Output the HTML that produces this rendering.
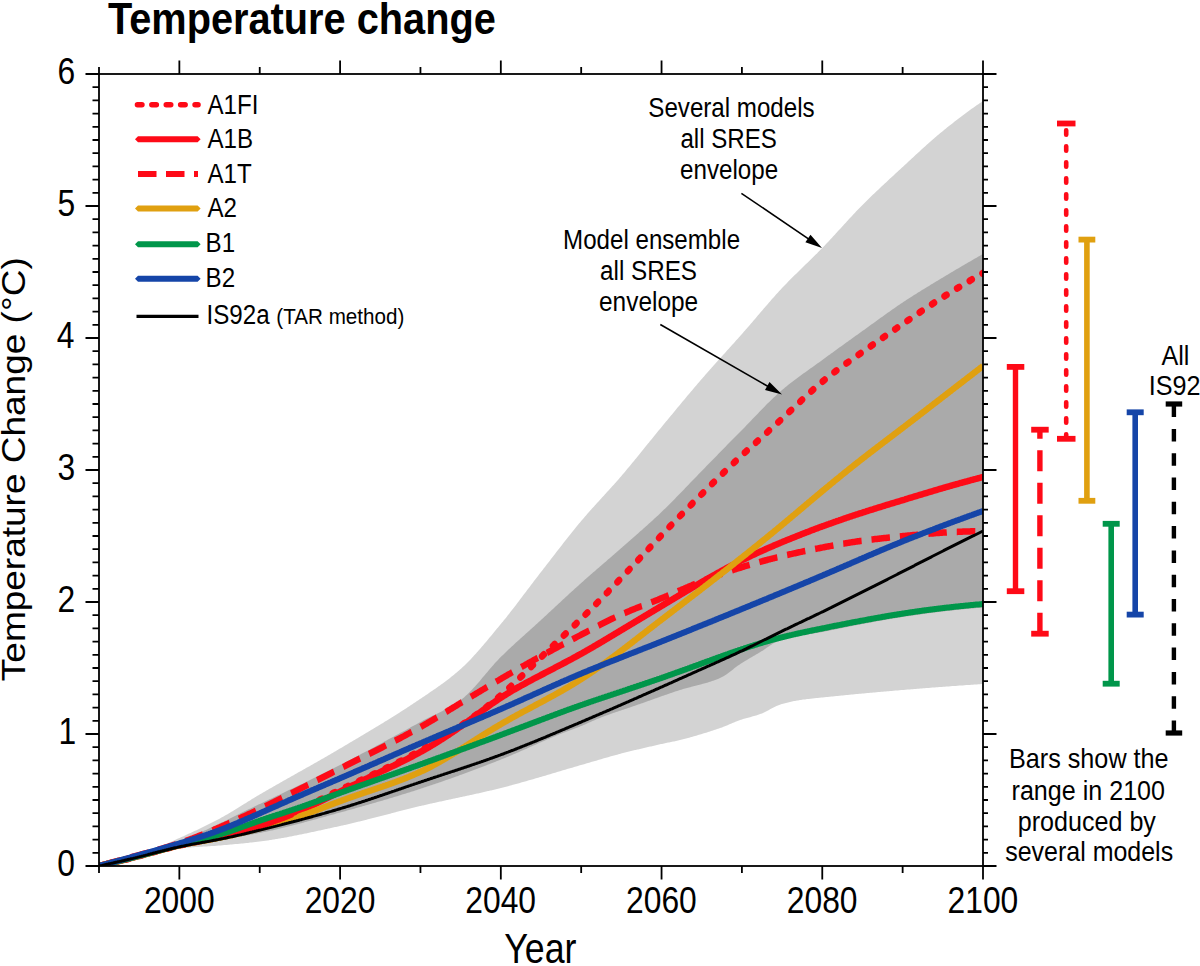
<!DOCTYPE html>
<html><head><meta charset="utf-8"><title>Temperature change</title>
<style>html,body{margin:0;padding:0;background:#fff;}svg{display:block;}text{font-family:"Liberation Sans",sans-serif;}</style>
</head><body>
<svg width="1200" height="966" viewBox="0 0 1200 966" font-family="Liberation Sans, sans-serif">
<rect width="1200" height="966" fill="#fff"/>
<defs><clipPath id="pc"><rect x="99.0" y="74" width="884.0" height="792.0"/></clipPath></defs>
<g clip-path="url(#pc)">
<path d="M99.0 866.0 L100.0 865.8 L101.0 865.6 L102.0 865.4 L103.0 865.2 L104.0 864.9 L105.0 864.7 L106.0 864.5 L107.0 864.3 L108.0 864.0 L109.0 863.8 L110.0 863.6 L111.0 863.3 L112.0 863.1 L113.0 862.8 L114.0 862.5 L115.0 862.3 L116.0 862.0 L117.0 861.7 L118.0 861.5 L119.0 861.2 L120.0 860.9 L121.0 860.6 L122.0 860.3 L123.0 860.1 L124.0 859.8 L125.0 859.5 L126.0 859.2 L127.0 858.9 L128.0 858.6 L129.0 858.3 L130.0 858.0 L131.0 857.6 L132.0 857.3 L133.0 857.0 L134.0 856.7 L135.0 856.4 L136.0 856.0 L137.0 855.7 L138.0 855.4 L139.0 855.1 L140.0 854.7 L141.0 854.4 L142.0 854.0 L143.0 853.7 L144.0 853.3 L145.0 852.9 L146.0 852.6 L147.0 852.2 L148.0 851.8 L149.0 851.4 L150.0 851.0 L151.0 850.6 L152.0 850.2 L153.0 849.8 L154.0 849.4 L155.0 848.9 L156.0 848.5 L157.0 848.1 L158.0 847.7 L159.0 847.2 L160.0 846.8 L161.0 846.3 L162.0 845.9 L163.0 845.4 L164.0 845.0 L165.0 844.5 L166.0 844.1 L167.0 843.6 L168.0 843.2 L169.0 842.7 L170.0 842.3 L171.0 841.8 L172.0 841.4 L173.0 840.9 L174.0 840.4 L175.0 840.0 L176.0 839.5 L177.0 839.1 L178.0 838.6 L179.0 838.2 L180.0 837.7 L181.0 837.3 L182.0 836.8 L183.0 836.4 L184.0 835.9 L185.0 835.4 L186.0 835.0 L187.0 834.5 L188.0 834.1 L189.0 833.6 L190.0 833.2 L191.0 832.7 L192.0 832.2 L193.0 831.8 L194.0 831.3 L195.0 830.8 L196.0 830.4 L197.0 829.9 L198.0 829.4 L199.0 828.9 L200.0 828.5 L201.0 828.0 L202.0 827.5 L203.0 827.0 L204.0 826.5 L205.0 826.0 L206.0 825.5 L207.0 825.1 L208.0 824.6 L209.0 824.1 L210.0 823.6 L211.0 823.0 L212.0 822.5 L213.0 822.0 L214.0 821.5 L215.0 821.0 L216.0 820.5 L217.0 820.0 L218.0 819.4 L219.0 818.9 L220.0 818.4 L221.0 817.8 L222.0 817.3 L223.0 816.7 L224.0 816.2 L225.0 815.6 L226.0 815.0 L227.0 814.4 L228.0 813.9 L229.0 813.3 L230.0 812.7 L231.0 812.1 L232.0 811.5 L233.0 810.9 L234.0 810.3 L235.0 809.7 L236.0 809.1 L237.0 808.4 L238.0 807.8 L239.0 807.2 L240.0 806.6 L241.0 806.0 L242.0 805.3 L243.0 804.7 L244.0 804.1 L245.0 803.5 L246.0 802.9 L247.0 802.2 L248.0 801.6 L249.0 801.0 L250.0 800.4 L251.0 799.8 L252.0 799.1 L253.0 798.5 L254.0 797.9 L255.0 797.3 L256.0 796.7 L257.0 796.1 L258.0 795.5 L259.0 794.9 L260.0 794.3 L261.0 793.8 L262.0 793.2 L263.0 792.6 L264.0 792.0 L265.0 791.4 L266.0 790.8 L267.0 790.3 L268.0 789.7 L269.0 789.1 L270.0 788.5 L271.0 788.0 L272.0 787.4 L273.0 786.8 L274.0 786.2 L275.0 785.7 L276.0 785.1 L277.0 784.5 L278.0 783.9 L279.0 783.4 L280.0 782.8 L281.0 782.2 L282.0 781.7 L283.0 781.1 L284.0 780.5 L285.0 780.0 L286.0 779.4 L287.0 778.8 L288.0 778.3 L289.0 777.7 L290.0 777.2 L291.0 776.6 L292.0 776.0 L293.0 775.5 L294.0 774.9 L295.0 774.3 L296.0 773.8 L297.0 773.2 L298.0 772.6 L299.0 772.1 L300.0 771.5 L301.0 771.0 L302.0 770.4 L303.0 769.8 L304.0 769.3 L305.0 768.7 L306.0 768.1 L307.0 767.6 L308.0 767.0 L309.0 766.4 L310.0 765.9 L311.0 765.3 L312.0 764.7 L313.0 764.2 L314.0 763.6 L315.0 763.0 L316.0 762.5 L317.0 761.9 L318.0 761.3 L319.0 760.8 L320.0 760.2 L321.0 759.6 L322.0 759.0 L323.0 758.5 L324.0 757.9 L325.0 757.3 L326.0 756.7 L327.0 756.2 L328.0 755.6 L329.0 755.0 L330.0 754.4 L331.0 753.8 L332.0 753.3 L333.0 752.7 L334.0 752.1 L335.0 751.5 L336.0 750.9 L337.0 750.3 L338.0 749.7 L339.0 749.1 L340.0 748.6 L341.0 748.0 L342.0 747.4 L343.0 746.8 L344.0 746.2 L345.0 745.6 L346.0 745.0 L347.0 744.4 L348.0 743.8 L349.0 743.2 L350.0 742.6 L351.0 742.0 L352.0 741.4 L353.0 740.8 L354.0 740.3 L355.0 739.7 L356.0 739.1 L357.0 738.5 L358.0 737.9 L359.0 737.3 L360.0 736.7 L361.0 736.1 L362.0 735.5 L363.0 734.9 L364.0 734.3 L365.0 733.7 L366.0 733.1 L367.0 732.5 L368.0 731.9 L369.0 731.3 L370.0 730.7 L371.0 730.1 L372.0 729.5 L373.0 728.9 L374.0 728.3 L375.0 727.7 L376.0 727.1 L377.0 726.5 L378.0 725.9 L379.0 725.3 L380.0 724.7 L381.0 724.1 L382.0 723.5 L383.0 722.9 L384.0 722.2 L385.0 721.6 L386.0 721.0 L387.0 720.4 L388.0 719.8 L389.0 719.2 L390.0 718.5 L391.0 717.9 L392.0 717.3 L393.0 716.7 L394.0 716.0 L395.0 715.4 L396.0 714.8 L397.0 714.2 L398.0 713.5 L399.0 712.9 L400.0 712.3 L401.0 711.6 L402.0 711.0 L403.0 710.3 L404.0 709.7 L405.0 709.0 L406.0 708.4 L407.0 707.8 L408.0 707.1 L409.0 706.4 L410.0 705.8 L411.0 705.1 L412.0 704.5 L413.0 703.8 L414.0 703.1 L415.0 702.5 L416.0 701.8 L417.0 701.1 L418.0 700.5 L419.0 699.8 L420.0 699.1 L421.0 698.4 L422.0 697.7 L423.0 697.1 L424.0 696.4 L425.0 695.7 L426.0 695.0 L427.0 694.4 L428.0 693.7 L429.0 693.0 L430.0 692.3 L431.0 691.6 L432.0 690.9 L433.0 690.3 L434.0 689.6 L435.0 688.9 L436.0 688.2 L437.0 687.5 L438.0 686.8 L439.0 686.1 L440.0 685.4 L441.0 684.6 L442.0 683.9 L443.0 683.2 L444.0 682.4 L445.0 681.7 L446.0 681.0 L447.0 680.2 L448.0 679.4 L449.0 678.7 L450.0 677.9 L451.0 677.1 L452.0 676.3 L453.0 675.5 L454.0 674.7 L455.0 673.8 L456.0 673.0 L457.0 672.2 L458.0 671.3 L459.0 670.4 L460.0 669.6 L461.0 668.7 L462.0 667.8 L463.0 666.8 L464.0 665.9 L465.0 664.9 L466.0 664.0 L467.0 663.0 L468.0 662.0 L469.0 660.9 L470.0 659.9 L471.0 658.9 L472.0 657.8 L473.0 656.7 L474.0 655.6 L475.0 654.5 L476.0 653.4 L477.0 652.3 L478.0 651.2 L479.0 650.0 L480.0 648.9 L481.0 647.7 L482.0 646.6 L483.0 645.4 L484.0 644.2 L485.0 643.0 L486.0 641.9 L487.0 640.7 L488.0 639.5 L489.0 638.3 L490.0 637.1 L491.0 635.9 L492.0 634.7 L493.0 633.4 L494.0 632.2 L495.0 631.0 L496.0 629.8 L497.0 628.6 L498.0 627.4 L499.0 626.2 L500.0 625.0 L501.0 623.8 L502.0 622.6 L503.0 621.4 L504.0 620.1 L505.0 618.9 L506.0 617.7 L507.0 616.4 L508.0 615.1 L509.0 613.9 L510.0 612.6 L511.0 611.3 L512.0 610.0 L513.0 608.8 L514.0 607.5 L515.0 606.2 L516.0 604.9 L517.0 603.5 L518.0 602.2 L519.0 600.9 L520.0 599.6 L521.0 598.3 L522.0 597.0 L523.0 595.6 L524.0 594.3 L525.0 593.0 L526.0 591.7 L527.0 590.3 L528.0 589.0 L529.0 587.7 L530.0 586.4 L531.0 585.0 L532.0 583.7 L533.0 582.4 L534.0 581.1 L535.0 579.8 L536.0 578.5 L537.0 577.2 L538.0 575.9 L539.0 574.6 L540.0 573.3 L541.0 572.0 L542.0 570.7 L543.0 569.4 L544.0 568.1 L545.0 566.9 L546.0 565.6 L547.0 564.3 L548.0 563.0 L549.0 561.7 L550.0 560.4 L551.0 559.1 L552.0 557.8 L553.0 556.5 L554.0 555.2 L555.0 553.9 L556.0 552.6 L557.0 551.3 L558.0 550.0 L559.0 548.7 L560.0 547.4 L561.0 546.2 L562.0 544.9 L563.0 543.6 L564.0 542.3 L565.0 541.0 L566.0 539.8 L567.0 538.5 L568.0 537.2 L569.0 536.0 L570.0 534.7 L571.0 533.4 L572.0 532.2 L573.0 531.0 L574.0 529.7 L575.0 528.5 L576.0 527.3 L577.0 526.0 L578.0 524.8 L579.0 523.6 L580.0 522.4 L581.0 521.2 L582.0 520.0 L583.0 518.9 L584.0 517.7 L585.0 516.5 L586.0 515.4 L587.0 514.2 L588.0 513.1 L589.0 511.9 L590.0 510.8 L591.0 509.7 L592.0 508.6 L593.0 507.5 L594.0 506.4 L595.0 505.3 L596.0 504.2 L597.0 503.1 L598.0 502.0 L599.0 500.9 L600.0 499.8 L601.0 498.7 L602.0 497.6 L603.0 496.5 L604.0 495.4 L605.0 494.3 L606.0 493.2 L607.0 492.1 L608.0 491.0 L609.0 489.9 L610.0 488.8 L611.0 487.7 L612.0 486.6 L613.0 485.5 L614.0 484.4 L615.0 483.3 L616.0 482.2 L617.0 481.0 L618.0 479.9 L619.0 478.7 L620.0 477.6 L621.0 476.4 L622.0 475.3 L623.0 474.1 L624.0 472.9 L625.0 471.7 L626.0 470.5 L627.0 469.3 L628.0 468.1 L629.0 466.9 L630.0 465.7 L631.0 464.5 L632.0 463.3 L633.0 462.1 L634.0 460.9 L635.0 459.6 L636.0 458.4 L637.0 457.2 L638.0 456.0 L639.0 454.7 L640.0 453.5 L641.0 452.3 L642.0 451.0 L643.0 449.8 L644.0 448.5 L645.0 447.3 L646.0 446.1 L647.0 444.8 L648.0 443.6 L649.0 442.4 L650.0 441.1 L651.0 439.9 L652.0 438.7 L653.0 437.4 L654.0 436.2 L655.0 435.0 L656.0 433.7 L657.0 432.5 L658.0 431.3 L659.0 430.1 L660.0 428.9 L661.0 427.7 L662.0 426.5 L663.0 425.2 L664.0 424.0 L665.0 422.8 L666.0 421.6 L667.0 420.4 L668.0 419.2 L669.0 418.0 L670.0 416.8 L671.0 415.6 L672.0 414.4 L673.0 413.2 L674.0 411.9 L675.0 410.7 L676.0 409.5 L677.0 408.3 L678.0 407.1 L679.0 405.9 L680.0 404.7 L681.0 403.5 L682.0 402.3 L683.0 401.1 L684.0 399.9 L685.0 398.7 L686.0 397.5 L687.0 396.3 L688.0 395.1 L689.0 393.9 L690.0 392.8 L691.0 391.6 L692.0 390.4 L693.0 389.2 L694.0 388.0 L695.0 386.8 L696.0 385.7 L697.0 384.5 L698.0 383.3 L699.0 382.2 L700.0 381.0 L701.0 379.8 L702.0 378.7 L703.0 377.5 L704.0 376.4 L705.0 375.2 L706.0 374.1 L707.0 373.0 L708.0 371.8 L709.0 370.7 L710.0 369.6 L711.0 368.4 L712.0 367.3 L713.0 366.2 L714.0 365.1 L715.0 364.0 L716.0 362.8 L717.0 361.7 L718.0 360.6 L719.0 359.5 L720.0 358.4 L721.0 357.3 L722.0 356.2 L723.0 355.1 L724.0 354.0 L725.0 352.9 L726.0 351.8 L727.0 350.6 L728.0 349.5 L729.0 348.4 L730.0 347.3 L731.0 346.2 L732.0 345.1 L733.0 344.0 L734.0 342.9 L735.0 341.8 L736.0 340.6 L737.0 339.5 L738.0 338.4 L739.0 337.3 L740.0 336.2 L741.0 335.0 L742.0 333.9 L743.0 332.8 L744.0 331.6 L745.0 330.5 L746.0 329.3 L747.0 328.2 L748.0 327.0 L749.0 325.9 L750.0 324.7 L751.0 323.5 L752.0 322.4 L753.0 321.2 L754.0 320.0 L755.0 318.9 L756.0 317.7 L757.0 316.5 L758.0 315.3 L759.0 314.2 L760.0 313.0 L761.0 311.8 L762.0 310.7 L763.0 309.5 L764.0 308.3 L765.0 307.2 L766.0 306.0 L767.0 304.9 L768.0 303.7 L769.0 302.5 L770.0 301.4 L771.0 300.3 L772.0 299.1 L773.0 298.0 L774.0 296.9 L775.0 295.7 L776.0 294.6 L777.0 293.5 L778.0 292.4 L779.0 291.3 L780.0 290.2 L781.0 289.2 L782.0 288.1 L783.0 287.0 L784.0 286.0 L785.0 284.9 L786.0 283.9 L787.0 282.9 L788.0 281.8 L789.0 280.8 L790.0 279.8 L791.0 278.8 L792.0 277.8 L793.0 276.8 L794.0 275.8 L795.0 274.8 L796.0 273.9 L797.0 272.9 L798.0 271.9 L799.0 270.9 L800.0 269.9 L801.0 269.0 L802.0 268.0 L803.0 267.0 L804.0 266.1 L805.0 265.1 L806.0 264.1 L807.0 263.2 L808.0 262.2 L809.0 261.2 L810.0 260.2 L811.0 259.3 L812.0 258.3 L813.0 257.3 L814.0 256.3 L815.0 255.3 L816.0 254.3 L817.0 253.4 L818.0 252.3 L819.0 251.3 L820.0 250.3 L821.0 249.3 L822.0 248.3 L823.0 247.2 L824.0 246.2 L825.0 245.2 L826.0 244.1 L827.0 243.1 L828.0 242.0 L829.0 240.9 L830.0 239.8 L831.0 238.8 L832.0 237.7 L833.0 236.6 L834.0 235.5 L835.0 234.4 L836.0 233.3 L837.0 232.2 L838.0 231.1 L839.0 230.1 L840.0 229.0 L841.0 227.9 L842.0 226.8 L843.0 225.7 L844.0 224.6 L845.0 223.5 L846.0 222.4 L847.0 221.3 L848.0 220.2 L849.0 219.1 L850.0 218.0 L851.0 217.0 L852.0 215.9 L853.0 214.8 L854.0 213.8 L855.0 212.7 L856.0 211.6 L857.0 210.6 L858.0 209.6 L859.0 208.5 L860.0 207.5 L861.0 206.5 L862.0 205.5 L863.0 204.5 L864.0 203.5 L865.0 202.5 L866.0 201.5 L867.0 200.5 L868.0 199.5 L869.0 198.5 L870.0 197.5 L871.0 196.6 L872.0 195.6 L873.0 194.6 L874.0 193.7 L875.0 192.7 L876.0 191.8 L877.0 190.8 L878.0 189.9 L879.0 188.9 L880.0 188.0 L881.0 187.0 L882.0 186.1 L883.0 185.2 L884.0 184.2 L885.0 183.3 L886.0 182.4 L887.0 181.4 L888.0 180.5 L889.0 179.6 L890.0 178.6 L891.0 177.7 L892.0 176.8 L893.0 175.9 L894.0 174.9 L895.0 174.0 L896.0 173.1 L897.0 172.2 L898.0 171.3 L899.0 170.3 L900.0 169.4 L901.0 168.5 L902.0 167.6 L903.0 166.7 L904.0 165.7 L905.0 164.8 L906.0 163.9 L907.0 163.0 L908.0 162.0 L909.0 161.1 L910.0 160.2 L911.0 159.3 L912.0 158.3 L913.0 157.4 L914.0 156.5 L915.0 155.6 L916.0 154.6 L917.0 153.7 L918.0 152.8 L919.0 151.9 L920.0 151.0 L921.0 150.0 L922.0 149.1 L923.0 148.2 L924.0 147.3 L925.0 146.4 L926.0 145.5 L927.0 144.6 L928.0 143.7 L929.0 142.8 L930.0 141.9 L931.0 141.0 L932.0 140.2 L933.0 139.3 L934.0 138.4 L935.0 137.6 L936.0 136.7 L937.0 135.8 L938.0 135.0 L939.0 134.2 L940.0 133.3 L941.0 132.5 L942.0 131.7 L943.0 130.9 L944.0 130.0 L945.0 129.2 L946.0 128.4 L947.0 127.6 L948.0 126.8 L949.0 126.0 L950.0 125.2 L951.0 124.4 L952.0 123.7 L953.0 122.9 L954.0 122.1 L955.0 121.3 L956.0 120.5 L957.0 119.8 L958.0 119.0 L959.0 118.2 L960.0 117.5 L961.0 116.7 L962.0 116.0 L963.0 115.2 L964.0 114.5 L965.0 113.7 L966.0 113.0 L967.0 112.3 L968.0 111.5 L969.0 110.8 L970.0 110.1 L971.0 109.3 L972.0 108.6 L973.0 107.9 L974.0 107.2 L975.0 106.5 L976.0 105.8 L977.0 105.1 L978.0 104.4 L979.0 103.7 L980.0 103.0 L981.0 102.4 L982.0 101.7 L983.0 101.0 L983.0 684.0 L982.0 684.1 L981.0 684.1 L980.0 684.2 L979.0 684.3 L978.0 684.3 L977.0 684.4 L976.0 684.5 L975.0 684.5 L974.0 684.6 L973.0 684.7 L972.0 684.7 L971.0 684.8 L970.0 684.9 L969.0 684.9 L968.0 685.0 L967.0 685.1 L966.0 685.1 L965.0 685.2 L964.0 685.3 L963.0 685.4 L962.0 685.4 L961.0 685.5 L960.0 685.6 L959.0 685.6 L958.0 685.7 L957.0 685.8 L956.0 685.9 L955.0 685.9 L954.0 686.0 L953.0 686.1 L952.0 686.1 L951.0 686.2 L950.0 686.3 L949.0 686.4 L948.0 686.4 L947.0 686.5 L946.0 686.6 L945.0 686.7 L944.0 686.7 L943.0 686.8 L942.0 686.9 L941.0 687.0 L940.0 687.0 L939.0 687.1 L938.0 687.2 L937.0 687.3 L936.0 687.3 L935.0 687.4 L934.0 687.5 L933.0 687.6 L932.0 687.6 L931.0 687.7 L930.0 687.8 L929.0 687.9 L928.0 688.0 L927.0 688.0 L926.0 688.1 L925.0 688.2 L924.0 688.3 L923.0 688.3 L922.0 688.4 L921.0 688.5 L920.0 688.6 L919.0 688.7 L918.0 688.7 L917.0 688.8 L916.0 688.9 L915.0 689.0 L914.0 689.1 L913.0 689.2 L912.0 689.2 L911.0 689.3 L910.0 689.4 L909.0 689.5 L908.0 689.6 L907.0 689.6 L906.0 689.7 L905.0 689.8 L904.0 689.9 L903.0 690.0 L902.0 690.1 L901.0 690.1 L900.0 690.2 L899.0 690.3 L898.0 690.4 L897.0 690.5 L896.0 690.6 L895.0 690.6 L894.0 690.7 L893.0 690.8 L892.0 690.9 L891.0 691.0 L890.0 691.1 L889.0 691.2 L888.0 691.2 L887.0 691.3 L886.0 691.4 L885.0 691.5 L884.0 691.6 L883.0 691.7 L882.0 691.8 L881.0 691.8 L880.0 691.9 L879.0 692.0 L878.0 692.1 L877.0 692.2 L876.0 692.3 L875.0 692.4 L874.0 692.5 L873.0 692.6 L872.0 692.7 L871.0 692.7 L870.0 692.8 L869.0 692.9 L868.0 693.0 L867.0 693.1 L866.0 693.2 L865.0 693.3 L864.0 693.4 L863.0 693.5 L862.0 693.6 L861.0 693.7 L860.0 693.8 L859.0 693.8 L858.0 693.9 L857.0 694.0 L856.0 694.1 L855.0 694.2 L854.0 694.3 L853.0 694.4 L852.0 694.5 L851.0 694.6 L850.0 694.7 L849.0 694.8 L848.0 694.9 L847.0 695.0 L846.0 695.1 L845.0 695.2 L844.0 695.3 L843.0 695.4 L842.0 695.5 L841.0 695.6 L840.0 695.7 L839.0 695.8 L838.0 695.9 L837.0 696.0 L836.0 696.1 L835.0 696.2 L834.0 696.3 L833.0 696.4 L832.0 696.5 L831.0 696.6 L830.0 696.7 L829.0 696.8 L828.0 696.9 L827.0 697.0 L826.0 697.1 L825.0 697.2 L824.0 697.3 L823.0 697.4 L822.0 697.5 L821.0 697.6 L820.0 697.7 L819.0 697.8 L818.0 697.9 L817.0 698.0 L816.0 698.1 L815.0 698.2 L814.0 698.3 L813.0 698.5 L812.0 698.6 L811.0 698.7 L810.0 698.8 L809.0 698.9 L808.0 699.0 L807.0 699.1 L806.0 699.3 L805.0 699.4 L804.0 699.5 L803.0 699.6 L802.0 699.8 L801.0 699.9 L800.0 700.1 L799.0 700.2 L798.0 700.4 L797.0 700.6 L796.0 700.8 L795.0 701.0 L794.0 701.1 L793.0 701.3 L792.0 701.6 L791.0 701.8 L790.0 702.0 L789.0 702.2 L788.0 702.5 L787.0 702.7 L786.0 703.0 L785.0 703.2 L784.0 703.5 L783.0 703.8 L782.0 704.0 L781.0 704.3 L780.0 704.7 L779.0 705.0 L778.0 705.4 L777.0 705.8 L776.0 706.2 L775.0 706.7 L774.0 707.2 L773.0 707.7 L772.0 708.3 L771.0 708.8 L770.0 709.3 L769.0 709.9 L768.0 710.4 L767.0 710.9 L766.0 711.5 L765.0 712.0 L764.0 712.5 L763.0 712.9 L762.0 713.4 L761.0 713.8 L760.0 714.1 L759.0 714.5 L758.0 714.8 L757.0 715.2 L756.0 715.5 L755.0 715.8 L754.0 716.1 L753.0 716.3 L752.0 716.6 L751.0 716.9 L750.0 717.2 L749.0 717.4 L748.0 717.7 L747.0 718.0 L746.0 718.3 L745.0 718.5 L744.0 718.8 L743.0 719.1 L742.0 719.4 L741.0 719.8 L740.0 720.1 L739.0 720.5 L738.0 720.8 L737.0 721.2 L736.0 721.6 L735.0 722.0 L734.0 722.4 L733.0 722.8 L732.0 723.2 L731.0 723.7 L730.0 724.1 L729.0 724.5 L728.0 724.9 L727.0 725.4 L726.0 725.8 L725.0 726.2 L724.0 726.6 L723.0 727.0 L722.0 727.4 L721.0 727.7 L720.0 728.1 L719.0 728.4 L718.0 728.8 L717.0 729.1 L716.0 729.4 L715.0 729.8 L714.0 730.1 L713.0 730.4 L712.0 730.8 L711.0 731.1 L710.0 731.4 L709.0 731.7 L708.0 732.1 L707.0 732.4 L706.0 732.7 L705.0 733.0 L704.0 733.3 L703.0 733.6 L702.0 733.9 L701.0 734.2 L700.0 734.5 L699.0 734.8 L698.0 735.1 L697.0 735.4 L696.0 735.7 L695.0 736.0 L694.0 736.3 L693.0 736.6 L692.0 736.9 L691.0 737.1 L690.0 737.4 L689.0 737.7 L688.0 737.9 L687.0 738.2 L686.0 738.5 L685.0 738.7 L684.0 739.0 L683.0 739.3 L682.0 739.5 L681.0 739.8 L680.0 740.0 L679.0 740.2 L678.0 740.5 L677.0 740.7 L676.0 740.9 L675.0 741.2 L674.0 741.4 L673.0 741.6 L672.0 741.8 L671.0 742.0 L670.0 742.2 L669.0 742.4 L668.0 742.6 L667.0 742.8 L666.0 743.0 L665.0 743.2 L664.0 743.5 L663.0 743.7 L662.0 743.9 L661.0 744.1 L660.0 744.3 L659.0 744.6 L658.0 744.8 L657.0 745.0 L656.0 745.2 L655.0 745.5 L654.0 745.7 L653.0 745.9 L652.0 746.2 L651.0 746.4 L650.0 746.6 L649.0 746.8 L648.0 747.1 L647.0 747.3 L646.0 747.5 L645.0 747.8 L644.0 748.0 L643.0 748.2 L642.0 748.5 L641.0 748.7 L640.0 748.9 L639.0 749.2 L638.0 749.4 L637.0 749.6 L636.0 749.9 L635.0 750.1 L634.0 750.3 L633.0 750.6 L632.0 750.8 L631.0 751.1 L630.0 751.3 L629.0 751.6 L628.0 751.8 L627.0 752.1 L626.0 752.3 L625.0 752.6 L624.0 752.8 L623.0 753.1 L622.0 753.3 L621.0 753.6 L620.0 753.9 L619.0 754.1 L618.0 754.4 L617.0 754.7 L616.0 754.9 L615.0 755.2 L614.0 755.5 L613.0 755.8 L612.0 756.0 L611.0 756.3 L610.0 756.6 L609.0 756.9 L608.0 757.2 L607.0 757.4 L606.0 757.7 L605.0 758.0 L604.0 758.3 L603.0 758.6 L602.0 758.9 L601.0 759.2 L600.0 759.5 L599.0 759.8 L598.0 760.1 L597.0 760.4 L596.0 760.7 L595.0 761.0 L594.0 761.3 L593.0 761.6 L592.0 761.8 L591.0 762.1 L590.0 762.4 L589.0 762.7 L588.0 763.0 L587.0 763.3 L586.0 763.6 L585.0 763.9 L584.0 764.2 L583.0 764.5 L582.0 764.8 L581.0 765.1 L580.0 765.3 L579.0 765.6 L578.0 765.9 L577.0 766.2 L576.0 766.5 L575.0 766.8 L574.0 767.1 L573.0 767.4 L572.0 767.7 L571.0 768.0 L570.0 768.2 L569.0 768.5 L568.0 768.8 L567.0 769.1 L566.0 769.4 L565.0 769.7 L564.0 770.0 L563.0 770.3 L562.0 770.6 L561.0 770.9 L560.0 771.2 L559.0 771.5 L558.0 771.8 L557.0 772.1 L556.0 772.4 L555.0 772.7 L554.0 773.0 L553.0 773.3 L552.0 773.6 L551.0 773.9 L550.0 774.2 L549.0 774.5 L548.0 774.8 L547.0 775.1 L546.0 775.4 L545.0 775.7 L544.0 776.0 L543.0 776.3 L542.0 776.6 L541.0 776.9 L540.0 777.1 L539.0 777.4 L538.0 777.7 L537.0 778.0 L536.0 778.3 L535.0 778.6 L534.0 778.9 L533.0 779.2 L532.0 779.5 L531.0 779.8 L530.0 780.1 L529.0 780.3 L528.0 780.6 L527.0 780.9 L526.0 781.2 L525.0 781.5 L524.0 781.8 L523.0 782.1 L522.0 782.3 L521.0 782.6 L520.0 782.9 L519.0 783.2 L518.0 783.5 L517.0 783.7 L516.0 784.0 L515.0 784.3 L514.0 784.5 L513.0 784.8 L512.0 785.1 L511.0 785.4 L510.0 785.6 L509.0 785.9 L508.0 786.2 L507.0 786.4 L506.0 786.7 L505.0 786.9 L504.0 787.2 L503.0 787.4 L502.0 787.7 L501.0 788.0 L500.0 788.2 L499.0 788.5 L498.0 788.7 L497.0 788.9 L496.0 789.2 L495.0 789.4 L494.0 789.7 L493.0 789.9 L492.0 790.2 L491.0 790.4 L490.0 790.6 L489.0 790.9 L488.0 791.1 L487.0 791.3 L486.0 791.6 L485.0 791.8 L484.0 792.0 L483.0 792.2 L482.0 792.5 L481.0 792.7 L480.0 792.9 L479.0 793.2 L478.0 793.4 L477.0 793.6 L476.0 793.8 L475.0 794.0 L474.0 794.3 L473.0 794.5 L472.0 794.7 L471.0 794.9 L470.0 795.1 L469.0 795.4 L468.0 795.6 L467.0 795.8 L466.0 796.0 L465.0 796.2 L464.0 796.4 L463.0 796.6 L462.0 796.9 L461.0 797.1 L460.0 797.3 L459.0 797.5 L458.0 797.7 L457.0 797.9 L456.0 798.1 L455.0 798.4 L454.0 798.6 L453.0 798.8 L452.0 799.0 L451.0 799.2 L450.0 799.4 L449.0 799.6 L448.0 799.9 L447.0 800.1 L446.0 800.3 L445.0 800.5 L444.0 800.7 L443.0 800.9 L442.0 801.2 L441.0 801.4 L440.0 801.6 L439.0 801.8 L438.0 802.0 L437.0 802.2 L436.0 802.5 L435.0 802.7 L434.0 802.9 L433.0 803.1 L432.0 803.4 L431.0 803.6 L430.0 803.8 L429.0 804.0 L428.0 804.3 L427.0 804.5 L426.0 804.7 L425.0 804.9 L424.0 805.2 L423.0 805.4 L422.0 805.6 L421.0 805.9 L420.0 806.1 L419.0 806.3 L418.0 806.6 L417.0 806.8 L416.0 807.1 L415.0 807.3 L414.0 807.5 L413.0 807.8 L412.0 808.0 L411.0 808.3 L410.0 808.5 L409.0 808.8 L408.0 809.0 L407.0 809.3 L406.0 809.5 L405.0 809.8 L404.0 810.0 L403.0 810.3 L402.0 810.6 L401.0 810.8 L400.0 811.1 L399.0 811.3 L398.0 811.6 L397.0 811.8 L396.0 812.1 L395.0 812.4 L394.0 812.6 L393.0 812.9 L392.0 813.1 L391.0 813.4 L390.0 813.7 L389.0 813.9 L388.0 814.2 L387.0 814.4 L386.0 814.7 L385.0 815.0 L384.0 815.2 L383.0 815.5 L382.0 815.7 L381.0 816.0 L380.0 816.3 L379.0 816.5 L378.0 816.8 L377.0 817.0 L376.0 817.3 L375.0 817.6 L374.0 817.8 L373.0 818.1 L372.0 818.3 L371.0 818.6 L370.0 818.8 L369.0 819.1 L368.0 819.3 L367.0 819.6 L366.0 819.9 L365.0 820.1 L364.0 820.4 L363.0 820.6 L362.0 820.9 L361.0 821.1 L360.0 821.4 L359.0 821.6 L358.0 821.8 L357.0 822.1 L356.0 822.3 L355.0 822.6 L354.0 822.8 L353.0 823.1 L352.0 823.3 L351.0 823.5 L350.0 823.8 L349.0 824.0 L348.0 824.2 L347.0 824.5 L346.0 824.7 L345.0 824.9 L344.0 825.1 L343.0 825.4 L342.0 825.6 L341.0 825.8 L340.0 826.0 L339.0 826.2 L338.0 826.5 L337.0 826.7 L336.0 826.9 L335.0 827.1 L334.0 827.3 L333.0 827.5 L332.0 827.8 L331.0 828.0 L330.0 828.2 L329.0 828.4 L328.0 828.6 L327.0 828.9 L326.0 829.1 L325.0 829.3 L324.0 829.5 L323.0 829.7 L322.0 830.0 L321.0 830.2 L320.0 830.4 L319.0 830.6 L318.0 830.8 L317.0 831.1 L316.0 831.3 L315.0 831.5 L314.0 831.7 L313.0 831.9 L312.0 832.1 L311.0 832.3 L310.0 832.6 L309.0 832.8 L308.0 833.0 L307.0 833.2 L306.0 833.4 L305.0 833.6 L304.0 833.8 L303.0 834.0 L302.0 834.2 L301.0 834.4 L300.0 834.6 L299.0 834.8 L298.0 835.0 L297.0 835.2 L296.0 835.4 L295.0 835.6 L294.0 835.8 L293.0 836.0 L292.0 836.2 L291.0 836.4 L290.0 836.6 L289.0 836.8 L288.0 837.0 L287.0 837.2 L286.0 837.4 L285.0 837.5 L284.0 837.7 L283.0 837.9 L282.0 838.1 L281.0 838.3 L280.0 838.4 L279.0 838.6 L278.0 838.8 L277.0 838.9 L276.0 839.1 L275.0 839.3 L274.0 839.4 L273.0 839.6 L272.0 839.8 L271.0 839.9 L270.0 840.1 L269.0 840.2 L268.0 840.4 L267.0 840.5 L266.0 840.7 L265.0 840.8 L264.0 840.9 L263.0 841.1 L262.0 841.2 L261.0 841.3 L260.0 841.5 L259.0 841.6 L258.0 841.7 L257.0 841.8 L256.0 842.0 L255.0 842.1 L254.0 842.2 L253.0 842.3 L252.0 842.4 L251.0 842.5 L250.0 842.6 L249.0 842.8 L248.0 842.9 L247.0 843.0 L246.0 843.1 L245.0 843.2 L244.0 843.3 L243.0 843.4 L242.0 843.5 L241.0 843.6 L240.0 843.7 L239.0 843.8 L238.0 843.9 L237.0 844.0 L236.0 844.1 L235.0 844.1 L234.0 844.2 L233.0 844.3 L232.0 844.4 L231.0 844.5 L230.0 844.6 L229.0 844.7 L228.0 844.8 L227.0 844.9 L226.0 844.9 L225.0 845.0 L224.0 845.1 L223.0 845.2 L222.0 845.3 L221.0 845.4 L220.0 845.5 L219.0 845.5 L218.0 845.6 L217.0 845.7 L216.0 845.8 L215.0 845.9 L214.0 845.9 L213.0 846.0 L212.0 846.1 L211.0 846.1 L210.0 846.2 L209.0 846.3 L208.0 846.3 L207.0 846.4 L206.0 846.5 L205.0 846.5 L204.0 846.6 L203.0 846.6 L202.0 846.7 L201.0 846.8 L200.0 846.8 L199.0 846.9 L198.0 846.9 L197.0 847.0 L196.0 847.1 L195.0 847.1 L194.0 847.2 L193.0 847.3 L192.0 847.3 L191.0 847.4 L190.0 847.5 L189.0 847.6 L188.0 847.7 L187.0 847.7 L186.0 847.8 L185.0 847.9 L184.0 848.0 L183.0 848.1 L182.0 848.2 L181.0 848.3 L180.0 848.4 L179.0 848.5 L178.0 848.7 L177.0 848.8 L176.0 849.0 L175.0 849.1 L174.0 849.3 L173.0 849.5 L172.0 849.7 L171.0 849.9 L170.0 850.2 L169.0 850.4 L168.0 850.6 L167.0 850.9 L166.0 851.1 L165.0 851.4 L164.0 851.7 L163.0 851.9 L162.0 852.2 L161.0 852.5 L160.0 852.8 L159.0 853.1 L158.0 853.4 L157.0 853.7 L156.0 854.0 L155.0 854.3 L154.0 854.6 L153.0 854.9 L152.0 855.1 L151.0 855.4 L150.0 855.7 L149.0 856.0 L148.0 856.3 L147.0 856.6 L146.0 856.8 L145.0 857.1 L144.0 857.4 L143.0 857.6 L142.0 857.9 L141.0 858.1 L140.0 858.3 L139.0 858.5 L138.0 858.8 L137.0 859.0 L136.0 859.2 L135.0 859.4 L134.0 859.6 L133.0 859.8 L132.0 860.0 L131.0 860.2 L130.0 860.4 L129.0 860.6 L128.0 860.8 L127.0 861.0 L126.0 861.2 L125.0 861.4 L124.0 861.6 L123.0 861.8 L122.0 862.0 L121.0 862.2 L120.0 862.4 L119.0 862.6 L118.0 862.7 L117.0 862.9 L116.0 863.1 L115.0 863.3 L114.0 863.5 L113.0 863.7 L112.0 863.8 L111.0 864.0 L110.0 864.2 L109.0 864.4 L108.0 864.5 L107.0 864.7 L106.0 864.9 L105.0 865.0 L104.0 865.2 L103.0 865.4 L102.0 865.5 L101.0 865.7 L100.0 865.8 L99.0 866.0 Z" fill="#d3d3d3"/>
<path d="M99.0 866.0 L100.0 865.8 L101.0 865.5 L102.0 865.3 L103.0 865.0 L104.0 864.8 L105.0 864.5 L106.0 864.3 L107.0 864.0 L108.0 863.8 L109.0 863.5 L110.0 863.3 L111.0 863.0 L112.0 862.7 L113.0 862.5 L114.0 862.2 L115.0 861.9 L116.0 861.7 L117.0 861.4 L118.0 861.1 L119.0 860.8 L120.0 860.6 L121.0 860.3 L122.0 860.0 L123.0 859.7 L124.0 859.4 L125.0 859.1 L126.0 858.9 L127.0 858.6 L128.0 858.3 L129.0 858.0 L130.0 857.7 L131.0 857.4 L132.0 857.1 L133.0 856.8 L134.0 856.5 L135.0 856.2 L136.0 855.8 L137.0 855.5 L138.0 855.2 L139.0 854.9 L140.0 854.6 L141.0 854.3 L142.0 854.0 L143.0 853.6 L144.0 853.3 L145.0 853.0 L146.0 852.7 L147.0 852.3 L148.0 852.0 L149.0 851.7 L150.0 851.4 L151.0 851.0 L152.0 850.7 L153.0 850.4 L154.0 850.0 L155.0 849.7 L156.0 849.3 L157.0 849.0 L158.0 848.7 L159.0 848.3 L160.0 848.0 L161.0 847.6 L162.0 847.3 L163.0 846.9 L164.0 846.6 L165.0 846.2 L166.0 845.9 L167.0 845.5 L168.0 845.1 L169.0 844.8 L170.0 844.4 L171.0 844.1 L172.0 843.7 L173.0 843.3 L174.0 843.0 L175.0 842.6 L176.0 842.2 L177.0 841.9 L178.0 841.5 L179.0 841.1 L180.0 840.8 L181.0 840.4 L182.0 840.0 L183.0 839.6 L184.0 839.2 L185.0 838.8 L186.0 838.4 L187.0 838.0 L188.0 837.6 L189.0 837.2 L190.0 836.8 L191.0 836.4 L192.0 836.0 L193.0 835.6 L194.0 835.2 L195.0 834.7 L196.0 834.3 L197.0 833.9 L198.0 833.4 L199.0 833.0 L200.0 832.6 L201.0 832.1 L202.0 831.7 L203.0 831.2 L204.0 830.8 L205.0 830.3 L206.0 829.9 L207.0 829.4 L208.0 829.0 L209.0 828.5 L210.0 828.0 L211.0 827.6 L212.0 827.1 L213.0 826.6 L214.0 826.2 L215.0 825.7 L216.0 825.2 L217.0 824.7 L218.0 824.3 L219.0 823.8 L220.0 823.3 L221.0 822.8 L222.0 822.3 L223.0 821.9 L224.0 821.4 L225.0 820.9 L226.0 820.4 L227.0 819.9 L228.0 819.4 L229.0 818.9 L230.0 818.4 L231.0 818.0 L232.0 817.5 L233.0 817.0 L234.0 816.5 L235.0 816.0 L236.0 815.5 L237.0 815.0 L238.0 814.5 L239.0 814.0 L240.0 813.5 L241.0 813.1 L242.0 812.6 L243.0 812.1 L244.0 811.6 L245.0 811.1 L246.0 810.6 L247.0 810.1 L248.0 809.6 L249.0 809.1 L250.0 808.7 L251.0 808.2 L252.0 807.7 L253.0 807.2 L254.0 806.7 L255.0 806.3 L256.0 805.8 L257.0 805.3 L258.0 804.8 L259.0 804.3 L260.0 803.9 L261.0 803.4 L262.0 802.9 L263.0 802.5 L264.0 802.0 L265.0 801.5 L266.0 801.0 L267.0 800.6 L268.0 800.1 L269.0 799.6 L270.0 799.1 L271.0 798.7 L272.0 798.2 L273.0 797.7 L274.0 797.2 L275.0 796.8 L276.0 796.3 L277.0 795.8 L278.0 795.3 L279.0 794.9 L280.0 794.4 L281.0 793.9 L282.0 793.4 L283.0 793.0 L284.0 792.5 L285.0 792.0 L286.0 791.5 L287.0 791.1 L288.0 790.6 L289.0 790.1 L290.0 789.6 L291.0 789.1 L292.0 788.7 L293.0 788.2 L294.0 787.7 L295.0 787.2 L296.0 786.7 L297.0 786.3 L298.0 785.8 L299.0 785.3 L300.0 784.8 L301.0 784.3 L302.0 783.9 L303.0 783.4 L304.0 782.9 L305.0 782.4 L306.0 781.9 L307.0 781.4 L308.0 780.9 L309.0 780.5 L310.0 780.0 L311.0 779.5 L312.0 779.0 L313.0 778.5 L314.0 778.0 L315.0 777.5 L316.0 777.0 L317.0 776.5 L318.0 776.1 L319.0 775.6 L320.0 775.1 L321.0 774.6 L322.0 774.1 L323.0 773.6 L324.0 773.1 L325.0 772.6 L326.0 772.1 L327.0 771.6 L328.0 771.1 L329.0 770.6 L330.0 770.1 L331.0 769.6 L332.0 769.1 L333.0 768.6 L334.0 768.1 L335.0 767.6 L336.0 767.1 L337.0 766.6 L338.0 766.1 L339.0 765.6 L340.0 765.0 L341.0 764.5 L342.0 764.0 L343.0 763.5 L344.0 763.0 L345.0 762.5 L346.0 762.0 L347.0 761.5 L348.0 760.9 L349.0 760.4 L350.0 759.9 L351.0 759.4 L352.0 758.9 L353.0 758.3 L354.0 757.8 L355.0 757.3 L356.0 756.8 L357.0 756.2 L358.0 755.7 L359.0 755.2 L360.0 754.7 L361.0 754.1 L362.0 753.6 L363.0 753.1 L364.0 752.5 L365.0 752.0 L366.0 751.5 L367.0 751.0 L368.0 750.4 L369.0 749.9 L370.0 749.4 L371.0 748.8 L372.0 748.3 L373.0 747.7 L374.0 747.2 L375.0 746.7 L376.0 746.1 L377.0 745.6 L378.0 745.1 L379.0 744.5 L380.0 744.0 L381.0 743.4 L382.0 742.9 L383.0 742.4 L384.0 741.8 L385.0 741.3 L386.0 740.7 L387.0 740.2 L388.0 739.6 L389.0 739.1 L390.0 738.6 L391.0 738.0 L392.0 737.5 L393.0 736.9 L394.0 736.4 L395.0 735.8 L396.0 735.3 L397.0 734.8 L398.0 734.2 L399.0 733.7 L400.0 733.1 L401.0 732.6 L402.0 732.0 L403.0 731.5 L404.0 730.9 L405.0 730.4 L406.0 729.9 L407.0 729.3 L408.0 728.8 L409.0 728.2 L410.0 727.7 L411.0 727.1 L412.0 726.6 L413.0 726.0 L414.0 725.5 L415.0 725.0 L416.0 724.4 L417.0 723.9 L418.0 723.3 L419.0 722.8 L420.0 722.2 L421.0 721.7 L422.0 721.2 L423.0 720.6 L424.0 720.1 L425.0 719.6 L426.0 719.1 L427.0 718.6 L428.0 718.1 L429.0 717.6 L430.0 717.1 L431.0 716.6 L432.0 716.1 L433.0 715.6 L434.0 715.2 L435.0 714.7 L436.0 714.2 L437.0 713.7 L438.0 713.2 L439.0 712.7 L440.0 712.2 L441.0 711.7 L442.0 711.2 L443.0 710.7 L444.0 710.1 L445.0 709.6 L446.0 709.1 L447.0 708.5 L448.0 708.0 L449.0 707.4 L450.0 706.9 L451.0 706.3 L452.0 705.7 L453.0 705.1 L454.0 704.5 L455.0 703.8 L456.0 703.2 L457.0 702.5 L458.0 701.9 L459.0 701.2 L460.0 700.5 L461.0 699.7 L462.0 699.0 L463.0 698.2 L464.0 697.4 L465.0 696.5 L466.0 695.6 L467.0 694.7 L468.0 693.7 L469.0 692.8 L470.0 691.7 L471.0 690.7 L472.0 689.7 L473.0 688.6 L474.0 687.5 L475.0 686.4 L476.0 685.3 L477.0 684.2 L478.0 683.0 L479.0 681.9 L480.0 680.7 L481.0 679.5 L482.0 678.3 L483.0 677.1 L484.0 676.0 L485.0 674.8 L486.0 673.6 L487.0 672.4 L488.0 671.2 L489.0 670.0 L490.0 668.8 L491.0 667.7 L492.0 666.5 L493.0 665.4 L494.0 664.3 L495.0 663.1 L496.0 662.0 L497.0 660.9 L498.0 659.9 L499.0 658.8 L500.0 657.8 L501.0 656.8 L502.0 655.8 L503.0 654.9 L504.0 653.9 L505.0 652.9 L506.0 652.0 L507.0 651.0 L508.0 650.1 L509.0 649.1 L510.0 648.2 L511.0 647.2 L512.0 646.3 L513.0 645.4 L514.0 644.5 L515.0 643.5 L516.0 642.6 L517.0 641.7 L518.0 640.8 L519.0 639.9 L520.0 639.0 L521.0 638.1 L522.0 637.2 L523.0 636.3 L524.0 635.4 L525.0 634.5 L526.0 633.6 L527.0 632.7 L528.0 631.8 L529.0 630.9 L530.0 630.0 L531.0 629.1 L532.0 628.2 L533.0 627.3 L534.0 626.4 L535.0 625.5 L536.0 624.6 L537.0 623.7 L538.0 622.7 L539.0 621.8 L540.0 620.9 L541.0 620.0 L542.0 619.1 L543.0 618.2 L544.0 617.2 L545.0 616.3 L546.0 615.4 L547.0 614.5 L548.0 613.5 L549.0 612.6 L550.0 611.7 L551.0 610.7 L552.0 609.8 L553.0 608.9 L554.0 608.0 L555.0 607.0 L556.0 606.1 L557.0 605.2 L558.0 604.2 L559.0 603.3 L560.0 602.4 L561.0 601.5 L562.0 600.5 L563.0 599.6 L564.0 598.7 L565.0 597.8 L566.0 596.8 L567.0 595.9 L568.0 595.0 L569.0 594.1 L570.0 593.1 L571.0 592.2 L572.0 591.3 L573.0 590.4 L574.0 589.5 L575.0 588.6 L576.0 587.7 L577.0 586.8 L578.0 585.9 L579.0 585.0 L580.0 584.1 L581.0 583.2 L582.0 582.3 L583.0 581.4 L584.0 580.5 L585.0 579.6 L586.0 578.7 L587.0 577.8 L588.0 577.0 L589.0 576.1 L590.0 575.2 L591.0 574.3 L592.0 573.5 L593.0 572.6 L594.0 571.7 L595.0 570.9 L596.0 570.0 L597.0 569.1 L598.0 568.3 L599.0 567.4 L600.0 566.5 L601.0 565.7 L602.0 564.8 L603.0 564.0 L604.0 563.1 L605.0 562.2 L606.0 561.4 L607.0 560.5 L608.0 559.6 L609.0 558.8 L610.0 557.9 L611.0 557.0 L612.0 556.2 L613.0 555.3 L614.0 554.4 L615.0 553.6 L616.0 552.7 L617.0 551.8 L618.0 551.0 L619.0 550.1 L620.0 549.2 L621.0 548.3 L622.0 547.4 L623.0 546.6 L624.0 545.7 L625.0 544.8 L626.0 543.9 L627.0 543.0 L628.0 542.2 L629.0 541.3 L630.0 540.4 L631.0 539.5 L632.0 538.7 L633.0 537.8 L634.0 536.9 L635.0 536.0 L636.0 535.2 L637.0 534.3 L638.0 533.4 L639.0 532.5 L640.0 531.6 L641.0 530.8 L642.0 529.9 L643.0 529.0 L644.0 528.1 L645.0 527.2 L646.0 526.3 L647.0 525.4 L648.0 524.5 L649.0 523.6 L650.0 522.7 L651.0 521.8 L652.0 520.9 L653.0 520.0 L654.0 519.1 L655.0 518.1 L656.0 517.2 L657.0 516.3 L658.0 515.4 L659.0 514.4 L660.0 513.5 L661.0 512.5 L662.0 511.6 L663.0 510.6 L664.0 509.6 L665.0 508.7 L666.0 507.7 L667.0 506.7 L668.0 505.7 L669.0 504.7 L670.0 503.7 L671.0 502.7 L672.0 501.7 L673.0 500.7 L674.0 499.7 L675.0 498.7 L676.0 497.6 L677.0 496.6 L678.0 495.6 L679.0 494.6 L680.0 493.5 L681.0 492.5 L682.0 491.5 L683.0 490.4 L684.0 489.4 L685.0 488.3 L686.0 487.3 L687.0 486.3 L688.0 485.2 L689.0 484.2 L690.0 483.1 L691.0 482.1 L692.0 481.0 L693.0 480.0 L694.0 479.0 L695.0 477.9 L696.0 476.9 L697.0 475.9 L698.0 474.8 L699.0 473.8 L700.0 472.8 L701.0 471.7 L702.0 470.7 L703.0 469.7 L704.0 468.7 L705.0 467.7 L706.0 466.6 L707.0 465.6 L708.0 464.6 L709.0 463.6 L710.0 462.5 L711.0 461.5 L712.0 460.5 L713.0 459.5 L714.0 458.4 L715.0 457.4 L716.0 456.4 L717.0 455.4 L718.0 454.3 L719.0 453.3 L720.0 452.3 L721.0 451.3 L722.0 450.3 L723.0 449.2 L724.0 448.2 L725.0 447.2 L726.0 446.2 L727.0 445.1 L728.0 444.1 L729.0 443.1 L730.0 442.1 L731.0 441.1 L732.0 440.0 L733.0 439.0 L734.0 438.0 L735.0 437.0 L736.0 436.0 L737.0 435.0 L738.0 433.9 L739.0 432.9 L740.0 431.9 L741.0 430.9 L742.0 429.9 L743.0 428.9 L744.0 427.9 L745.0 426.9 L746.0 425.8 L747.0 424.8 L748.0 423.8 L749.0 422.7 L750.0 421.7 L751.0 420.7 L752.0 419.6 L753.0 418.6 L754.0 417.5 L755.0 416.5 L756.0 415.4 L757.0 414.4 L758.0 413.4 L759.0 412.3 L760.0 411.3 L761.0 410.3 L762.0 409.2 L763.0 408.2 L764.0 407.2 L765.0 406.2 L766.0 405.1 L767.0 404.1 L768.0 403.1 L769.0 402.2 L770.0 401.2 L771.0 400.2 L772.0 399.2 L773.0 398.3 L774.0 397.3 L775.0 396.4 L776.0 395.4 L777.0 394.5 L778.0 393.6 L779.0 392.7 L780.0 391.8 L781.0 390.9 L782.0 390.1 L783.0 389.2 L784.0 388.4 L785.0 387.6 L786.0 386.7 L787.0 385.9 L788.0 385.1 L789.0 384.3 L790.0 383.5 L791.0 382.8 L792.0 382.0 L793.0 381.2 L794.0 380.4 L795.0 379.7 L796.0 378.9 L797.0 378.2 L798.0 377.5 L799.0 376.7 L800.0 376.0 L801.0 375.3 L802.0 374.5 L803.0 373.8 L804.0 373.1 L805.0 372.4 L806.0 371.7 L807.0 370.9 L808.0 370.2 L809.0 369.5 L810.0 368.8 L811.0 368.1 L812.0 367.4 L813.0 366.7 L814.0 366.0 L815.0 365.3 L816.0 364.5 L817.0 363.8 L818.0 363.1 L819.0 362.4 L820.0 361.7 L821.0 360.9 L822.0 360.2 L823.0 359.5 L824.0 358.7 L825.0 358.0 L826.0 357.3 L827.0 356.5 L828.0 355.8 L829.0 355.1 L830.0 354.4 L831.0 353.6 L832.0 352.9 L833.0 352.2 L834.0 351.4 L835.0 350.7 L836.0 350.0 L837.0 349.3 L838.0 348.6 L839.0 347.8 L840.0 347.1 L841.0 346.4 L842.0 345.7 L843.0 344.9 L844.0 344.2 L845.0 343.5 L846.0 342.8 L847.0 342.1 L848.0 341.4 L849.0 340.6 L850.0 339.9 L851.0 339.2 L852.0 338.5 L853.0 337.8 L854.0 337.1 L855.0 336.3 L856.0 335.6 L857.0 334.9 L858.0 334.2 L859.0 333.5 L860.0 332.8 L861.0 332.0 L862.0 331.3 L863.0 330.6 L864.0 329.9 L865.0 329.2 L866.0 328.5 L867.0 327.7 L868.0 327.0 L869.0 326.3 L870.0 325.6 L871.0 324.8 L872.0 324.1 L873.0 323.4 L874.0 322.7 L875.0 321.9 L876.0 321.2 L877.0 320.5 L878.0 319.8 L879.0 319.0 L880.0 318.3 L881.0 317.6 L882.0 316.9 L883.0 316.2 L884.0 315.4 L885.0 314.7 L886.0 314.0 L887.0 313.3 L888.0 312.6 L889.0 311.9 L890.0 311.2 L891.0 310.5 L892.0 309.8 L893.0 309.1 L894.0 308.4 L895.0 307.7 L896.0 307.0 L897.0 306.3 L898.0 305.6 L899.0 304.9 L900.0 304.3 L901.0 303.6 L902.0 302.9 L903.0 302.3 L904.0 301.6 L905.0 300.9 L906.0 300.3 L907.0 299.6 L908.0 299.0 L909.0 298.3 L910.0 297.7 L911.0 297.1 L912.0 296.4 L913.0 295.8 L914.0 295.1 L915.0 294.5 L916.0 293.9 L917.0 293.3 L918.0 292.6 L919.0 292.0 L920.0 291.4 L921.0 290.8 L922.0 290.1 L923.0 289.5 L924.0 288.9 L925.0 288.3 L926.0 287.7 L927.0 287.1 L928.0 286.5 L929.0 285.9 L930.0 285.2 L931.0 284.6 L932.0 284.0 L933.0 283.4 L934.0 282.8 L935.0 282.2 L936.0 281.6 L937.0 281.0 L938.0 280.4 L939.0 279.8 L940.0 279.2 L941.0 278.6 L942.0 278.0 L943.0 277.4 L944.0 276.8 L945.0 276.2 L946.0 275.6 L947.0 275.0 L948.0 274.4 L949.0 273.8 L950.0 273.2 L951.0 272.6 L952.0 272.0 L953.0 271.4 L954.0 270.8 L955.0 270.2 L956.0 269.6 L957.0 269.0 L958.0 268.4 L959.0 267.9 L960.0 267.3 L961.0 266.7 L962.0 266.1 L963.0 265.5 L964.0 264.9 L965.0 264.3 L966.0 263.8 L967.0 263.2 L968.0 262.6 L969.0 262.0 L970.0 261.4 L971.0 260.9 L972.0 260.3 L973.0 259.7 L974.0 259.1 L975.0 258.6 L976.0 258.0 L977.0 257.4 L978.0 256.8 L979.0 256.3 L980.0 255.7 L981.0 255.1 L982.0 254.6 L983.0 254.0 L983.0 607.5 L982.0 607.6 L981.0 607.7 L980.0 607.7 L979.0 607.8 L978.0 607.9 L977.0 608.0 L976.0 608.1 L975.0 608.2 L974.0 608.3 L973.0 608.4 L972.0 608.5 L971.0 608.5 L970.0 608.6 L969.0 608.7 L968.0 608.8 L967.0 608.9 L966.0 609.0 L965.0 609.1 L964.0 609.2 L963.0 609.3 L962.0 609.4 L961.0 609.5 L960.0 609.6 L959.0 609.7 L958.0 609.8 L957.0 609.9 L956.0 610.0 L955.0 610.1 L954.0 610.3 L953.0 610.4 L952.0 610.5 L951.0 610.6 L950.0 610.7 L949.0 610.8 L948.0 610.9 L947.0 611.0 L946.0 611.1 L945.0 611.3 L944.0 611.4 L943.0 611.5 L942.0 611.6 L941.0 611.7 L940.0 611.8 L939.0 611.9 L938.0 612.1 L937.0 612.2 L936.0 612.3 L935.0 612.4 L934.0 612.6 L933.0 612.7 L932.0 612.8 L931.0 613.0 L930.0 613.1 L929.0 613.2 L928.0 613.3 L927.0 613.5 L926.0 613.6 L925.0 613.7 L924.0 613.9 L923.0 614.0 L922.0 614.2 L921.0 614.3 L920.0 614.4 L919.0 614.6 L918.0 614.7 L917.0 614.9 L916.0 615.0 L915.0 615.2 L914.0 615.3 L913.0 615.4 L912.0 615.6 L911.0 615.7 L910.0 615.9 L909.0 616.0 L908.0 616.2 L907.0 616.3 L906.0 616.5 L905.0 616.6 L904.0 616.8 L903.0 616.9 L902.0 617.1 L901.0 617.3 L900.0 617.4 L899.0 617.6 L898.0 617.7 L897.0 617.9 L896.0 618.0 L895.0 618.2 L894.0 618.4 L893.0 618.5 L892.0 618.7 L891.0 618.9 L890.0 619.0 L889.0 619.2 L888.0 619.4 L887.0 619.6 L886.0 619.7 L885.0 619.9 L884.0 620.1 L883.0 620.3 L882.0 620.4 L881.0 620.6 L880.0 620.8 L879.0 621.0 L878.0 621.1 L877.0 621.3 L876.0 621.5 L875.0 621.7 L874.0 621.9 L873.0 622.1 L872.0 622.2 L871.0 622.4 L870.0 622.6 L869.0 622.8 L868.0 623.0 L867.0 623.2 L866.0 623.3 L865.0 623.5 L864.0 623.7 L863.0 623.9 L862.0 624.1 L861.0 624.3 L860.0 624.5 L859.0 624.7 L858.0 624.8 L857.0 625.0 L856.0 625.2 L855.0 625.4 L854.0 625.6 L853.0 625.8 L852.0 626.0 L851.0 626.2 L850.0 626.4 L849.0 626.6 L848.0 626.8 L847.0 627.0 L846.0 627.2 L845.0 627.4 L844.0 627.6 L843.0 627.8 L842.0 628.0 L841.0 628.2 L840.0 628.4 L839.0 628.6 L838.0 628.8 L837.0 629.0 L836.0 629.2 L835.0 629.5 L834.0 629.7 L833.0 629.9 L832.0 630.1 L831.0 630.3 L830.0 630.5 L829.0 630.7 L828.0 630.9 L827.0 631.1 L826.0 631.3 L825.0 631.5 L824.0 631.7 L823.0 631.9 L822.0 632.1 L821.0 632.2 L820.0 632.4 L819.0 632.6 L818.0 632.8 L817.0 633.0 L816.0 633.1 L815.0 633.3 L814.0 633.5 L813.0 633.6 L812.0 633.8 L811.0 633.9 L810.0 634.1 L809.0 634.2 L808.0 634.4 L807.0 634.5 L806.0 634.7 L805.0 634.8 L804.0 635.0 L803.0 635.2 L802.0 635.3 L801.0 635.5 L800.0 635.6 L799.0 635.8 L798.0 636.0 L797.0 636.1 L796.0 636.3 L795.0 636.5 L794.0 636.7 L793.0 636.9 L792.0 637.1 L791.0 637.3 L790.0 637.5 L789.0 637.7 L788.0 638.0 L787.0 638.2 L786.0 638.5 L785.0 638.7 L784.0 639.0 L783.0 639.3 L782.0 639.5 L781.0 639.8 L780.0 640.2 L779.0 640.5 L778.0 640.9 L777.0 641.4 L776.0 641.9 L775.0 642.4 L774.0 643.0 L773.0 643.6 L772.0 644.2 L771.0 644.9 L770.0 645.6 L769.0 646.3 L768.0 646.9 L767.0 647.6 L766.0 648.3 L765.0 649.0 L764.0 649.7 L763.0 650.4 L762.0 651.0 L761.0 651.6 L760.0 652.2 L759.0 652.8 L758.0 653.4 L757.0 654.0 L756.0 654.6 L755.0 655.2 L754.0 655.8 L753.0 656.3 L752.0 656.9 L751.0 657.5 L750.0 658.1 L749.0 658.7 L748.0 659.3 L747.0 659.9 L746.0 660.5 L745.0 661.1 L744.0 661.7 L743.0 662.3 L742.0 662.9 L741.0 663.6 L740.0 664.2 L739.0 664.9 L738.0 665.6 L737.0 666.3 L736.0 667.0 L735.0 667.8 L734.0 668.6 L733.0 669.4 L732.0 670.2 L731.0 670.9 L730.0 671.7 L729.0 672.5 L728.0 673.2 L727.0 674.0 L726.0 674.7 L725.0 675.3 L724.0 676.0 L723.0 676.6 L722.0 677.1 L721.0 677.6 L720.0 678.1 L719.0 678.5 L718.0 678.9 L717.0 679.3 L716.0 679.7 L715.0 680.1 L714.0 680.5 L713.0 680.8 L712.0 681.1 L711.0 681.5 L710.0 681.8 L709.0 682.1 L708.0 682.4 L707.0 682.7 L706.0 683.0 L705.0 683.3 L704.0 683.6 L703.0 683.8 L702.0 684.1 L701.0 684.4 L700.0 684.6 L699.0 684.9 L698.0 685.1 L697.0 685.4 L696.0 685.6 L695.0 685.9 L694.0 686.1 L693.0 686.4 L692.0 686.6 L691.0 686.9 L690.0 687.2 L689.0 687.4 L688.0 687.7 L687.0 687.9 L686.0 688.2 L685.0 688.5 L684.0 688.8 L683.0 689.1 L682.0 689.4 L681.0 689.7 L680.0 690.0 L679.0 690.3 L678.0 690.7 L677.0 691.0 L676.0 691.3 L675.0 691.6 L674.0 692.0 L673.0 692.3 L672.0 692.7 L671.0 693.0 L670.0 693.3 L669.0 693.7 L668.0 694.0 L667.0 694.4 L666.0 694.7 L665.0 695.1 L664.0 695.4 L663.0 695.8 L662.0 696.1 L661.0 696.5 L660.0 696.8 L659.0 697.2 L658.0 697.6 L657.0 697.9 L656.0 698.3 L655.0 698.6 L654.0 699.0 L653.0 699.3 L652.0 699.7 L651.0 700.1 L650.0 700.4 L649.0 700.8 L648.0 701.1 L647.0 701.5 L646.0 701.8 L645.0 702.2 L644.0 702.5 L643.0 702.9 L642.0 703.2 L641.0 703.6 L640.0 703.9 L639.0 704.3 L638.0 704.6 L637.0 705.0 L636.0 705.3 L635.0 705.7 L634.0 706.0 L633.0 706.3 L632.0 706.7 L631.0 707.0 L630.0 707.4 L629.0 707.7 L628.0 708.0 L627.0 708.4 L626.0 708.7 L625.0 709.0 L624.0 709.4 L623.0 709.7 L622.0 710.0 L621.0 710.4 L620.0 710.7 L619.0 711.0 L618.0 711.4 L617.0 711.7 L616.0 712.1 L615.0 712.4 L614.0 712.8 L613.0 713.1 L612.0 713.4 L611.0 713.8 L610.0 714.2 L609.0 714.5 L608.0 714.9 L607.0 715.2 L606.0 715.6 L605.0 716.0 L604.0 716.3 L603.0 716.7 L602.0 717.1 L601.0 717.5 L600.0 717.9 L599.0 718.3 L598.0 718.7 L597.0 719.1 L596.0 719.5 L595.0 719.9 L594.0 720.4 L593.0 720.8 L592.0 721.3 L591.0 721.7 L590.0 722.2 L589.0 722.6 L588.0 723.1 L587.0 723.5 L586.0 723.9 L585.0 724.4 L584.0 724.8 L583.0 725.2 L582.0 725.7 L581.0 726.1 L580.0 726.5 L579.0 726.9 L578.0 727.3 L577.0 727.7 L576.0 728.0 L575.0 728.4 L574.0 728.8 L573.0 729.2 L572.0 729.5 L571.0 729.9 L570.0 730.3 L569.0 730.7 L568.0 731.0 L567.0 731.4 L566.0 731.8 L565.0 732.2 L564.0 732.5 L563.0 732.9 L562.0 733.3 L561.0 733.7 L560.0 734.1 L559.0 734.5 L558.0 734.9 L557.0 735.3 L556.0 735.7 L555.0 736.2 L554.0 736.6 L553.0 737.0 L552.0 737.4 L551.0 737.8 L550.0 738.3 L549.0 738.7 L548.0 739.1 L547.0 739.6 L546.0 740.0 L545.0 740.4 L544.0 740.9 L543.0 741.3 L542.0 741.8 L541.0 742.2 L540.0 742.6 L539.0 743.1 L538.0 743.5 L537.0 744.0 L536.0 744.4 L535.0 744.9 L534.0 745.3 L533.0 745.8 L532.0 746.2 L531.0 746.6 L530.0 747.1 L529.0 747.5 L528.0 748.0 L527.0 748.4 L526.0 748.9 L525.0 749.3 L524.0 749.8 L523.0 750.2 L522.0 750.6 L521.0 751.1 L520.0 751.5 L519.0 752.0 L518.0 752.4 L517.0 752.8 L516.0 753.3 L515.0 753.7 L514.0 754.1 L513.0 754.6 L512.0 755.0 L511.0 755.4 L510.0 755.8 L509.0 756.3 L508.0 756.7 L507.0 757.1 L506.0 757.5 L505.0 757.9 L504.0 758.3 L503.0 758.7 L502.0 759.1 L501.0 759.5 L500.0 759.9 L499.0 760.3 L498.0 760.7 L497.0 761.1 L496.0 761.5 L495.0 761.9 L494.0 762.3 L493.0 762.7 L492.0 763.1 L491.0 763.5 L490.0 763.8 L489.0 764.2 L488.0 764.6 L487.0 765.0 L486.0 765.4 L485.0 765.8 L484.0 766.2 L483.0 766.5 L482.0 766.9 L481.0 767.3 L480.0 767.7 L479.0 768.1 L478.0 768.4 L477.0 768.8 L476.0 769.2 L475.0 769.6 L474.0 770.0 L473.0 770.3 L472.0 770.7 L471.0 771.1 L470.0 771.5 L469.0 771.8 L468.0 772.2 L467.0 772.6 L466.0 772.9 L465.0 773.3 L464.0 773.7 L463.0 774.0 L462.0 774.4 L461.0 774.8 L460.0 775.1 L459.0 775.5 L458.0 775.9 L457.0 776.2 L456.0 776.6 L455.0 776.9 L454.0 777.3 L453.0 777.7 L452.0 778.0 L451.0 778.4 L450.0 778.7 L449.0 779.1 L448.0 779.4 L447.0 779.8 L446.0 780.1 L445.0 780.5 L444.0 780.8 L443.0 781.2 L442.0 781.5 L441.0 781.9 L440.0 782.2 L439.0 782.6 L438.0 782.9 L437.0 783.3 L436.0 783.6 L435.0 784.0 L434.0 784.3 L433.0 784.6 L432.0 785.0 L431.0 785.3 L430.0 785.6 L429.0 786.0 L428.0 786.3 L427.0 786.6 L426.0 787.0 L425.0 787.3 L424.0 787.6 L423.0 788.0 L422.0 788.3 L421.0 788.6 L420.0 788.9 L419.0 789.3 L418.0 789.6 L417.0 789.9 L416.0 790.2 L415.0 790.6 L414.0 790.9 L413.0 791.2 L412.0 791.5 L411.0 791.8 L410.0 792.2 L409.0 792.5 L408.0 792.8 L407.0 793.1 L406.0 793.4 L405.0 793.7 L404.0 794.0 L403.0 794.3 L402.0 794.6 L401.0 795.0 L400.0 795.3 L399.0 795.6 L398.0 795.9 L397.0 796.2 L396.0 796.5 L395.0 796.8 L394.0 797.1 L393.0 797.4 L392.0 797.7 L391.0 798.0 L390.0 798.3 L389.0 798.6 L388.0 798.9 L387.0 799.2 L386.0 799.5 L385.0 799.8 L384.0 800.1 L383.0 800.4 L382.0 800.7 L381.0 801.0 L380.0 801.3 L379.0 801.5 L378.0 801.8 L377.0 802.1 L376.0 802.4 L375.0 802.7 L374.0 803.0 L373.0 803.3 L372.0 803.6 L371.0 803.9 L370.0 804.1 L369.0 804.4 L368.0 804.7 L367.0 805.0 L366.0 805.3 L365.0 805.6 L364.0 805.9 L363.0 806.1 L362.0 806.4 L361.0 806.7 L360.0 807.0 L359.0 807.3 L358.0 807.5 L357.0 807.8 L356.0 808.1 L355.0 808.4 L354.0 808.7 L353.0 808.9 L352.0 809.2 L351.0 809.5 L350.0 809.8 L349.0 810.0 L348.0 810.3 L347.0 810.6 L346.0 810.9 L345.0 811.2 L344.0 811.4 L343.0 811.7 L342.0 812.0 L341.0 812.3 L340.0 812.5 L339.0 812.8 L338.0 813.1 L337.0 813.3 L336.0 813.6 L335.0 813.9 L334.0 814.2 L333.0 814.5 L332.0 814.7 L331.0 815.0 L330.0 815.3 L329.0 815.6 L328.0 815.8 L327.0 816.1 L326.0 816.4 L325.0 816.7 L324.0 816.9 L323.0 817.2 L322.0 817.5 L321.0 817.8 L320.0 818.0 L319.0 818.3 L318.0 818.6 L317.0 818.9 L316.0 819.2 L315.0 819.4 L314.0 819.7 L313.0 820.0 L312.0 820.2 L311.0 820.5 L310.0 820.8 L309.0 821.1 L308.0 821.3 L307.0 821.6 L306.0 821.9 L305.0 822.1 L304.0 822.4 L303.0 822.7 L302.0 823.0 L301.0 823.2 L300.0 823.5 L299.0 823.7 L298.0 824.0 L297.0 824.3 L296.0 824.5 L295.0 824.8 L294.0 825.1 L293.0 825.3 L292.0 825.6 L291.0 825.8 L290.0 826.1 L289.0 826.3 L288.0 826.6 L287.0 826.8 L286.0 827.1 L285.0 827.3 L284.0 827.6 L283.0 827.8 L282.0 828.1 L281.0 828.3 L280.0 828.5 L279.0 828.8 L278.0 829.0 L277.0 829.3 L276.0 829.5 L275.0 829.7 L274.0 829.9 L273.0 830.2 L272.0 830.4 L271.0 830.6 L270.0 830.8 L269.0 831.1 L268.0 831.3 L267.0 831.5 L266.0 831.7 L265.0 831.9 L264.0 832.1 L263.0 832.3 L262.0 832.5 L261.0 832.7 L260.0 832.9 L259.0 833.1 L258.0 833.3 L257.0 833.5 L256.0 833.7 L255.0 833.9 L254.0 834.1 L253.0 834.3 L252.0 834.5 L251.0 834.6 L250.0 834.8 L249.0 835.0 L248.0 835.2 L247.0 835.3 L246.0 835.5 L245.0 835.7 L244.0 835.8 L243.0 836.0 L242.0 836.2 L241.0 836.3 L240.0 836.5 L239.0 836.6 L238.0 836.8 L237.0 836.9 L236.0 837.1 L235.0 837.2 L234.0 837.4 L233.0 837.6 L232.0 837.7 L231.0 837.9 L230.0 838.0 L229.0 838.1 L228.0 838.3 L227.0 838.4 L226.0 838.6 L225.0 838.7 L224.0 838.9 L223.0 839.0 L222.0 839.2 L221.0 839.3 L220.0 839.5 L219.0 839.6 L218.0 839.7 L217.0 839.9 L216.0 840.0 L215.0 840.2 L214.0 840.3 L213.0 840.5 L212.0 840.6 L211.0 840.8 L210.0 840.9 L209.0 841.1 L208.0 841.2 L207.0 841.3 L206.0 841.5 L205.0 841.6 L204.0 841.8 L203.0 842.0 L202.0 842.1 L201.0 842.3 L200.0 842.4 L199.0 842.6 L198.0 842.7 L197.0 842.9 L196.0 843.0 L195.0 843.2 L194.0 843.4 L193.0 843.5 L192.0 843.7 L191.0 843.9 L190.0 844.0 L189.0 844.2 L188.0 844.4 L187.0 844.6 L186.0 844.8 L185.0 844.9 L184.0 845.1 L183.0 845.3 L182.0 845.5 L181.0 845.7 L180.0 845.9 L179.0 846.1 L178.0 846.3 L177.0 846.5 L176.0 846.7 L175.0 846.9 L174.0 847.1 L173.0 847.3 L172.0 847.5 L171.0 847.7 L170.0 847.9 L169.0 848.1 L168.0 848.3 L167.0 848.5 L166.0 848.8 L165.0 849.0 L164.0 849.2 L163.0 849.4 L162.0 849.6 L161.0 849.9 L160.0 850.1 L159.0 850.3 L158.0 850.5 L157.0 850.8 L156.0 851.0 L155.0 851.2 L154.0 851.4 L153.0 851.7 L152.0 851.9 L151.0 852.1 L150.0 852.4 L149.0 852.6 L148.0 852.9 L147.0 853.1 L146.0 853.3 L145.0 853.6 L144.0 853.8 L143.0 854.1 L142.0 854.3 L141.0 854.6 L140.0 854.8 L139.0 855.1 L138.0 855.3 L137.0 855.6 L136.0 855.8 L135.0 856.1 L134.0 856.3 L133.0 856.6 L132.0 856.9 L131.0 857.1 L130.0 857.4 L129.0 857.7 L128.0 857.9 L127.0 858.2 L126.0 858.4 L125.0 858.7 L124.0 859.0 L123.0 859.2 L122.0 859.5 L121.0 859.8 L120.0 860.1 L119.0 860.3 L118.0 860.6 L117.0 860.9 L116.0 861.2 L115.0 861.4 L114.0 861.7 L113.0 862.0 L112.0 862.3 L111.0 862.6 L110.0 862.8 L109.0 863.1 L108.0 863.4 L107.0 863.7 L106.0 864.0 L105.0 864.3 L104.0 864.5 L103.0 864.8 L102.0 865.1 L101.0 865.4 L100.0 865.7 L99.0 866.0 Z" fill="#aaaaaa"/>
<g transform="scale(0.900 1)"><path d="M110.00 866.0 L111.11 865.7 L112.22 865.5 L113.33 865.2 L114.44 864.9 L115.56 864.6 L116.67 864.4 L117.78 864.1 L118.89 863.8 L120.00 863.6 L121.11 863.3 L122.22 863.0 L123.33 862.7 L124.44 862.5 L125.56 862.2 L126.67 861.9 L127.78 861.7 L128.89 861.4 L130.00 861.1 L131.11 860.8 L132.22 860.6 L133.33 860.3 L134.44 860.0 L135.56 859.7 L136.67 859.5 L137.78 859.2 L138.89 858.9 L140.00 858.6 L141.11 858.4 L142.22 858.1 L143.33 857.8 L144.44 857.5 L145.56 857.3 L146.67 857.0 L147.78 856.7 L148.89 856.4 L150.00 856.2 L151.11 855.9 L152.22 855.6 L153.33 855.3 L154.44 855.1 L155.56 854.8 L156.67 854.5 L157.78 854.2 L158.89 854.0 L160.00 853.7 L161.11 853.4 L162.22 853.1 L163.33 852.9 L164.44 852.6 L165.56 852.3 L166.67 852.0 L167.78 851.7 L168.89 851.5 L170.00 851.2 L171.11 850.9 L172.22 850.6 L173.33 850.3 L174.44 850.0 L175.56 849.8 L176.67 849.5 L177.78 849.2 L178.89 848.9 L180.00 848.6 L181.11 848.3 L182.22 848.0 L183.33 847.7 L184.44 847.4 L185.56 847.1 L186.67 846.8 L187.78 846.5 L188.89 846.2 L190.00 845.9 L191.11 845.6 L192.22 845.2 L193.33 844.9 L194.44 844.6 L195.56 844.3 L196.67 843.9 L197.78 843.6 L198.89 843.3 L200.00 842.9 L201.11 842.6 L202.22 842.2 L203.33 841.9 L204.44 841.5 L205.56 841.2 L206.67 840.8 L207.78 840.5 L208.89 840.1 L210.00 839.7 L211.11 839.4 L212.22 839.0 L213.33 838.6 L214.44 838.3 L215.56 837.9 L216.67 837.5 L217.78 837.1 L218.89 836.7 L220.00 836.3 L221.11 835.9 L222.22 835.5 L223.33 835.1 L224.44 834.7 L225.56 834.3 L226.67 833.9 L227.78 833.5 L228.89 833.1 L230.00 832.7 L231.11 832.3 L232.22 831.9 L233.33 831.4 L234.44 831.0 L235.56 830.6 L236.67 830.2 L237.78 829.8 L238.89 829.3 L240.00 828.9 L241.11 828.5 L242.22 828.0 L243.33 827.6 L244.44 827.2 L245.56 826.7 L246.67 826.3 L247.78 825.9 L248.89 825.4 L250.00 825.0 L251.11 824.5 L252.22 824.1 L253.33 823.7 L254.44 823.2 L255.56 822.8 L256.67 822.3 L257.78 821.9 L258.89 821.4 L260.00 821.0 L261.11 820.5 L262.22 820.1 L263.33 819.6 L264.44 819.1 L265.56 818.7 L266.67 818.2 L267.78 817.8 L268.89 817.3 L270.00 816.8 L271.11 816.4 L272.22 815.9 L273.33 815.4 L274.44 815.0 L275.56 814.5 L276.67 814.0 L277.78 813.6 L278.89 813.1 L280.00 812.6 L281.11 812.1 L282.22 811.7 L283.33 811.2 L284.44 810.7 L285.56 810.2 L286.67 809.7 L287.78 809.3 L288.89 808.8 L290.00 808.3 L291.11 807.8 L292.22 807.3 L293.33 806.8 L294.44 806.4 L295.56 805.9 L296.67 805.4 L297.78 804.9 L298.89 804.4 L300.00 803.9 L301.11 803.4 L302.22 802.9 L303.33 802.4 L304.44 802.0 L305.56 801.5 L306.67 801.0 L307.78 800.5 L308.89 800.0 L310.00 799.5 L311.11 799.0 L312.22 798.5 L313.33 798.0 L314.44 797.5 L315.56 797.0 L316.67 796.5 L317.78 796.0 L318.89 795.5 L320.00 795.0 L321.11 794.5 L322.22 794.0 L323.33 793.5 L324.44 793.0 L325.56 792.5 L326.67 792.0 L327.78 791.5 L328.89 791.0 L330.00 790.4 L331.11 789.9 L332.22 789.4 L333.33 788.9 L334.44 788.4 L335.56 787.9 L336.67 787.4 L337.78 786.9 L338.89 786.4 L340.00 785.9 L341.11 785.4 L342.22 784.9 L343.33 784.4 L344.44 783.9 L345.56 783.4 L346.67 782.8 L347.78 782.3 L348.89 781.8 L350.00 781.3 L351.11 780.8 L352.22 780.3 L353.33 779.8 L354.44 779.3 L355.56 778.8 L356.67 778.3 L357.78 777.8 L358.89 777.2 L360.00 776.7 L361.11 776.2 L362.22 775.7 L363.33 775.2 L364.44 774.7 L365.56 774.2 L366.67 773.7 L367.78 773.2 L368.89 772.7 L370.00 772.1 L371.11 771.6 L372.22 771.1 L373.33 770.6 L374.44 770.1 L375.56 769.6 L376.67 769.1 L377.78 768.6 L378.89 768.1 L380.00 767.6 L381.11 767.1 L382.22 766.6 L383.33 766.1 L384.44 765.5 L385.56 765.0 L386.67 764.5 L387.78 764.0 L388.89 763.5 L390.00 763.0 L391.11 762.5 L392.22 762.0 L393.33 761.5 L394.44 761.0 L395.56 760.5 L396.67 760.0 L397.78 759.5 L398.89 759.0 L400.00 758.5 L401.11 758.0 L402.22 757.5 L403.33 757.0 L404.44 756.5 L405.56 756.0 L406.67 755.5 L407.78 755.0 L408.89 754.5 L410.00 754.0 L411.11 753.5 L412.22 753.0 L413.33 752.5 L414.44 752.0 L415.56 751.5 L416.67 751.0 L417.78 750.5 L418.89 750.0 L420.00 749.5 L421.11 749.0 L422.22 748.5 L423.33 748.0 L424.44 747.5 L425.56 747.0 L426.67 746.4 L427.78 745.9 L428.89 745.4 L430.00 744.9 L431.11 744.4 L432.22 743.9 L433.33 743.4 L434.44 742.9 L435.56 742.4 L436.67 741.8 L437.78 741.3 L438.89 740.8 L440.00 740.3 L441.11 739.8 L442.22 739.2 L443.33 738.7 L444.44 738.2 L445.56 737.7 L446.67 737.1 L447.78 736.6 L448.89 736.1 L450.00 735.5 L451.11 735.0 L452.22 734.5 L453.33 733.9 L454.44 733.4 L455.56 732.8 L456.67 732.3 L457.78 731.8 L458.89 731.2 L460.00 730.7 L461.11 730.1 L462.22 729.5 L463.33 729.0 L464.44 728.4 L465.56 727.9 L466.67 727.3 L467.78 726.7 L468.89 726.2 L470.00 725.6 L471.11 725.0 L472.22 724.5 L473.33 723.9 L474.44 723.3 L475.56 722.7 L476.67 722.1 L477.78 721.5 L478.89 721.0 L480.00 720.4 L481.11 719.8 L482.22 719.2 L483.33 718.6 L484.44 718.0 L485.56 717.4 L486.67 716.8 L487.78 716.2 L488.89 715.6 L490.00 715.0 L491.11 714.4 L492.22 713.8 L493.33 713.2 L494.44 712.6 L495.56 712.0 L496.67 711.4 L497.78 710.7 L498.89 710.1 L500.00 709.5 L501.11 708.9 L502.22 708.3 L503.33 707.7 L504.44 707.1 L505.56 706.5 L506.67 705.9 L507.78 705.3 L508.89 704.6 L510.00 704.0 L511.11 703.4 L512.22 702.8 L513.33 702.2 L514.44 701.6 L515.56 701.0 L516.67 700.4 L517.78 699.8 L518.89 699.2 L520.00 698.6 L521.11 697.9 L522.22 697.3 L523.33 696.7 L524.44 696.1 L525.56 695.5 L526.67 694.9 L527.78 694.3 L528.89 693.7 L530.00 693.1 L531.11 692.5 L532.22 691.9 L533.33 691.3 L534.44 690.7 L535.56 690.1 L536.67 689.5 L537.78 688.9 L538.89 688.3 L540.00 687.7 L541.11 687.1 L542.22 686.5 L543.33 685.9 L544.44 685.3 L545.56 684.7 L546.67 684.1 L547.78 683.5 L548.89 682.9 L550.00 682.3 L551.11 681.7 L552.22 681.1 L553.33 680.6 L554.44 680.0 L555.56 679.4 L556.67 678.8 L557.78 678.2 L558.89 677.6 L560.00 677.0 L561.11 676.5 L562.22 675.9 L563.33 675.3 L564.44 674.7 L565.56 674.1 L566.67 673.6 L567.78 673.0 L568.89 672.4 L570.00 671.8 L571.11 671.2 L572.22 670.7 L573.33 670.1 L574.44 669.5 L575.56 669.0 L576.67 668.4 L577.78 667.8 L578.89 667.3 L580.00 666.7 L581.11 666.1 L582.22 665.6 L583.33 665.0 L584.44 664.4 L585.56 663.9 L586.67 663.3 L587.78 662.7 L588.89 662.2 L590.00 661.6 L591.11 661.1 L592.22 660.5 L593.33 660.0 L594.44 659.4 L595.56 658.9 L596.67 658.3 L597.78 657.8 L598.89 657.2 L600.00 656.7 L601.11 656.1 L602.22 655.6 L603.33 655.0 L604.44 654.5 L605.56 653.9 L606.67 653.4 L607.78 652.9 L608.89 652.3 L610.00 651.8 L611.11 651.2 L612.22 650.7 L613.33 650.2 L614.44 649.6 L615.56 649.1 L616.67 648.6 L617.78 648.0 L618.89 647.5 L620.00 647.0 L621.11 646.4 L622.22 645.9 L623.33 645.4 L624.44 644.9 L625.56 644.3 L626.67 643.8 L627.78 643.3 L628.89 642.7 L630.00 642.2 L631.11 641.7 L632.22 641.2 L633.33 640.6 L634.44 640.1 L635.56 639.6 L636.67 639.0 L637.78 638.5 L638.89 638.0 L640.00 637.5 L641.11 636.9 L642.22 636.4 L643.33 635.9 L644.44 635.4 L645.56 634.8 L646.67 634.3 L647.78 633.8 L648.89 633.2 L650.00 632.7 L651.11 632.2 L652.22 631.7 L653.33 631.1 L654.44 630.6 L655.56 630.1 L656.67 629.5 L657.78 629.0 L658.89 628.5 L660.00 628.0 L661.11 627.4 L662.22 626.9 L663.33 626.4 L664.44 625.9 L665.56 625.4 L666.67 624.8 L667.78 624.3 L668.89 623.8 L670.00 623.3 L671.11 622.8 L672.22 622.3 L673.33 621.8 L674.44 621.3 L675.56 620.8 L676.67 620.3 L677.78 619.8 L678.89 619.3 L680.00 618.8 L681.11 618.4 L682.22 617.9 L683.33 617.4 L684.44 616.9 L685.56 616.5 L686.67 616.0 L687.78 615.5 L688.89 615.1 L690.00 614.6 L691.11 614.2 L692.22 613.8 L693.33 613.3 L694.44 612.9 L695.56 612.5 L696.67 612.0 L697.78 611.6 L698.89 611.2 L700.00 610.8 L701.11 610.3 L702.22 609.9 L703.33 609.5 L704.44 609.1 L705.56 608.7 L706.67 608.3 L707.78 607.9 L708.89 607.5 L710.00 607.1 L711.11 606.7 L712.22 606.3 L713.33 606.0 L714.44 605.6 L715.56 605.2 L716.67 604.8 L717.78 604.4 L718.89 604.0 L720.00 603.6 L721.11 603.2 L722.22 602.8 L723.33 602.4 L724.44 602.0 L725.56 601.6 L726.67 601.3 L727.78 600.9 L728.89 600.5 L730.00 600.1 L731.11 599.7 L732.22 599.2 L733.33 598.8 L734.44 598.4 L735.56 598.0 L736.67 597.6 L737.78 597.2 L738.89 596.8 L740.00 596.4 L741.11 596.0 L742.22 595.5 L743.33 595.1 L744.44 594.7 L745.56 594.3 L746.67 593.8 L747.78 593.4 L748.89 593.0 L750.00 592.5 L751.11 592.1 L752.22 591.7 L753.33 591.3 L754.44 590.8 L755.56 590.4 L756.67 590.0 L757.78 589.5 L758.89 589.1 L760.00 588.7 L761.11 588.2 L762.22 587.8 L763.33 587.4 L764.44 587.0 L765.56 586.5 L766.67 586.1 L767.78 585.7 L768.89 585.3 L770.00 584.8 L771.11 584.4 L772.22 584.0 L773.33 583.6 L774.44 583.2 L775.56 582.8 L776.67 582.4 L777.78 582.0 L778.89 581.6 L780.00 581.2 L781.11 580.8 L782.22 580.4 L783.33 580.0 L784.44 579.6 L785.56 579.2 L786.67 578.8 L787.78 578.5 L788.89 578.1 L790.00 577.7 L791.11 577.3 L792.22 577.0 L793.33 576.6 L794.44 576.2 L795.56 575.9 L796.67 575.5 L797.78 575.1 L798.89 574.8 L800.00 574.4 L801.11 574.1 L802.22 573.7 L803.33 573.4 L804.44 573.0 L805.56 572.7 L806.67 572.3 L807.78 572.0 L808.89 571.7 L810.00 571.3 L811.11 571.0 L812.22 570.7 L813.33 570.3 L814.44 570.0 L815.56 569.7 L816.67 569.4 L817.78 569.0 L818.89 568.7 L820.00 568.4 L821.11 568.1 L822.22 567.8 L823.33 567.5 L824.44 567.2 L825.56 566.8 L826.67 566.5 L827.78 566.2 L828.89 565.9 L830.00 565.6 L831.11 565.3 L832.22 565.0 L833.33 564.7 L834.44 564.4 L835.56 564.1 L836.67 563.9 L837.78 563.6 L838.89 563.3 L840.00 563.0 L841.11 562.7 L842.22 562.4 L843.33 562.2 L844.44 561.9 L845.56 561.6 L846.67 561.3 L847.78 561.0 L848.89 560.8 L850.00 560.5 L851.11 560.2 L852.22 560.0 L853.33 559.7 L854.44 559.4 L855.56 559.2 L856.67 558.9 L857.78 558.7 L858.89 558.4 L860.00 558.2 L861.11 557.9 L862.22 557.7 L863.33 557.4 L864.44 557.2 L865.56 556.9 L866.67 556.7 L867.78 556.4 L868.89 556.2 L870.00 555.9 L871.11 555.7 L872.22 555.5 L873.33 555.2 L874.44 555.0 L875.56 554.8 L876.67 554.5 L877.78 554.3 L878.89 554.1 L880.00 553.9 L881.11 553.6 L882.22 553.4 L883.33 553.2 L884.44 553.0 L885.56 552.7 L886.67 552.5 L887.78 552.3 L888.89 552.1 L890.00 551.9 L891.11 551.7 L892.22 551.4 L893.33 551.2 L894.44 551.0 L895.56 550.8 L896.67 550.6 L897.78 550.4 L898.89 550.2 L900.00 550.0 L901.11 549.8 L902.22 549.6 L903.33 549.4 L904.44 549.2 L905.56 549.0 L906.67 548.8 L907.78 548.6 L908.89 548.4 L910.00 548.2 L911.11 548.0 L912.22 547.8 L913.33 547.6 L914.44 547.4 L915.56 547.2 L916.67 547.0 L917.78 546.8 L918.89 546.6 L920.00 546.5 L921.11 546.3 L922.22 546.1 L923.33 545.9 L924.44 545.7 L925.56 545.5 L926.67 545.3 L927.78 545.2 L928.89 545.0 L930.00 544.8 L931.11 544.6 L932.22 544.4 L933.33 544.3 L934.44 544.1 L935.56 543.9 L936.67 543.7 L937.78 543.6 L938.89 543.4 L940.00 543.2 L941.11 543.1 L942.22 542.9 L943.33 542.7 L944.44 542.6 L945.56 542.4 L946.67 542.2 L947.78 542.1 L948.89 541.9 L950.00 541.8 L951.11 541.6 L952.22 541.5 L953.33 541.3 L954.44 541.2 L955.56 541.0 L956.67 540.9 L957.78 540.8 L958.89 540.6 L960.00 540.5 L961.11 540.4 L962.22 540.2 L963.33 540.1 L964.44 540.0 L965.56 539.8 L966.67 539.7 L967.78 539.6 L968.89 539.5 L970.00 539.4 L971.11 539.2 L972.22 539.1 L973.33 539.0 L974.44 538.9 L975.56 538.8 L976.67 538.7 L977.78 538.5 L978.89 538.4 L980.00 538.3 L981.11 538.2 L982.22 538.1 L983.33 538.0 L984.44 537.9 L985.56 537.8 L986.67 537.7 L987.78 537.6 L988.89 537.5 L990.00 537.4 L991.11 537.3 L992.22 537.2 L993.33 537.1 L994.44 537.0 L995.56 536.9 L996.67 536.8 L997.78 536.6 L998.89 536.5 L1000.00 536.4 L1001.11 536.3 L1002.22 536.2 L1003.33 536.1 L1004.44 536.0 L1005.56 535.9 L1006.67 535.8 L1007.78 535.7 L1008.89 535.6 L1010.00 535.5 L1011.11 535.4 L1012.22 535.3 L1013.33 535.2 L1014.44 535.1 L1015.56 535.1 L1016.67 535.0 L1017.78 534.9 L1018.89 534.8 L1020.00 534.7 L1021.11 534.6 L1022.22 534.5 L1023.33 534.4 L1024.44 534.3 L1025.56 534.2 L1026.67 534.1 L1027.78 534.0 L1028.89 533.9 L1030.00 533.8 L1031.11 533.8 L1032.22 533.7 L1033.33 533.6 L1034.44 533.5 L1035.56 533.4 L1036.67 533.4 L1037.78 533.3 L1038.89 533.2 L1040.00 533.1 L1041.11 533.0 L1042.22 533.0 L1043.33 532.9 L1044.44 532.8 L1045.56 532.8 L1046.67 532.7 L1047.78 532.6 L1048.89 532.6 L1050.00 532.5 L1051.11 532.5 L1052.22 532.4 L1053.33 532.3 L1054.44 532.3 L1055.56 532.2 L1056.67 532.2 L1057.78 532.1 L1058.89 532.1 L1060.00 532.0 L1061.11 532.0 L1062.22 531.9 L1063.33 531.9 L1064.44 531.8 L1065.56 531.8 L1066.67 531.8 L1067.78 531.7 L1068.89 531.7 L1070.00 531.6 L1071.11 531.6 L1072.22 531.6 L1073.33 531.5 L1074.44 531.5 L1075.56 531.4 L1076.67 531.4 L1077.78 531.4 L1078.89 531.3 L1080.00 531.3 L1081.11 531.3 L1082.22 531.3 L1083.33 531.2 L1084.44 531.2 L1085.56 531.2 L1086.67 531.1 L1087.78 531.1 L1088.89 531.1 L1090.00 531.1 L1091.11 531.0 L1092.22 531.0" fill="none" stroke="#fe0a17" stroke-width="6.5" stroke-linejoin="round" stroke-linecap="butt" stroke-dasharray="20.60 11.10" stroke-dashoffset="27.29"/></g>
<path d="M99.0 866.0 L100.0 865.8 L101.0 865.5 L102.0 865.3 L103.0 865.0 L104.0 864.8 L105.0 864.5 L106.0 864.3 L107.0 864.0 L108.0 863.8 L109.0 863.6 L110.0 863.3 L111.0 863.1 L112.0 862.8 L113.0 862.6 L114.0 862.3 L115.0 862.1 L116.0 861.8 L117.0 861.6 L118.0 861.3 L119.0 861.1 L120.0 860.8 L121.0 860.6 L122.0 860.3 L123.0 860.1 L124.0 859.8 L125.0 859.6 L126.0 859.3 L127.0 859.1 L128.0 858.8 L129.0 858.5 L130.0 858.3 L131.0 858.0 L132.0 857.8 L133.0 857.5 L134.0 857.2 L135.0 857.0 L136.0 856.7 L137.0 856.5 L138.0 856.2 L139.0 855.9 L140.0 855.7 L141.0 855.4 L142.0 855.1 L143.0 854.9 L144.0 854.6 L145.0 854.3 L146.0 854.0 L147.0 853.8 L148.0 853.5 L149.0 853.2 L150.0 853.0 L151.0 852.7 L152.0 852.4 L153.0 852.1 L154.0 851.9 L155.0 851.6 L156.0 851.3 L157.0 851.0 L158.0 850.8 L159.0 850.5 L160.0 850.2 L161.0 850.0 L162.0 849.7 L163.0 849.4 L164.0 849.2 L165.0 848.9 L166.0 848.6 L167.0 848.4 L168.0 848.1 L169.0 847.8 L170.0 847.6 L171.0 847.3 L172.0 847.1 L173.0 846.8 L174.0 846.6 L175.0 846.3 L176.0 846.1 L177.0 845.9 L178.0 845.6 L179.0 845.4 L180.0 845.2 L181.0 844.9 L182.0 844.7 L183.0 844.5 L184.0 844.2 L185.0 844.0 L186.0 843.8 L187.0 843.6 L188.0 843.4 L189.0 843.2 L190.0 842.9 L191.0 842.7 L192.0 842.5 L193.0 842.3 L194.0 842.1 L195.0 841.9 L196.0 841.7 L197.0 841.5 L198.0 841.3 L199.0 841.1 L200.0 840.9 L201.0 840.7 L202.0 840.5 L203.0 840.3 L204.0 840.1 L205.0 839.9 L206.0 839.7 L207.0 839.5 L208.0 839.3 L209.0 839.0 L210.0 838.8 L211.0 838.6 L212.0 838.4 L213.0 838.2 L214.0 838.0 L215.0 837.8 L216.0 837.6 L217.0 837.4 L218.0 837.1 L219.0 836.9 L220.0 836.7 L221.0 836.5 L222.0 836.2 L223.0 836.0 L224.0 835.8 L225.0 835.5 L226.0 835.3 L227.0 835.1 L228.0 834.8 L229.0 834.6 L230.0 834.4 L231.0 834.1 L232.0 833.9 L233.0 833.6 L234.0 833.4 L235.0 833.1 L236.0 832.9 L237.0 832.6 L238.0 832.3 L239.0 832.1 L240.0 831.8 L241.0 831.5 L242.0 831.3 L243.0 831.0 L244.0 830.7 L245.0 830.5 L246.0 830.2 L247.0 829.9 L248.0 829.6 L249.0 829.3 L250.0 829.1 L251.0 828.8 L252.0 828.5 L253.0 828.2 L254.0 827.9 L255.0 827.6 L256.0 827.3 L257.0 827.0 L258.0 826.7 L259.0 826.4 L260.0 826.0 L261.0 825.7 L262.0 825.4 L263.0 825.1 L264.0 824.8 L265.0 824.4 L266.0 824.1 L267.0 823.8 L268.0 823.4 L269.0 823.1 L270.0 822.8 L271.0 822.4 L272.0 822.1 L273.0 821.7 L274.0 821.4 L275.0 821.0 L276.0 820.7 L277.0 820.3 L278.0 819.9 L279.0 819.6 L280.0 819.2 L281.0 818.8 L282.0 818.4 L283.0 818.1 L284.0 817.7 L285.0 817.3 L286.0 816.9 L287.0 816.5 L288.0 816.1 L289.0 815.7 L290.0 815.3 L291.0 814.9 L292.0 814.5 L293.0 814.1 L294.0 813.7 L295.0 813.2 L296.0 812.8 L297.0 812.4 L298.0 812.0 L299.0 811.5 L300.0 811.1 L301.0 810.6 L302.0 810.2 L303.0 809.7 L304.0 809.3 L305.0 808.8 L306.0 808.4 L307.0 807.9 L308.0 807.5 L309.0 807.0 L310.0 806.5 L311.0 806.0 L312.0 805.6 L313.0 805.1 L314.0 804.6 L315.0 804.1 L316.0 803.6 L317.0 803.2 L318.0 802.7 L319.0 802.2 L320.0 801.7 L321.0 801.2 L322.0 800.7 L323.0 800.2 L324.0 799.7 L325.0 799.2 L326.0 798.7 L327.0 798.2 L328.0 797.7 L329.0 797.2 L330.0 796.7 L331.0 796.2 L332.0 795.7 L333.0 795.2 L334.0 794.7 L335.0 794.2 L336.0 793.7 L337.0 793.2 L338.0 792.7 L339.0 792.2 L340.0 791.7 L341.0 791.2 L342.0 790.7 L343.0 790.2 L344.0 789.7 L345.0 789.2 L346.0 788.7 L347.0 788.2 L348.0 787.7 L349.0 787.2 L350.0 786.7 L351.0 786.2 L352.0 785.7 L353.0 785.2 L354.0 784.8 L355.0 784.3 L356.0 783.8 L357.0 783.3 L358.0 782.8 L359.0 782.3 L360.0 781.8 L361.0 781.4 L362.0 780.9 L363.0 780.4 L364.0 779.9 L365.0 779.4 L366.0 778.9 L367.0 778.4 L368.0 778.0 L369.0 777.5 L370.0 777.0 L371.0 776.5 L372.0 776.0 L373.0 775.5 L374.0 775.1 L375.0 774.6 L376.0 774.1 L377.0 773.6 L378.0 773.1 L379.0 772.7 L380.0 772.2 L381.0 771.7 L382.0 771.2 L383.0 770.7 L384.0 770.3 L385.0 769.8 L386.0 769.3 L387.0 768.8 L388.0 768.3 L389.0 767.9 L390.0 767.4 L391.0 766.9 L392.0 766.4 L393.0 765.9 L394.0 765.5 L395.0 765.0 L396.0 764.5 L397.0 764.0 L398.0 763.5 L399.0 763.0 L400.0 762.5 L401.0 762.1 L402.0 761.6 L403.0 761.1 L404.0 760.6 L405.0 760.1 L406.0 759.6 L407.0 759.1 L408.0 758.6 L409.0 758.0 L410.0 757.5 L411.0 757.0 L412.0 756.5 L413.0 756.0 L414.0 755.4 L415.0 754.9 L416.0 754.4 L417.0 753.8 L418.0 753.3 L419.0 752.8 L420.0 752.2 L421.0 751.7 L422.0 751.1 L423.0 750.5 L424.0 750.0 L425.0 749.4 L426.0 748.8 L427.0 748.3 L428.0 747.7 L429.0 747.1 L430.0 746.5 L431.0 745.9 L432.0 745.3 L433.0 744.7 L434.0 744.1 L435.0 743.5 L436.0 742.9 L437.0 742.3 L438.0 741.6 L439.0 741.0 L440.0 740.4 L441.0 739.7 L442.0 739.1 L443.0 738.5 L444.0 737.8 L445.0 737.2 L446.0 736.5 L447.0 735.9 L448.0 735.2 L449.0 734.6 L450.0 733.9 L451.0 733.2 L452.0 732.5 L453.0 731.9 L454.0 731.2 L455.0 730.5 L456.0 729.8 L457.0 729.1 L458.0 728.4 L459.0 727.7 L460.0 727.0 L461.0 726.3 L462.0 725.6 L463.0 724.9 L464.0 724.2 L465.0 723.4 L466.0 722.7 L467.0 722.0 L468.0 721.3 L469.0 720.5 L470.0 719.8 L471.0 719.1 L472.0 718.3 L473.0 717.6 L474.0 716.9 L475.0 716.1 L476.0 715.4 L477.0 714.6 L478.0 713.9 L479.0 713.1 L480.0 712.4 L481.0 711.7 L482.0 710.9 L483.0 710.2 L484.0 709.5 L485.0 708.7 L486.0 708.0 L487.0 707.3 L488.0 706.6 L489.0 705.8 L490.0 705.1 L491.0 704.4 L492.0 703.7 L493.0 703.0 L494.0 702.3 L495.0 701.6 L496.0 701.0 L497.0 700.3 L498.0 699.6 L499.0 698.9 L500.0 698.3 L501.0 697.6 L502.0 697.0 L503.0 696.3 L504.0 695.7 L505.0 695.1 L506.0 694.5 L507.0 693.8 L508.0 693.2 L509.0 692.6 L510.0 692.0 L511.0 691.4 L512.0 690.8 L513.0 690.2 L514.0 689.7 L515.0 689.1 L516.0 688.5 L517.0 688.0 L518.0 687.4 L519.0 686.8 L520.0 686.3 L521.0 685.7 L522.0 685.2 L523.0 684.6 L524.0 684.1 L525.0 683.5 L526.0 683.0 L527.0 682.4 L528.0 681.9 L529.0 681.4 L530.0 680.8 L531.0 680.3 L532.0 679.8 L533.0 679.2 L534.0 678.7 L535.0 678.2 L536.0 677.7 L537.0 677.1 L538.0 676.6 L539.0 676.1 L540.0 675.6 L541.0 675.0 L542.0 674.5 L543.0 674.0 L544.0 673.5 L545.0 672.9 L546.0 672.4 L547.0 671.9 L548.0 671.4 L549.0 670.9 L550.0 670.3 L551.0 669.8 L552.0 669.3 L553.0 668.8 L554.0 668.3 L555.0 667.7 L556.0 667.2 L557.0 666.7 L558.0 666.2 L559.0 665.6 L560.0 665.1 L561.0 664.6 L562.0 664.1 L563.0 663.5 L564.0 663.0 L565.0 662.5 L566.0 662.0 L567.0 661.4 L568.0 660.9 L569.0 660.4 L570.0 659.8 L571.0 659.3 L572.0 658.8 L573.0 658.2 L574.0 657.7 L575.0 657.1 L576.0 656.6 L577.0 656.0 L578.0 655.5 L579.0 654.9 L580.0 654.4 L581.0 653.8 L582.0 653.3 L583.0 652.7 L584.0 652.1 L585.0 651.6 L586.0 651.0 L587.0 650.4 L588.0 649.9 L589.0 649.3 L590.0 648.7 L591.0 648.1 L592.0 647.6 L593.0 647.0 L594.0 646.4 L595.0 645.8 L596.0 645.2 L597.0 644.6 L598.0 644.0 L599.0 643.5 L600.0 642.9 L601.0 642.3 L602.0 641.7 L603.0 641.1 L604.0 640.5 L605.0 639.9 L606.0 639.3 L607.0 638.7 L608.0 638.1 L609.0 637.5 L610.0 636.9 L611.0 636.3 L612.0 635.7 L613.0 635.1 L614.0 634.5 L615.0 633.9 L616.0 633.3 L617.0 632.7 L618.0 632.1 L619.0 631.5 L620.0 630.9 L621.0 630.3 L622.0 629.7 L623.0 629.1 L624.0 628.5 L625.0 627.9 L626.0 627.3 L627.0 626.7 L628.0 626.1 L629.0 625.5 L630.0 624.9 L631.0 624.3 L632.0 623.7 L633.0 623.1 L634.0 622.5 L635.0 621.9 L636.0 621.3 L637.0 620.7 L638.0 620.1 L639.0 619.5 L640.0 618.9 L641.0 618.3 L642.0 617.7 L643.0 617.1 L644.0 616.5 L645.0 615.9 L646.0 615.3 L647.0 614.7 L648.0 614.1 L649.0 613.5 L650.0 612.9 L651.0 612.3 L652.0 611.7 L653.0 611.1 L654.0 610.5 L655.0 609.9 L656.0 609.3 L657.0 608.7 L658.0 608.1 L659.0 607.5 L660.0 606.9 L661.0 606.3 L662.0 605.7 L663.0 605.1 L664.0 604.5 L665.0 603.9 L666.0 603.3 L667.0 602.7 L668.0 602.1 L669.0 601.5 L670.0 600.9 L671.0 600.3 L672.0 599.7 L673.0 599.1 L674.0 598.5 L675.0 597.9 L676.0 597.3 L677.0 596.7 L678.0 596.1 L679.0 595.5 L680.0 594.9 L681.0 594.3 L682.0 593.7 L683.0 593.1 L684.0 592.5 L685.0 591.9 L686.0 591.3 L687.0 590.7 L688.0 590.1 L689.0 589.6 L690.0 589.0 L691.0 588.4 L692.0 587.8 L693.0 587.2 L694.0 586.6 L695.0 586.0 L696.0 585.4 L697.0 584.9 L698.0 584.3 L699.0 583.7 L700.0 583.1 L701.0 582.5 L702.0 582.0 L703.0 581.4 L704.0 580.8 L705.0 580.2 L706.0 579.7 L707.0 579.1 L708.0 578.5 L709.0 577.9 L710.0 577.4 L711.0 576.8 L712.0 576.2 L713.0 575.7 L714.0 575.1 L715.0 574.6 L716.0 574.0 L717.0 573.5 L718.0 572.9 L719.0 572.3 L720.0 571.8 L721.0 571.2 L722.0 570.7 L723.0 570.2 L724.0 569.6 L725.0 569.1 L726.0 568.5 L727.0 568.0 L728.0 567.5 L729.0 566.9 L730.0 566.4 L731.0 565.9 L732.0 565.3 L733.0 564.8 L734.0 564.3 L735.0 563.8 L736.0 563.3 L737.0 562.8 L738.0 562.3 L739.0 561.7 L740.0 561.2 L741.0 560.7 L742.0 560.2 L743.0 559.7 L744.0 559.3 L745.0 558.8 L746.0 558.3 L747.0 557.8 L748.0 557.3 L749.0 556.8 L750.0 556.4 L751.0 555.9 L752.0 555.4 L753.0 554.9 L754.0 554.5 L755.0 554.0 L756.0 553.5 L757.0 553.1 L758.0 552.6 L759.0 552.2 L760.0 551.7 L761.0 551.3 L762.0 550.8 L763.0 550.4 L764.0 549.9 L765.0 549.5 L766.0 549.0 L767.0 548.6 L768.0 548.1 L769.0 547.7 L770.0 547.3 L771.0 546.8 L772.0 546.4 L773.0 546.0 L774.0 545.5 L775.0 545.1 L776.0 544.7 L777.0 544.3 L778.0 543.8 L779.0 543.4 L780.0 543.0 L781.0 542.6 L782.0 542.2 L783.0 541.7 L784.0 541.3 L785.0 540.9 L786.0 540.5 L787.0 540.1 L788.0 539.7 L789.0 539.3 L790.0 538.9 L791.0 538.5 L792.0 538.1 L793.0 537.7 L794.0 537.3 L795.0 536.9 L796.0 536.5 L797.0 536.1 L798.0 535.7 L799.0 535.3 L800.0 534.9 L801.0 534.5 L802.0 534.1 L803.0 533.7 L804.0 533.3 L805.0 532.9 L806.0 532.5 L807.0 532.1 L808.0 531.8 L809.0 531.4 L810.0 531.0 L811.0 530.6 L812.0 530.2 L813.0 529.9 L814.0 529.5 L815.0 529.1 L816.0 528.7 L817.0 528.4 L818.0 528.0 L819.0 527.6 L820.0 527.2 L821.0 526.9 L822.0 526.5 L823.0 526.1 L824.0 525.8 L825.0 525.4 L826.0 525.1 L827.0 524.7 L828.0 524.3 L829.0 524.0 L830.0 523.6 L831.0 523.3 L832.0 522.9 L833.0 522.6 L834.0 522.2 L835.0 521.8 L836.0 521.5 L837.0 521.1 L838.0 520.8 L839.0 520.5 L840.0 520.1 L841.0 519.8 L842.0 519.4 L843.0 519.1 L844.0 518.7 L845.0 518.4 L846.0 518.0 L847.0 517.7 L848.0 517.4 L849.0 517.0 L850.0 516.7 L851.0 516.4 L852.0 516.0 L853.0 515.7 L854.0 515.4 L855.0 515.0 L856.0 514.7 L857.0 514.4 L858.0 514.1 L859.0 513.7 L860.0 513.4 L861.0 513.1 L862.0 512.8 L863.0 512.4 L864.0 512.1 L865.0 511.8 L866.0 511.5 L867.0 511.1 L868.0 510.8 L869.0 510.5 L870.0 510.2 L871.0 509.9 L872.0 509.6 L873.0 509.3 L874.0 508.9 L875.0 508.6 L876.0 508.3 L877.0 508.0 L878.0 507.7 L879.0 507.4 L880.0 507.1 L881.0 506.8 L882.0 506.5 L883.0 506.2 L884.0 505.9 L885.0 505.5 L886.0 505.2 L887.0 504.9 L888.0 504.6 L889.0 504.3 L890.0 504.0 L891.0 503.7 L892.0 503.4 L893.0 503.1 L894.0 502.8 L895.0 502.5 L896.0 502.2 L897.0 501.9 L898.0 501.6 L899.0 501.3 L900.0 501.0 L901.0 500.7 L902.0 500.4 L903.0 500.1 L904.0 499.8 L905.0 499.5 L906.0 499.1 L907.0 498.8 L908.0 498.5 L909.0 498.2 L910.0 497.9 L911.0 497.6 L912.0 497.3 L913.0 497.0 L914.0 496.7 L915.0 496.4 L916.0 496.1 L917.0 495.8 L918.0 495.5 L919.0 495.2 L920.0 494.9 L921.0 494.6 L922.0 494.3 L923.0 494.0 L924.0 493.7 L925.0 493.4 L926.0 493.1 L927.0 492.8 L928.0 492.5 L929.0 492.2 L930.0 491.9 L931.0 491.6 L932.0 491.3 L933.0 491.0 L934.0 490.7 L935.0 490.4 L936.0 490.1 L937.0 489.8 L938.0 489.5 L939.0 489.2 L940.0 488.9 L941.0 488.6 L942.0 488.3 L943.0 488.0 L944.0 487.7 L945.0 487.5 L946.0 487.2 L947.0 486.9 L948.0 486.6 L949.0 486.3 L950.0 486.0 L951.0 485.7 L952.0 485.5 L953.0 485.2 L954.0 484.9 L955.0 484.6 L956.0 484.3 L957.0 484.1 L958.0 483.8 L959.0 483.5 L960.0 483.2 L961.0 482.9 L962.0 482.7 L963.0 482.4 L964.0 482.1 L965.0 481.8 L966.0 481.6 L967.0 481.3 L968.0 481.0 L969.0 480.8 L970.0 480.5 L971.0 480.2 L972.0 479.9 L973.0 479.7 L974.0 479.4 L975.0 479.1 L976.0 478.9 L977.0 478.6 L978.0 478.3 L979.0 478.1 L980.0 477.8 L981.0 477.5 L982.0 477.3 L983.0 477.0" fill="none" stroke="#fe0a17" stroke-width="6.5" stroke-linejoin="round" stroke-linecap="round"/>
<path d="M99.0 866.0 L100.0 865.8 L101.0 865.5 L102.0 865.3 L103.0 865.0 L104.0 864.8 L105.0 864.5 L106.0 864.3 L107.0 864.0 L108.0 863.8 L109.0 863.6 L110.0 863.3 L111.0 863.1 L112.0 862.8 L113.0 862.6 L114.0 862.3 L115.0 862.1 L116.0 861.8 L117.0 861.6 L118.0 861.3 L119.0 861.1 L120.0 860.8 L121.0 860.6 L122.0 860.3 L123.0 860.1 L124.0 859.8 L125.0 859.6 L126.0 859.3 L127.0 859.1 L128.0 858.8 L129.0 858.5 L130.0 858.3 L131.0 858.0 L132.0 857.8 L133.0 857.5 L134.0 857.2 L135.0 857.0 L136.0 856.7 L137.0 856.4 L138.0 856.2 L139.0 855.9 L140.0 855.6 L141.0 855.4 L142.0 855.1 L143.0 854.8 L144.0 854.6 L145.0 854.3 L146.0 854.0 L147.0 853.7 L148.0 853.5 L149.0 853.2 L150.0 852.9 L151.0 852.6 L152.0 852.4 L153.0 852.1 L154.0 851.8 L155.0 851.5 L156.0 851.3 L157.0 851.0 L158.0 850.7 L159.0 850.5 L160.0 850.2 L161.0 849.9 L162.0 849.6 L163.0 849.4 L164.0 849.1 L165.0 848.9 L166.0 848.6 L167.0 848.3 L168.0 848.1 L169.0 847.8 L170.0 847.6 L171.0 847.3 L172.0 847.1 L173.0 846.9 L174.0 846.6 L175.0 846.4 L176.0 846.1 L177.0 845.9 L178.0 845.7 L179.0 845.5 L180.0 845.3 L181.0 845.0 L182.0 844.8 L183.0 844.6 L184.0 844.4 L185.0 844.2 L186.0 844.0 L187.0 843.8 L188.0 843.6 L189.0 843.4 L190.0 843.2 L191.0 843.0 L192.0 842.8 L193.0 842.7 L194.0 842.5 L195.0 842.3 L196.0 842.1 L197.0 841.9 L198.0 841.7 L199.0 841.6 L200.0 841.4 L201.0 841.2 L202.0 841.0 L203.0 840.8 L204.0 840.7 L205.0 840.5 L206.0 840.3 L207.0 840.1 L208.0 839.9 L209.0 839.8 L210.0 839.6 L211.0 839.4 L212.0 839.2 L213.0 839.0 L214.0 838.8 L215.0 838.6 L216.0 838.4 L217.0 838.2 L218.0 838.0 L219.0 837.8 L220.0 837.6 L221.0 837.4 L222.0 837.2 L223.0 837.0 L224.0 836.8 L225.0 836.6 L226.0 836.4 L227.0 836.2 L228.0 836.0 L229.0 835.7 L230.0 835.5 L231.0 835.3 L232.0 835.1 L233.0 834.8 L234.0 834.6 L235.0 834.4 L236.0 834.1 L237.0 833.9 L238.0 833.7 L239.0 833.4 L240.0 833.2 L241.0 832.9 L242.0 832.7 L243.0 832.4 L244.0 832.2 L245.0 831.9 L246.0 831.7 L247.0 831.4 L248.0 831.2 L249.0 830.9 L250.0 830.7 L251.0 830.4 L252.0 830.2 L253.0 829.9 L254.0 829.6 L255.0 829.4 L256.0 829.1 L257.0 828.8 L258.0 828.6 L259.0 828.3 L260.0 828.1 L261.0 827.8 L262.0 827.5 L263.0 827.2 L264.0 827.0 L265.0 826.7 L266.0 826.4 L267.0 826.2 L268.0 825.9 L269.0 825.6 L270.0 825.3 L271.0 825.0 L272.0 824.8 L273.0 824.5 L274.0 824.2 L275.0 823.9 L276.0 823.6 L277.0 823.3 L278.0 823.1 L279.0 822.8 L280.0 822.5 L281.0 822.2 L282.0 821.9 L283.0 821.6 L284.0 821.3 L285.0 821.0 L286.0 820.7 L287.0 820.4 L288.0 820.1 L289.0 819.7 L290.0 819.4 L291.0 819.1 L292.0 818.8 L293.0 818.5 L294.0 818.2 L295.0 817.8 L296.0 817.5 L297.0 817.2 L298.0 816.8 L299.0 816.5 L300.0 816.2 L301.0 815.8 L302.0 815.5 L303.0 815.1 L304.0 814.8 L305.0 814.4 L306.0 814.1 L307.0 813.7 L308.0 813.3 L309.0 813.0 L310.0 812.6 L311.0 812.2 L312.0 811.9 L313.0 811.5 L314.0 811.1 L315.0 810.8 L316.0 810.4 L317.0 810.0 L318.0 809.6 L319.0 809.2 L320.0 808.9 L321.0 808.5 L322.0 808.1 L323.0 807.7 L324.0 807.3 L325.0 806.9 L326.0 806.6 L327.0 806.2 L328.0 805.8 L329.0 805.4 L330.0 805.0 L331.0 804.6 L332.0 804.3 L333.0 803.9 L334.0 803.5 L335.0 803.1 L336.0 802.7 L337.0 802.4 L338.0 802.0 L339.0 801.6 L340.0 801.2 L341.0 800.9 L342.0 800.5 L343.0 800.1 L344.0 799.8 L345.0 799.4 L346.0 799.1 L347.0 798.7 L348.0 798.3 L349.0 798.0 L350.0 797.6 L351.0 797.3 L352.0 796.9 L353.0 796.6 L354.0 796.2 L355.0 795.9 L356.0 795.5 L357.0 795.2 L358.0 794.8 L359.0 794.5 L360.0 794.2 L361.0 793.8 L362.0 793.5 L363.0 793.1 L364.0 792.8 L365.0 792.5 L366.0 792.1 L367.0 791.8 L368.0 791.5 L369.0 791.1 L370.0 790.8 L371.0 790.4 L372.0 790.1 L373.0 789.8 L374.0 789.4 L375.0 789.1 L376.0 788.8 L377.0 788.4 L378.0 788.1 L379.0 787.8 L380.0 787.4 L381.0 787.1 L382.0 786.7 L383.0 786.4 L384.0 786.0 L385.0 785.7 L386.0 785.4 L387.0 785.0 L388.0 784.7 L389.0 784.3 L390.0 784.0 L391.0 783.6 L392.0 783.2 L393.0 782.9 L394.0 782.5 L395.0 782.2 L396.0 781.8 L397.0 781.4 L398.0 781.1 L399.0 780.7 L400.0 780.3 L401.0 779.9 L402.0 779.5 L403.0 779.2 L404.0 778.8 L405.0 778.4 L406.0 778.0 L407.0 777.6 L408.0 777.2 L409.0 776.8 L410.0 776.3 L411.0 775.9 L412.0 775.5 L413.0 775.1 L414.0 774.6 L415.0 774.2 L416.0 773.8 L417.0 773.3 L418.0 772.9 L419.0 772.4 L420.0 772.0 L421.0 771.5 L422.0 771.0 L423.0 770.6 L424.0 770.1 L425.0 769.6 L426.0 769.1 L427.0 768.6 L428.0 768.1 L429.0 767.6 L430.0 767.1 L431.0 766.6 L432.0 766.1 L433.0 765.5 L434.0 765.0 L435.0 764.5 L436.0 763.9 L437.0 763.4 L438.0 762.8 L439.0 762.2 L440.0 761.7 L441.0 761.1 L442.0 760.5 L443.0 760.0 L444.0 759.4 L445.0 758.8 L446.0 758.2 L447.0 757.6 L448.0 757.0 L449.0 756.4 L450.0 755.8 L451.0 755.2 L452.0 754.6 L453.0 754.0 L454.0 753.4 L455.0 752.8 L456.0 752.1 L457.0 751.5 L458.0 750.9 L459.0 750.3 L460.0 749.6 L461.0 749.0 L462.0 748.4 L463.0 747.7 L464.0 747.1 L465.0 746.5 L466.0 745.8 L467.0 745.2 L468.0 744.6 L469.0 743.9 L470.0 743.3 L471.0 742.6 L472.0 742.0 L473.0 741.4 L474.0 740.7 L475.0 740.1 L476.0 739.4 L477.0 738.8 L478.0 738.2 L479.0 737.5 L480.0 736.9 L481.0 736.3 L482.0 735.6 L483.0 735.0 L484.0 734.4 L485.0 733.8 L486.0 733.1 L487.0 732.5 L488.0 731.9 L489.0 731.3 L490.0 730.7 L491.0 730.1 L492.0 729.5 L493.0 728.9 L494.0 728.2 L495.0 727.6 L496.0 727.1 L497.0 726.5 L498.0 725.9 L499.0 725.3 L500.0 724.7 L501.0 724.1 L502.0 723.5 L503.0 722.9 L504.0 722.4 L505.0 721.8 L506.0 721.2 L507.0 720.7 L508.0 720.1 L509.0 719.5 L510.0 719.0 L511.0 718.4 L512.0 717.8 L513.0 717.3 L514.0 716.7 L515.0 716.2 L516.0 715.6 L517.0 715.1 L518.0 714.5 L519.0 714.0 L520.0 713.5 L521.0 712.9 L522.0 712.4 L523.0 711.8 L524.0 711.3 L525.0 710.8 L526.0 710.2 L527.0 709.7 L528.0 709.2 L529.0 708.6 L530.0 708.1 L531.0 707.6 L532.0 707.0 L533.0 706.5 L534.0 706.0 L535.0 705.4 L536.0 704.9 L537.0 704.4 L538.0 703.8 L539.0 703.3 L540.0 702.8 L541.0 702.2 L542.0 701.7 L543.0 701.1 L544.0 700.6 L545.0 700.1 L546.0 699.5 L547.0 699.0 L548.0 698.4 L549.0 697.9 L550.0 697.4 L551.0 696.8 L552.0 696.3 L553.0 695.7 L554.0 695.2 L555.0 694.6 L556.0 694.0 L557.0 693.5 L558.0 692.9 L559.0 692.4 L560.0 691.8 L561.0 691.2 L562.0 690.7 L563.0 690.1 L564.0 689.5 L565.0 688.9 L566.0 688.4 L567.0 687.8 L568.0 687.2 L569.0 686.6 L570.0 686.0 L571.0 685.4 L572.0 684.8 L573.0 684.2 L574.0 683.6 L575.0 683.0 L576.0 682.3 L577.0 681.7 L578.0 681.1 L579.0 680.5 L580.0 679.8 L581.0 679.2 L582.0 678.6 L583.0 677.9 L584.0 677.3 L585.0 676.6 L586.0 676.0 L587.0 675.3 L588.0 674.7 L589.0 674.0 L590.0 673.3 L591.0 672.6 L592.0 672.0 L593.0 671.3 L594.0 670.6 L595.0 669.9 L596.0 669.2 L597.0 668.5 L598.0 667.8 L599.0 667.1 L600.0 666.4 L601.0 665.7 L602.0 665.0 L603.0 664.3 L604.0 663.6 L605.0 662.8 L606.0 662.1 L607.0 661.4 L608.0 660.6 L609.0 659.9 L610.0 659.2 L611.0 658.4 L612.0 657.7 L613.0 657.0 L614.0 656.2 L615.0 655.5 L616.0 654.7 L617.0 654.0 L618.0 653.2 L619.0 652.4 L620.0 651.7 L621.0 650.9 L622.0 650.2 L623.0 649.4 L624.0 648.6 L625.0 647.9 L626.0 647.1 L627.0 646.3 L628.0 645.6 L629.0 644.8 L630.0 644.0 L631.0 643.3 L632.0 642.5 L633.0 641.7 L634.0 640.9 L635.0 640.2 L636.0 639.4 L637.0 638.6 L638.0 637.8 L639.0 637.1 L640.0 636.3 L641.0 635.5 L642.0 634.7 L643.0 634.0 L644.0 633.2 L645.0 632.4 L646.0 631.6 L647.0 630.9 L648.0 630.1 L649.0 629.3 L650.0 628.5 L651.0 627.8 L652.0 627.0 L653.0 626.2 L654.0 625.5 L655.0 624.7 L656.0 623.9 L657.0 623.1 L658.0 622.4 L659.0 621.6 L660.0 620.8 L661.0 620.1 L662.0 619.3 L663.0 618.5 L664.0 617.8 L665.0 617.0 L666.0 616.2 L667.0 615.5 L668.0 614.7 L669.0 613.9 L670.0 613.2 L671.0 612.4 L672.0 611.7 L673.0 610.9 L674.0 610.1 L675.0 609.4 L676.0 608.6 L677.0 607.8 L678.0 607.1 L679.0 606.3 L680.0 605.5 L681.0 604.8 L682.0 604.0 L683.0 603.2 L684.0 602.5 L685.0 601.7 L686.0 600.9 L687.0 600.2 L688.0 599.4 L689.0 598.6 L690.0 597.9 L691.0 597.1 L692.0 596.3 L693.0 595.6 L694.0 594.8 L695.0 594.0 L696.0 593.3 L697.0 592.5 L698.0 591.7 L699.0 591.0 L700.0 590.2 L701.0 589.4 L702.0 588.6 L703.0 587.9 L704.0 587.1 L705.0 586.3 L706.0 585.5 L707.0 584.8 L708.0 584.0 L709.0 583.2 L710.0 582.4 L711.0 581.7 L712.0 580.9 L713.0 580.1 L714.0 579.3 L715.0 578.6 L716.0 577.8 L717.0 577.0 L718.0 576.2 L719.0 575.4 L720.0 574.7 L721.0 573.9 L722.0 573.1 L723.0 572.3 L724.0 571.5 L725.0 570.8 L726.0 570.0 L727.0 569.2 L728.0 568.4 L729.0 567.6 L730.0 566.8 L731.0 566.1 L732.0 565.3 L733.0 564.5 L734.0 563.7 L735.0 562.9 L736.0 562.1 L737.0 561.3 L738.0 560.5 L739.0 559.7 L740.0 558.9 L741.0 558.2 L742.0 557.4 L743.0 556.6 L744.0 555.8 L745.0 555.0 L746.0 554.2 L747.0 553.4 L748.0 552.6 L749.0 551.8 L750.0 551.0 L751.0 550.2 L752.0 549.4 L753.0 548.6 L754.0 547.8 L755.0 547.0 L756.0 546.2 L757.0 545.4 L758.0 544.6 L759.0 543.8 L760.0 543.0 L761.0 542.1 L762.0 541.3 L763.0 540.5 L764.0 539.7 L765.0 538.9 L766.0 538.1 L767.0 537.3 L768.0 536.5 L769.0 535.6 L770.0 534.8 L771.0 534.0 L772.0 533.2 L773.0 532.4 L774.0 531.6 L775.0 530.7 L776.0 529.9 L777.0 529.1 L778.0 528.3 L779.0 527.4 L780.0 526.6 L781.0 525.8 L782.0 524.9 L783.0 524.1 L784.0 523.3 L785.0 522.4 L786.0 521.6 L787.0 520.8 L788.0 519.9 L789.0 519.1 L790.0 518.3 L791.0 517.4 L792.0 516.6 L793.0 515.7 L794.0 514.9 L795.0 514.1 L796.0 513.2 L797.0 512.4 L798.0 511.5 L799.0 510.7 L800.0 509.8 L801.0 509.0 L802.0 508.2 L803.0 507.3 L804.0 506.5 L805.0 505.6 L806.0 504.8 L807.0 503.9 L808.0 503.1 L809.0 502.2 L810.0 501.4 L811.0 500.6 L812.0 499.7 L813.0 498.9 L814.0 498.0 L815.0 497.2 L816.0 496.4 L817.0 495.5 L818.0 494.7 L819.0 493.9 L820.0 493.0 L821.0 492.2 L822.0 491.3 L823.0 490.5 L824.0 489.7 L825.0 488.9 L826.0 488.0 L827.0 487.2 L828.0 486.4 L829.0 485.6 L830.0 484.7 L831.0 483.9 L832.0 483.1 L833.0 482.3 L834.0 481.4 L835.0 480.6 L836.0 479.8 L837.0 479.0 L838.0 478.2 L839.0 477.4 L840.0 476.6 L841.0 475.7 L842.0 474.9 L843.0 474.1 L844.0 473.3 L845.0 472.5 L846.0 471.7 L847.0 470.9 L848.0 470.1 L849.0 469.3 L850.0 468.5 L851.0 467.7 L852.0 466.9 L853.0 466.1 L854.0 465.3 L855.0 464.5 L856.0 463.7 L857.0 462.9 L858.0 462.2 L859.0 461.4 L860.0 460.6 L861.0 459.8 L862.0 459.0 L863.0 458.2 L864.0 457.5 L865.0 456.7 L866.0 455.9 L867.0 455.1 L868.0 454.3 L869.0 453.6 L870.0 452.8 L871.0 452.0 L872.0 451.3 L873.0 450.5 L874.0 449.7 L875.0 449.0 L876.0 448.2 L877.0 447.4 L878.0 446.7 L879.0 445.9 L880.0 445.1 L881.0 444.4 L882.0 443.6 L883.0 442.9 L884.0 442.1 L885.0 441.3 L886.0 440.6 L887.0 439.8 L888.0 439.1 L889.0 438.3 L890.0 437.5 L891.0 436.8 L892.0 436.0 L893.0 435.3 L894.0 434.5 L895.0 433.7 L896.0 433.0 L897.0 432.2 L898.0 431.5 L899.0 430.7 L900.0 429.9 L901.0 429.2 L902.0 428.4 L903.0 427.7 L904.0 426.9 L905.0 426.1 L906.0 425.4 L907.0 424.6 L908.0 423.8 L909.0 423.1 L910.0 422.3 L911.0 421.5 L912.0 420.8 L913.0 420.0 L914.0 419.2 L915.0 418.5 L916.0 417.7 L917.0 416.9 L918.0 416.2 L919.0 415.4 L920.0 414.6 L921.0 413.8 L922.0 413.1 L923.0 412.3 L924.0 411.5 L925.0 410.8 L926.0 410.0 L927.0 409.2 L928.0 408.4 L929.0 407.7 L930.0 406.9 L931.0 406.1 L932.0 405.4 L933.0 404.6 L934.0 403.8 L935.0 403.0 L936.0 402.3 L937.0 401.5 L938.0 400.7 L939.0 400.0 L940.0 399.2 L941.0 398.4 L942.0 397.6 L943.0 396.9 L944.0 396.1 L945.0 395.3 L946.0 394.6 L947.0 393.8 L948.0 393.0 L949.0 392.2 L950.0 391.5 L951.0 390.7 L952.0 389.9 L953.0 389.1 L954.0 388.4 L955.0 387.6 L956.0 386.8 L957.0 386.1 L958.0 385.3 L959.0 384.5 L960.0 383.7 L961.0 383.0 L962.0 382.2 L963.0 381.4 L964.0 380.7 L965.0 379.9 L966.0 379.1 L967.0 378.3 L968.0 377.6 L969.0 376.8 L970.0 376.0 L971.0 375.3 L972.0 374.5 L973.0 373.7 L974.0 372.9 L975.0 372.2 L976.0 371.4 L977.0 370.6 L978.0 369.9 L979.0 369.1 L980.0 368.3 L981.0 367.5 L982.0 366.8 L983.0 366.0" fill="none" stroke="#e0a010" stroke-width="6.3" stroke-linejoin="round"/>
<path d="M99.0 866.0 L100.0 865.8 L101.0 865.5 L102.0 865.3 L103.0 865.0 L104.0 864.8 L105.0 864.5 L106.0 864.3 L107.0 864.0 L108.0 863.8 L109.0 863.6 L110.0 863.3 L111.0 863.1 L112.0 862.8 L113.0 862.6 L114.0 862.3 L115.0 862.1 L116.0 861.8 L117.0 861.6 L118.0 861.3 L119.0 861.1 L120.0 860.8 L121.0 860.6 L122.0 860.3 L123.0 860.1 L124.0 859.8 L125.0 859.6 L126.0 859.3 L127.0 859.1 L128.0 858.8 L129.0 858.5 L130.0 858.3 L131.0 858.0 L132.0 857.8 L133.0 857.5 L134.0 857.2 L135.0 857.0 L136.0 856.7 L137.0 856.5 L138.0 856.2 L139.0 855.9 L140.0 855.7 L141.0 855.4 L142.0 855.1 L143.0 854.9 L144.0 854.6 L145.0 854.3 L146.0 854.0 L147.0 853.8 L148.0 853.5 L149.0 853.2 L150.0 853.0 L151.0 852.7 L152.0 852.4 L153.0 852.1 L154.0 851.9 L155.0 851.6 L156.0 851.3 L157.0 851.0 L158.0 850.8 L159.0 850.5 L160.0 850.2 L161.0 850.0 L162.0 849.7 L163.0 849.4 L164.0 849.2 L165.0 848.9 L166.0 848.6 L167.0 848.4 L168.0 848.1 L169.0 847.8 L170.0 847.6 L171.0 847.3 L172.0 847.1 L173.0 846.8 L174.0 846.6 L175.0 846.3 L176.0 846.1 L177.0 845.9 L178.0 845.6 L179.0 845.4 L180.0 845.2 L181.0 844.9 L182.0 844.7 L183.0 844.5 L184.0 844.2 L185.0 844.0 L186.0 843.8 L187.0 843.6 L188.0 843.4 L189.0 843.2 L190.0 842.9 L191.0 842.7 L192.0 842.5 L193.0 842.3 L194.0 842.1 L195.0 841.9 L196.0 841.7 L197.0 841.5 L198.0 841.3 L199.0 841.1 L200.0 840.9 L201.0 840.7 L202.0 840.5 L203.0 840.3 L204.0 840.1 L205.0 839.9 L206.0 839.7 L207.0 839.5 L208.0 839.3 L209.0 839.0 L210.0 838.8 L211.0 838.6 L212.0 838.4 L213.0 838.2 L214.0 838.0 L215.0 837.8 L216.0 837.6 L217.0 837.4 L218.0 837.1 L219.0 836.9 L220.0 836.7 L221.0 836.5 L222.0 836.2 L223.0 836.0 L224.0 835.8 L225.0 835.5 L226.0 835.3 L227.0 835.1 L228.0 834.8 L229.0 834.6 L230.0 834.4 L231.0 834.1 L232.0 833.9 L233.0 833.6 L234.0 833.4 L235.0 833.1 L236.0 832.9 L237.0 832.6 L238.0 832.3 L239.0 832.1 L240.0 831.8 L241.0 831.5 L242.0 831.3 L243.0 831.0 L244.0 830.7 L245.0 830.5 L246.0 830.2 L247.0 829.9 L248.0 829.6 L249.0 829.3 L250.0 829.1 L251.0 828.8 L252.0 828.5 L253.0 828.2 L254.0 827.9 L255.0 827.6 L256.0 827.3 L257.0 827.0 L258.0 826.7 L259.0 826.4 L260.0 826.0 L261.0 825.7 L262.0 825.4 L263.0 825.1 L264.0 824.8 L265.0 824.4 L266.0 824.1 L267.0 823.8 L268.0 823.4 L269.0 823.1 L270.0 822.8 L271.0 822.4 L272.0 822.1 L273.0 821.7 L274.0 821.4 L275.0 821.0 L276.0 820.7 L277.0 820.3 L278.0 819.9 L279.0 819.6 L280.0 819.2 L281.0 818.8 L282.0 818.4 L283.0 818.1 L284.0 817.7 L285.0 817.3 L286.0 816.9 L287.0 816.5 L288.0 816.1 L289.0 815.7 L290.0 815.3 L291.0 814.9" fill="none" stroke="#fe0a17" stroke-width="6" stroke-linecap="round"/>
<g transform="scale(0.900 1)"><path d="M110.00 866.0 L111.11 865.8 L112.22 865.5 L113.33 865.3 L114.44 865.0 L115.56 864.8 L116.67 864.5 L117.78 864.3 L118.89 864.0 L120.00 863.8 L121.11 863.6 L122.22 863.3 L123.33 863.1 L124.44 862.8 L125.56 862.6 L126.67 862.3 L127.78 862.1 L128.89 861.8 L130.00 861.6 L131.11 861.3 L132.22 861.1 L133.33 860.8 L134.44 860.6 L135.56 860.3 L136.67 860.1 L137.78 859.8 L138.89 859.6 L140.00 859.3 L141.11 859.1 L142.22 858.8 L143.33 858.5 L144.44 858.3 L145.56 858.0 L146.67 857.8 L147.78 857.5 L148.89 857.2 L150.00 857.0 L151.11 856.7 L152.22 856.5 L153.33 856.2 L154.44 855.9 L155.56 855.7 L156.67 855.4 L157.78 855.1 L158.89 854.9 L160.00 854.6 L161.11 854.3 L162.22 854.0 L163.33 853.8 L164.44 853.5 L165.56 853.2 L166.67 853.0 L167.78 852.7 L168.89 852.4 L170.00 852.1 L171.11 851.9 L172.22 851.6 L173.33 851.3 L174.44 851.0 L175.56 850.8 L176.67 850.5 L177.78 850.2 L178.89 850.0 L180.00 849.7 L181.11 849.4 L182.22 849.2 L183.33 848.9 L184.44 848.6 L185.56 848.4 L186.67 848.1 L187.78 847.9 L188.89 847.6 L190.00 847.3 L191.11 847.1 L192.22 846.8 L193.33 846.6 L194.44 846.4 L195.56 846.1 L196.67 845.9 L197.78 845.6 L198.89 845.4 L200.00 845.2 L201.11 844.9 L202.22 844.7 L203.33 844.5 L204.44 844.3 L205.56 844.0 L206.67 843.8 L207.78 843.6 L208.89 843.4 L210.00 843.2 L211.11 843.0 L212.22 842.8 L213.33 842.6 L214.44 842.3 L215.56 842.1 L216.67 841.9 L217.78 841.7 L218.89 841.5 L220.00 841.3 L221.11 841.1 L222.22 840.9 L223.33 840.7 L224.44 840.5 L225.56 840.3 L226.67 840.1 L227.78 839.9 L228.89 839.7 L230.00 839.5 L231.11 839.3 L232.22 839.0 L233.33 838.8 L234.44 838.6 L235.56 838.4 L236.67 838.2 L237.78 837.9 L238.89 837.7 L240.00 837.5 L241.11 837.3 L242.22 837.0 L243.33 836.8 L244.44 836.5 L245.56 836.3 L246.67 836.1 L247.78 835.8 L248.89 835.6 L250.00 835.3 L251.11 835.0 L252.22 834.8 L253.33 834.5 L254.44 834.3 L255.56 834.0 L256.67 833.7 L257.78 833.4 L258.89 833.2 L260.00 832.9 L261.11 832.6 L262.22 832.3 L263.33 832.0 L264.44 831.7 L265.56 831.4 L266.67 831.1 L267.78 830.8 L268.89 830.5 L270.00 830.2 L271.11 829.9 L272.22 829.6 L273.33 829.3 L274.44 829.0 L275.56 828.7 L276.67 828.4 L277.78 828.0 L278.89 827.7 L280.00 827.4 L281.11 827.1 L282.22 826.8 L283.33 826.4 L284.44 826.1 L285.56 825.8 L286.67 825.4 L287.78 825.1 L288.89 824.8 L290.00 824.4 L291.11 824.1 L292.22 823.8 L293.33 823.4 L294.44 823.1 L295.56 822.7 L296.67 822.4 L297.78 822.0 L298.89 821.7 L300.00 821.3 L301.11 821.0 L302.22 820.6 L303.33 820.3 L304.44 819.9 L305.56 819.5 L306.67 819.2 L307.78 818.8 L308.89 818.4 L310.00 818.1 L311.11 817.7 L312.22 817.3 L313.33 816.9 L314.44 816.5 L315.56 816.2 L316.67 815.8 L317.78 815.4 L318.89 815.0 L320.00 814.6 L321.11 814.2 L322.22 813.8 L323.33 813.3 L324.44 812.9 L325.56 812.5 L326.67 812.1 L327.78 811.7 L328.89 811.2 L330.00 810.8 L331.11 810.4 L332.22 809.9 L333.33 809.5 L334.44 809.0 L335.56 808.6 L336.67 808.1 L337.78 807.7 L338.89 807.2 L340.00 806.7 L341.11 806.2 L342.22 805.8 L343.33 805.3 L344.44 804.8 L345.56 804.3 L346.67 803.8 L347.78 803.3 L348.89 802.8 L350.00 802.4 L351.11 801.9 L352.22 801.4 L353.33 800.9 L354.44 800.3 L355.56 799.8 L356.67 799.3 L357.78 798.8 L358.89 798.3 L360.00 797.8 L361.11 797.3 L362.22 796.8 L363.33 796.3 L364.44 795.8 L365.56 795.3 L366.67 794.8 L367.78 794.3 L368.89 793.8 L370.00 793.3 L371.11 792.8 L372.22 792.3 L373.33 791.9 L374.44 791.4 L375.56 790.9 L376.67 790.4 L377.78 789.9 L378.89 789.4 L380.00 789.0 L381.11 788.5 L382.22 788.0 L383.33 787.5 L384.44 787.1 L385.56 786.6 L386.67 786.1 L387.78 785.7 L388.89 785.2 L390.00 784.7 L391.11 784.3 L392.22 783.8 L393.33 783.4 L394.44 782.9 L395.56 782.4 L396.67 782.0 L397.78 781.5 L398.89 781.0 L400.00 780.6 L401.11 780.1 L402.22 779.6 L403.33 779.2 L404.44 778.7 L405.56 778.2 L406.67 777.8 L407.78 777.3 L408.89 776.8 L410.00 776.4 L411.11 775.9 L412.22 775.4 L413.33 774.9 L414.44 774.5 L415.56 774.0 L416.67 773.5 L417.78 773.0 L418.89 772.6 L420.00 772.1 L421.11 771.6 L422.22 771.1 L423.33 770.6 L424.44 770.2 L425.56 769.7 L426.67 769.2 L427.78 768.7 L428.89 768.2 L430.00 767.7 L431.11 767.3 L432.22 766.8 L433.33 766.3 L434.44 765.8 L435.56 765.3 L436.67 764.8 L437.78 764.3 L438.89 763.8 L440.00 763.3 L441.11 762.8 L442.22 762.4 L443.33 761.9 L444.44 761.4 L445.56 760.9 L446.67 760.4 L447.78 759.8 L448.89 759.3 L450.00 758.8 L451.11 758.3 L452.22 757.8 L453.33 757.3 L454.44 756.8 L455.56 756.3 L456.67 755.7 L457.78 755.2 L458.89 754.7 L460.00 754.1 L461.11 753.6 L462.22 753.1 L463.33 752.5 L464.44 752.0 L465.56 751.4 L466.67 750.9 L467.78 750.3 L468.89 749.8 L470.00 749.2 L471.11 748.7 L472.22 748.1 L473.33 747.5 L474.44 746.9 L475.56 746.4 L476.67 745.8 L477.78 745.2 L478.89 744.6 L480.00 744.0 L481.11 743.4 L482.22 742.8 L483.33 742.2 L484.44 741.6 L485.56 741.0 L486.67 740.4 L487.78 739.8 L488.89 739.2 L490.00 738.5 L491.11 737.9 L492.22 737.3 L493.33 736.7 L494.44 736.0 L495.56 735.4 L496.67 734.8 L497.78 734.1 L498.89 733.5 L500.00 732.8 L501.11 732.2 L502.22 731.5 L503.33 730.9 L504.44 730.2 L505.56 729.5 L506.67 728.9 L507.78 728.2 L508.89 727.5 L510.00 726.9 L511.11 726.2 L512.22 725.5 L513.33 724.8 L514.44 724.1 L515.56 723.4 L516.67 722.8 L517.78 722.1 L518.89 721.4 L520.00 720.7 L521.11 720.0 L522.22 719.2 L523.33 718.5 L524.44 717.8 L525.56 717.1 L526.67 716.4 L527.78 715.7 L528.89 714.9 L530.00 714.2 L531.11 713.5 L532.22 712.7 L533.33 712.0 L534.44 711.2 L535.56 710.5 L536.67 709.7 L537.78 708.9 L538.89 708.2 L540.00 707.4 L541.11 706.6 L542.22 705.8 L543.33 705.0 L544.44 704.3 L545.56 703.5 L546.67 702.6 L547.78 701.8 L548.89 701.0 L550.00 700.2 L551.11 699.4 L552.22 698.5 L553.33 697.7 L554.44 696.8 L555.56 696.0 L556.67 695.1 L557.78 694.3 L558.89 693.4 L560.00 692.5 L561.11 691.6 L562.22 690.7 L563.33 689.8 L564.44 688.9 L565.56 688.0 L566.67 687.1 L567.78 686.2 L568.89 685.3 L570.00 684.3 L571.11 683.4 L572.22 682.4 L573.33 681.5 L574.44 680.6 L575.56 679.6 L576.67 678.6 L577.78 677.7 L578.89 676.7 L580.00 675.8 L581.11 674.8 L582.22 673.8 L583.33 672.8 L584.44 671.9 L585.56 670.9 L586.67 669.9 L587.78 668.9 L588.89 668.0 L590.00 667.0 L591.11 666.0 L592.22 665.0 L593.33 664.1 L594.44 663.1 L595.56 662.1 L596.67 661.1 L597.78 660.2 L598.89 659.2 L600.00 658.2 L601.11 657.3 L602.22 656.3 L603.33 655.3 L604.44 654.4 L605.56 653.4 L606.67 652.4 L607.78 651.5 L608.89 650.5 L610.00 649.6 L611.11 648.6 L612.22 647.7 L613.33 646.7 L614.44 645.8 L615.56 644.8 L616.67 643.9 L617.78 642.9 L618.89 642.0 L620.00 641.0 L621.11 640.1 L622.22 639.1 L623.33 638.2 L624.44 637.2 L625.56 636.3 L626.67 635.3 L627.78 634.4 L628.89 633.4 L630.00 632.4 L631.11 631.5 L632.22 630.5 L633.33 629.6 L634.44 628.6 L635.56 627.7 L636.67 626.7 L637.78 625.7 L638.89 624.8 L640.00 623.8 L641.11 622.8 L642.22 621.9 L643.33 620.9 L644.44 619.9 L645.56 618.9 L646.67 618.0 L647.78 617.0 L648.89 616.0 L650.00 615.0 L651.11 614.0 L652.22 613.0 L653.33 612.0 L654.44 611.0 L655.56 610.0 L656.67 609.0 L657.78 608.0 L658.89 607.0 L660.00 606.0 L661.11 605.0 L662.22 604.0 L663.33 603.0 L664.44 602.0 L665.56 601.0 L666.67 600.0 L667.78 598.9 L668.89 597.9 L670.00 596.9 L671.11 595.9 L672.22 594.8 L673.33 593.8 L674.44 592.8 L675.56 591.8 L676.67 590.7 L677.78 589.7 L678.89 588.7 L680.00 587.6 L681.11 586.6 L682.22 585.5 L683.33 584.5 L684.44 583.5 L685.56 582.4 L686.67 581.4 L687.78 580.3 L688.89 579.3 L690.00 578.2 L691.11 577.2 L692.22 576.1 L693.33 575.1 L694.44 574.0 L695.56 573.0 L696.67 571.9 L697.78 570.8 L698.89 569.8 L700.00 568.7 L701.11 567.7 L702.22 566.6 L703.33 565.5 L704.44 564.5 L705.56 563.4 L706.67 562.3 L707.78 561.3 L708.89 560.2 L710.00 559.1 L711.11 558.1 L712.22 557.0 L713.33 555.9 L714.44 554.9 L715.56 553.8 L716.67 552.7 L717.78 551.6 L718.89 550.6 L720.00 549.5 L721.11 548.4 L722.22 547.4 L723.33 546.3 L724.44 545.3 L725.56 544.2 L726.67 543.1 L727.78 542.1 L728.89 541.0 L730.00 540.0 L731.11 538.9 L732.22 537.9 L733.33 536.8 L734.44 535.7 L735.56 534.7 L736.67 533.6 L737.78 532.6 L738.89 531.6 L740.00 530.5 L741.11 529.5 L742.22 528.4 L743.33 527.4 L744.44 526.3 L745.56 525.3 L746.67 524.3 L747.78 523.2 L748.89 522.2 L750.00 521.2 L751.11 520.1 L752.22 519.1 L753.33 518.1 L754.44 517.1 L755.56 516.0 L756.67 515.0 L757.78 514.0 L758.89 513.0 L760.00 512.0 L761.11 510.9 L762.22 509.9 L763.33 508.9 L764.44 507.9 L765.56 506.9 L766.67 505.9 L767.78 504.9 L768.89 503.9 L770.00 502.8 L771.11 501.8 L772.22 500.8 L773.33 499.8 L774.44 498.8 L775.56 497.8 L776.67 496.8 L777.78 495.8 L778.89 494.8 L780.00 493.8 L781.11 492.8 L782.22 491.8 L783.33 490.8 L784.44 489.9 L785.56 488.9 L786.67 487.9 L787.78 486.9 L788.89 485.9 L790.00 484.9 L791.11 483.9 L792.22 482.9 L793.33 482.0 L794.44 481.0 L795.56 480.0 L796.67 479.0 L797.78 478.1 L798.89 477.1 L800.00 476.1 L801.11 475.1 L802.22 474.2 L803.33 473.2 L804.44 472.2 L805.56 471.3 L806.67 470.3 L807.78 469.3 L808.89 468.4 L810.00 467.4 L811.11 466.5 L812.22 465.5 L813.33 464.6 L814.44 463.6 L815.56 462.7 L816.67 461.7 L817.78 460.8 L818.89 459.8 L820.00 458.9 L821.11 458.0 L822.22 457.0 L823.33 456.1 L824.44 455.2 L825.56 454.2 L826.67 453.3 L827.78 452.4 L828.89 451.5 L830.00 450.6 L831.11 449.6 L832.22 448.7 L833.33 447.8 L834.44 446.9 L835.56 446.0 L836.67 445.1 L837.78 444.2 L838.89 443.3 L840.00 442.4 L841.11 441.5 L842.22 440.6 L843.33 439.7 L844.44 438.8 L845.56 437.9 L846.67 437.0 L847.78 436.1 L848.89 435.2 L850.00 434.3 L851.11 433.4 L852.22 432.5 L853.33 431.5 L854.44 430.6 L855.56 429.7 L856.67 428.8 L857.78 427.9 L858.89 427.0 L860.00 426.1 L861.11 425.2 L862.22 424.3 L863.33 423.4 L864.44 422.4 L865.56 421.5 L866.67 420.6 L867.78 419.7 L868.89 418.7 L870.00 417.8 L871.11 416.9 L872.22 415.9 L873.33 415.0 L874.44 414.1 L875.56 413.1 L876.67 412.2 L877.78 411.2 L878.89 410.3 L880.00 409.3 L881.11 408.4 L882.22 407.5 L883.33 406.5 L884.44 405.6 L885.56 404.6 L886.67 403.7 L887.78 402.7 L888.89 401.8 L890.00 400.8 L891.11 399.9 L892.22 399.0 L893.33 398.0 L894.44 397.1 L895.56 396.2 L896.67 395.2 L897.78 394.3 L898.89 393.4 L900.00 392.5 L901.11 391.6 L902.22 390.7 L903.33 389.8 L904.44 388.9 L905.56 388.0 L906.67 387.2 L907.78 386.3 L908.89 385.4 L910.00 384.6 L911.11 383.7 L912.22 382.9 L913.33 382.0 L914.44 381.2 L915.56 380.4 L916.67 379.5 L917.78 378.7 L918.89 377.9 L920.00 377.1 L921.11 376.3 L922.22 375.5 L923.33 374.8 L924.44 374.0 L925.56 373.2 L926.67 372.4 L927.78 371.7 L928.89 370.9 L930.00 370.2 L931.11 369.4 L932.22 368.7 L933.33 368.0 L934.44 367.2 L935.56 366.5 L936.67 365.8 L937.78 365.0 L938.89 364.3 L940.00 363.6 L941.11 362.9 L942.22 362.2 L943.33 361.5 L944.44 360.7 L945.56 360.0 L946.67 359.3 L947.78 358.6 L948.89 357.9 L950.00 357.2 L951.11 356.5 L952.22 355.8 L953.33 355.1 L954.44 354.4 L955.56 353.7 L956.67 353.0 L957.78 352.3 L958.89 351.6 L960.00 350.9 L961.11 350.2 L962.22 349.5 L963.33 348.8 L964.44 348.1 L965.56 347.4 L966.67 346.7 L967.78 346.0 L968.89 345.3 L970.00 344.6 L971.11 343.9 L972.22 343.2 L973.33 342.5 L974.44 341.8 L975.56 341.1 L976.67 340.4 L977.78 339.7 L978.89 339.0 L980.00 338.3 L981.11 337.6 L982.22 336.9 L983.33 336.2 L984.44 335.5 L985.56 334.8 L986.67 334.1 L987.78 333.4 L988.89 332.7 L990.00 332.1 L991.11 331.4 L992.22 330.7 L993.33 330.0 L994.44 329.3 L995.56 328.6 L996.67 327.9 L997.78 327.2 L998.89 326.5 L1000.00 325.8 L1001.11 325.2 L1002.22 324.5 L1003.33 323.8 L1004.44 323.1 L1005.56 322.4 L1006.67 321.7 L1007.78 321.0 L1008.89 320.4 L1010.00 319.7 L1011.11 319.0 L1012.22 318.3 L1013.33 317.6 L1014.44 316.9 L1015.56 316.3 L1016.67 315.6 L1017.78 314.9 L1018.89 314.2 L1020.00 313.5 L1021.11 312.9 L1022.22 312.2 L1023.33 311.5 L1024.44 310.9 L1025.56 310.2 L1026.67 309.5 L1027.78 308.8 L1028.89 308.2 L1030.00 307.5 L1031.11 306.8 L1032.22 306.2 L1033.33 305.5 L1034.44 304.9 L1035.56 304.2 L1036.67 303.5 L1037.78 302.9 L1038.89 302.2 L1040.00 301.6 L1041.11 300.9 L1042.22 300.3 L1043.33 299.6 L1044.44 299.0 L1045.56 298.4 L1046.67 297.7 L1047.78 297.1 L1048.89 296.5 L1050.00 295.8 L1051.11 295.2 L1052.22 294.6 L1053.33 293.9 L1054.44 293.3 L1055.56 292.7 L1056.67 292.1 L1057.78 291.4 L1058.89 290.8 L1060.00 290.2 L1061.11 289.6 L1062.22 289.0 L1063.33 288.4 L1064.44 287.8 L1065.56 287.2 L1066.67 286.6 L1067.78 285.9 L1068.89 285.3 L1070.00 284.7 L1071.11 284.1 L1072.22 283.6 L1073.33 283.0 L1074.44 282.4 L1075.56 281.8 L1076.67 281.2 L1077.78 280.6 L1078.89 280.0 L1080.00 279.4 L1081.11 278.8 L1082.22 278.2 L1083.33 277.7 L1084.44 277.1 L1085.56 276.5 L1086.67 275.9 L1087.78 275.3 L1088.89 274.7 L1090.00 274.2 L1091.11 273.6 L1092.22 273.0" fill="none" stroke="#fe0a17" stroke-width="7" stroke-linejoin="round" stroke-linecap="round" stroke-dasharray="2.80 13.20" stroke-dashoffset="1.56"/></g>
<path d="M99.0 866.0 L100.0 865.8 L101.0 865.5 L102.0 865.3 L103.0 865.0 L104.0 864.8 L105.0 864.5 L106.0 864.3 L107.0 864.0 L108.0 863.8 L109.0 863.6 L110.0 863.3 L111.0 863.1 L112.0 862.8 L113.0 862.6 L114.0 862.3 L115.0 862.1 L116.0 861.8 L117.0 861.6 L118.0 861.3 L119.0 861.1 L120.0 860.8 L121.0 860.6 L122.0 860.3 L123.0 860.1 L124.0 859.8 L125.0 859.6 L126.0 859.3 L127.0 859.1 L128.0 858.8 L129.0 858.6 L130.0 858.3 L131.0 858.0 L132.0 857.8 L133.0 857.5 L134.0 857.3 L135.0 857.0 L136.0 856.7 L137.0 856.5 L138.0 856.2 L139.0 856.0 L140.0 855.7 L141.0 855.4 L142.0 855.2 L143.0 854.9 L144.0 854.6 L145.0 854.4 L146.0 854.1 L147.0 853.8 L148.0 853.6 L149.0 853.3 L150.0 853.0 L151.0 852.8 L152.0 852.5 L153.0 852.2 L154.0 851.9 L155.0 851.7 L156.0 851.4 L157.0 851.1 L158.0 850.9 L159.0 850.6 L160.0 850.3 L161.0 850.0 L162.0 849.8 L163.0 849.5 L164.0 849.2 L165.0 849.0 L166.0 848.7 L167.0 848.4 L168.0 848.1 L169.0 847.9 L170.0 847.6 L171.0 847.3 L172.0 847.1 L173.0 846.8 L174.0 846.5 L175.0 846.3 L176.0 846.0 L177.0 845.8 L178.0 845.5 L179.0 845.2 L180.0 845.0 L181.0 844.7 L182.0 844.5 L183.0 844.2 L184.0 844.0 L185.0 843.7 L186.0 843.5 L187.0 843.2 L188.0 843.0 L189.0 842.7 L190.0 842.5 L191.0 842.2 L192.0 842.0 L193.0 841.7 L194.0 841.5 L195.0 841.2 L196.0 841.0 L197.0 840.7 L198.0 840.5 L199.0 840.2 L200.0 839.9 L201.0 839.7 L202.0 839.4 L203.0 839.2 L204.0 838.9 L205.0 838.7 L206.0 838.4 L207.0 838.1 L208.0 837.9 L209.0 837.6 L210.0 837.3 L211.0 837.0 L212.0 836.8 L213.0 836.5 L214.0 836.2 L215.0 835.9 L216.0 835.6 L217.0 835.3 L218.0 835.0 L219.0 834.7 L220.0 834.4 L221.0 834.1 L222.0 833.8 L223.0 833.5 L224.0 833.2 L225.0 832.9 L226.0 832.5 L227.0 832.2 L228.0 831.9 L229.0 831.6 L230.0 831.2 L231.0 830.9 L232.0 830.5 L233.0 830.2 L234.0 829.9 L235.0 829.5 L236.0 829.2 L237.0 828.8 L238.0 828.5 L239.0 828.1 L240.0 827.7 L241.0 827.4 L242.0 827.0 L243.0 826.7 L244.0 826.3 L245.0 826.0 L246.0 825.6 L247.0 825.2 L248.0 824.9 L249.0 824.5 L250.0 824.2 L251.0 823.8 L252.0 823.4 L253.0 823.1 L254.0 822.7 L255.0 822.4 L256.0 822.0 L257.0 821.7 L258.0 821.3 L259.0 821.0 L260.0 820.6 L261.0 820.3 L262.0 819.9 L263.0 819.6 L264.0 819.3 L265.0 818.9 L266.0 818.6 L267.0 818.2 L268.0 817.9 L269.0 817.6 L270.0 817.2 L271.0 816.9 L272.0 816.6 L273.0 816.2 L274.0 815.9 L275.0 815.6 L276.0 815.3 L277.0 814.9 L278.0 814.6 L279.0 814.3 L280.0 814.0 L281.0 813.6 L282.0 813.3 L283.0 813.0 L284.0 812.6 L285.0 812.3 L286.0 812.0 L287.0 811.7 L288.0 811.3 L289.0 811.0 L290.0 810.7 L291.0 810.3 L292.0 810.0 L293.0 809.7 L294.0 809.3 L295.0 809.0 L296.0 808.7 L297.0 808.3 L298.0 808.0 L299.0 807.6 L300.0 807.3 L301.0 807.0 L302.0 806.6 L303.0 806.3 L304.0 805.9 L305.0 805.6 L306.0 805.2 L307.0 804.9 L308.0 804.5 L309.0 804.2 L310.0 803.8 L311.0 803.4 L312.0 803.1 L313.0 802.7 L314.0 802.4 L315.0 802.0 L316.0 801.6 L317.0 801.3 L318.0 800.9 L319.0 800.6 L320.0 800.2 L321.0 799.8 L322.0 799.5 L323.0 799.1 L324.0 798.7 L325.0 798.4 L326.0 798.0 L327.0 797.6 L328.0 797.3 L329.0 796.9 L330.0 796.5 L331.0 796.2 L332.0 795.8 L333.0 795.4 L334.0 795.1 L335.0 794.7 L336.0 794.3 L337.0 794.0 L338.0 793.6 L339.0 793.3 L340.0 792.9 L341.0 792.5 L342.0 792.2 L343.0 791.8 L344.0 791.5 L345.0 791.1 L346.0 790.7 L347.0 790.4 L348.0 790.0 L349.0 789.7 L350.0 789.3 L351.0 788.9 L352.0 788.6 L353.0 788.2 L354.0 787.9 L355.0 787.5 L356.0 787.2 L357.0 786.8 L358.0 786.4 L359.0 786.1 L360.0 785.7 L361.0 785.4 L362.0 785.0 L363.0 784.7 L364.0 784.3 L365.0 784.0 L366.0 783.6 L367.0 783.3 L368.0 782.9 L369.0 782.6 L370.0 782.2 L371.0 781.9 L372.0 781.5 L373.0 781.1 L374.0 780.8 L375.0 780.4 L376.0 780.1 L377.0 779.7 L378.0 779.4 L379.0 779.0 L380.0 778.7 L381.0 778.3 L382.0 778.0 L383.0 777.6 L384.0 777.3 L385.0 776.9 L386.0 776.6 L387.0 776.2 L388.0 775.9 L389.0 775.5 L390.0 775.2 L391.0 774.8 L392.0 774.5 L393.0 774.1 L394.0 773.8 L395.0 773.4 L396.0 773.1 L397.0 772.7 L398.0 772.4 L399.0 772.0 L400.0 771.7 L401.0 771.3 L402.0 770.9 L403.0 770.6 L404.0 770.2 L405.0 769.9 L406.0 769.5 L407.0 769.2 L408.0 768.8 L409.0 768.5 L410.0 768.1 L411.0 767.7 L412.0 767.4 L413.0 767.0 L414.0 766.7 L415.0 766.3 L416.0 766.0 L417.0 765.6 L418.0 765.3 L419.0 764.9 L420.0 764.5 L421.0 764.2 L422.0 763.8 L423.0 763.5 L424.0 763.1 L425.0 762.7 L426.0 762.4 L427.0 762.0 L428.0 761.7 L429.0 761.3 L430.0 760.9 L431.0 760.6 L432.0 760.2 L433.0 759.9 L434.0 759.5 L435.0 759.1 L436.0 758.8 L437.0 758.4 L438.0 758.0 L439.0 757.7 L440.0 757.3 L441.0 757.0 L442.0 756.6 L443.0 756.2 L444.0 755.9 L445.0 755.5 L446.0 755.1 L447.0 754.8 L448.0 754.4 L449.0 754.0 L450.0 753.7 L451.0 753.3 L452.0 752.9 L453.0 752.6 L454.0 752.2 L455.0 751.9 L456.0 751.5 L457.0 751.1 L458.0 750.8 L459.0 750.4 L460.0 750.0 L461.0 749.7 L462.0 749.3 L463.0 748.9 L464.0 748.6 L465.0 748.2 L466.0 747.8 L467.0 747.5 L468.0 747.1 L469.0 746.7 L470.0 746.4 L471.0 746.0 L472.0 745.6 L473.0 745.3 L474.0 744.9 L475.0 744.5 L476.0 744.1 L477.0 743.8 L478.0 743.4 L479.0 743.0 L480.0 742.7 L481.0 742.3 L482.0 741.9 L483.0 741.6 L484.0 741.2 L485.0 740.8 L486.0 740.5 L487.0 740.1 L488.0 739.7 L489.0 739.4 L490.0 739.0 L491.0 738.6 L492.0 738.2 L493.0 737.9 L494.0 737.5 L495.0 737.1 L496.0 736.8 L497.0 736.4 L498.0 736.0 L499.0 735.6 L500.0 735.3 L501.0 734.9 L502.0 734.5 L503.0 734.2 L504.0 733.8 L505.0 733.4 L506.0 733.0 L507.0 732.7 L508.0 732.3 L509.0 731.9 L510.0 731.5 L511.0 731.2 L512.0 730.8 L513.0 730.4 L514.0 730.0 L515.0 729.7 L516.0 729.3 L517.0 728.9 L518.0 728.5 L519.0 728.2 L520.0 727.8 L521.0 727.4 L522.0 727.0 L523.0 726.6 L524.0 726.3 L525.0 725.9 L526.0 725.5 L527.0 725.1 L528.0 724.8 L529.0 724.4 L530.0 724.0 L531.0 723.6 L532.0 723.2 L533.0 722.9 L534.0 722.5 L535.0 722.1 L536.0 721.7 L537.0 721.4 L538.0 721.0 L539.0 720.6 L540.0 720.2 L541.0 719.8 L542.0 719.5 L543.0 719.1 L544.0 718.7 L545.0 718.3 L546.0 718.0 L547.0 717.6 L548.0 717.2 L549.0 716.8 L550.0 716.5 L551.0 716.1 L552.0 715.7 L553.0 715.3 L554.0 715.0 L555.0 714.6 L556.0 714.2 L557.0 713.8 L558.0 713.5 L559.0 713.1 L560.0 712.7 L561.0 712.4 L562.0 712.0 L563.0 711.6 L564.0 711.3 L565.0 710.9 L566.0 710.5 L567.0 710.2 L568.0 709.8 L569.0 709.4 L570.0 709.1 L571.0 708.7 L572.0 708.4 L573.0 708.0 L574.0 707.6 L575.0 707.3 L576.0 706.9 L577.0 706.6 L578.0 706.2 L579.0 705.9 L580.0 705.5 L581.0 705.2 L582.0 704.8 L583.0 704.5 L584.0 704.1 L585.0 703.8 L586.0 703.4 L587.0 703.1 L588.0 702.7 L589.0 702.4 L590.0 702.0 L591.0 701.7 L592.0 701.4 L593.0 701.0 L594.0 700.7 L595.0 700.3 L596.0 700.0 L597.0 699.7 L598.0 699.3 L599.0 699.0 L600.0 698.6 L601.0 698.3 L602.0 698.0 L603.0 697.6 L604.0 697.3 L605.0 697.0 L606.0 696.6 L607.0 696.3 L608.0 696.0 L609.0 695.6 L610.0 695.3 L611.0 695.0 L612.0 694.6 L613.0 694.3 L614.0 694.0 L615.0 693.6 L616.0 693.3 L617.0 693.0 L618.0 692.6 L619.0 692.3 L620.0 692.0 L621.0 691.6 L622.0 691.3 L623.0 691.0 L624.0 690.6 L625.0 690.3 L626.0 690.0 L627.0 689.6 L628.0 689.3 L629.0 688.9 L630.0 688.6 L631.0 688.3 L632.0 687.9 L633.0 687.6 L634.0 687.3 L635.0 686.9 L636.0 686.6 L637.0 686.3 L638.0 685.9 L639.0 685.6 L640.0 685.3 L641.0 684.9 L642.0 684.6 L643.0 684.3 L644.0 683.9 L645.0 683.6 L646.0 683.2 L647.0 682.9 L648.0 682.6 L649.0 682.2 L650.0 681.9 L651.0 681.5 L652.0 681.2 L653.0 680.9 L654.0 680.5 L655.0 680.2 L656.0 679.8 L657.0 679.5 L658.0 679.1 L659.0 678.8 L660.0 678.5 L661.0 678.1 L662.0 677.8 L663.0 677.4 L664.0 677.1 L665.0 676.7 L666.0 676.4 L667.0 676.0 L668.0 675.7 L669.0 675.3 L670.0 674.9 L671.0 674.6 L672.0 674.2 L673.0 673.9 L674.0 673.5 L675.0 673.2 L676.0 672.8 L677.0 672.4 L678.0 672.1 L679.0 671.7 L680.0 671.4 L681.0 671.0 L682.0 670.6 L683.0 670.3 L684.0 669.9 L685.0 669.6 L686.0 669.2 L687.0 668.8 L688.0 668.5 L689.0 668.1 L690.0 667.8 L691.0 667.4 L692.0 667.0 L693.0 666.7 L694.0 666.3 L695.0 665.9 L696.0 665.6 L697.0 665.2 L698.0 664.8 L699.0 664.5 L700.0 664.1 L701.0 663.7 L702.0 663.4 L703.0 663.0 L704.0 662.6 L705.0 662.3 L706.0 661.9 L707.0 661.5 L708.0 661.2 L709.0 660.8 L710.0 660.5 L711.0 660.1 L712.0 659.7 L713.0 659.4 L714.0 659.0 L715.0 658.6 L716.0 658.3 L717.0 657.9 L718.0 657.5 L719.0 657.2 L720.0 656.8 L721.0 656.5 L722.0 656.1 L723.0 655.7 L724.0 655.4 L725.0 655.0 L726.0 654.7 L727.0 654.3 L728.0 654.0 L729.0 653.6 L730.0 653.2 L731.0 652.9 L732.0 652.5 L733.0 652.2 L734.0 651.9 L735.0 651.5 L736.0 651.2 L737.0 650.8 L738.0 650.5 L739.0 650.1 L740.0 649.8 L741.0 649.5 L742.0 649.1 L743.0 648.8 L744.0 648.5 L745.0 648.1 L746.0 647.8 L747.0 647.5 L748.0 647.2 L749.0 646.8 L750.0 646.5 L751.0 646.2 L752.0 645.9 L753.0 645.6 L754.0 645.2 L755.0 644.9 L756.0 644.6 L757.0 644.3 L758.0 644.0 L759.0 643.7 L760.0 643.4 L761.0 643.1 L762.0 642.8 L763.0 642.5 L764.0 642.2 L765.0 641.9 L766.0 641.6 L767.0 641.3 L768.0 641.0 L769.0 640.8 L770.0 640.5 L771.0 640.2 L772.0 639.9 L773.0 639.6 L774.0 639.4 L775.0 639.1 L776.0 638.8 L777.0 638.6 L778.0 638.3 L779.0 638.0 L780.0 637.8 L781.0 637.5 L782.0 637.3 L783.0 637.0 L784.0 636.8 L785.0 636.5 L786.0 636.3 L787.0 636.0 L788.0 635.8 L789.0 635.6 L790.0 635.3 L791.0 635.1 L792.0 634.9 L793.0 634.6 L794.0 634.4 L795.0 634.2 L796.0 633.9 L797.0 633.7 L798.0 633.5 L799.0 633.3 L800.0 633.1 L801.0 632.8 L802.0 632.6 L803.0 632.4 L804.0 632.2 L805.0 632.0 L806.0 631.8 L807.0 631.6 L808.0 631.3 L809.0 631.1 L810.0 630.9 L811.0 630.7 L812.0 630.5 L813.0 630.3 L814.0 630.1 L815.0 629.9 L816.0 629.7 L817.0 629.5 L818.0 629.3 L819.0 629.1 L820.0 628.9 L821.0 628.7 L822.0 628.5 L823.0 628.3 L824.0 628.1 L825.0 627.9 L826.0 627.7 L827.0 627.5 L828.0 627.3 L829.0 627.1 L830.0 626.8 L831.0 626.6 L832.0 626.4 L833.0 626.2 L834.0 626.0 L835.0 625.8 L836.0 625.7 L837.0 625.5 L838.0 625.3 L839.0 625.1 L840.0 624.9 L841.0 624.7 L842.0 624.5 L843.0 624.3 L844.0 624.1 L845.0 623.9 L846.0 623.7 L847.0 623.5 L848.0 623.3 L849.0 623.1 L850.0 622.9 L851.0 622.7 L852.0 622.5 L853.0 622.3 L854.0 622.1 L855.0 622.0 L856.0 621.8 L857.0 621.6 L858.0 621.4 L859.0 621.2 L860.0 621.0 L861.0 620.8 L862.0 620.6 L863.0 620.4 L864.0 620.3 L865.0 620.1 L866.0 619.9 L867.0 619.7 L868.0 619.5 L869.0 619.3 L870.0 619.2 L871.0 619.0 L872.0 618.8 L873.0 618.6 L874.0 618.4 L875.0 618.2 L876.0 618.1 L877.0 617.9 L878.0 617.7 L879.0 617.5 L880.0 617.4 L881.0 617.2 L882.0 617.0 L883.0 616.8 L884.0 616.7 L885.0 616.5 L886.0 616.3 L887.0 616.1 L888.0 616.0 L889.0 615.8 L890.0 615.6 L891.0 615.5 L892.0 615.3 L893.0 615.1 L894.0 615.0 L895.0 614.8 L896.0 614.7 L897.0 614.5 L898.0 614.3 L899.0 614.2 L900.0 614.0 L901.0 613.9 L902.0 613.7 L903.0 613.5 L904.0 613.4 L905.0 613.2 L906.0 613.1 L907.0 612.9 L908.0 612.8 L909.0 612.6 L910.0 612.5 L911.0 612.3 L912.0 612.2 L913.0 612.0 L914.0 611.9 L915.0 611.7 L916.0 611.6 L917.0 611.5 L918.0 611.3 L919.0 611.2 L920.0 611.0 L921.0 610.9 L922.0 610.7 L923.0 610.6 L924.0 610.5 L925.0 610.3 L926.0 610.2 L927.0 610.1 L928.0 609.9 L929.0 609.8 L930.0 609.7 L931.0 609.5 L932.0 609.4 L933.0 609.3 L934.0 609.2 L935.0 609.0 L936.0 608.9 L937.0 608.8 L938.0 608.7 L939.0 608.5 L940.0 608.4 L941.0 608.3 L942.0 608.2 L943.0 608.1 L944.0 608.0 L945.0 607.8 L946.0 607.7 L947.0 607.6 L948.0 607.5 L949.0 607.4 L950.0 607.3 L951.0 607.2 L952.0 607.0 L953.0 606.9 L954.0 606.8 L955.0 606.7 L956.0 606.6 L957.0 606.5 L958.0 606.4 L959.0 606.3 L960.0 606.2 L961.0 606.1 L962.0 606.0 L963.0 605.9 L964.0 605.8 L965.0 605.7 L966.0 605.6 L967.0 605.5 L968.0 605.4 L969.0 605.3 L970.0 605.2 L971.0 605.1 L972.0 605.0 L973.0 604.9 L974.0 604.8 L975.0 604.7 L976.0 604.6 L977.0 604.6 L978.0 604.5 L979.0 604.4 L980.0 604.3 L981.0 604.2 L982.0 604.1 L983.0 604.0" fill="none" stroke="#00964a" stroke-width="6" stroke-linejoin="round"/>
<path d="M99.0 866.0 L100.0 865.7 L101.0 865.5 L102.0 865.2 L103.0 864.9 L104.0 864.6 L105.0 864.4 L106.0 864.1 L107.0 863.8 L108.0 863.6 L109.0 863.3 L110.0 863.0 L111.0 862.7 L112.0 862.5 L113.0 862.2 L114.0 861.9 L115.0 861.7 L116.0 861.4 L117.0 861.1 L118.0 860.8 L119.0 860.6 L120.0 860.3 L121.0 860.0 L122.0 859.7 L123.0 859.5 L124.0 859.2 L125.0 858.9 L126.0 858.6 L127.0 858.4 L128.0 858.1 L129.0 857.8 L130.0 857.5 L131.0 857.3 L132.0 857.0 L133.0 856.7 L134.0 856.4 L135.0 856.1 L136.0 855.9 L137.0 855.6 L138.0 855.3 L139.0 855.0 L140.0 854.8 L141.0 854.5 L142.0 854.2 L143.0 853.9 L144.0 853.6 L145.0 853.4 L146.0 853.1 L147.0 852.8 L148.0 852.5 L149.0 852.2 L150.0 851.9 L151.0 851.7 L152.0 851.4 L153.0 851.1 L154.0 850.8 L155.0 850.5 L156.0 850.2 L157.0 850.0 L158.0 849.7 L159.0 849.4 L160.0 849.1 L161.0 848.8 L162.0 848.5 L163.0 848.2 L164.0 848.0 L165.0 847.7 L166.0 847.4 L167.0 847.1 L168.0 846.8 L169.0 846.5 L170.0 846.2 L171.0 845.9 L172.0 845.6 L173.0 845.3 L174.0 845.0 L175.0 844.7 L176.0 844.4 L177.0 844.1 L178.0 843.8 L179.0 843.5 L180.0 843.2 L181.0 842.9 L182.0 842.6 L183.0 842.3 L184.0 842.0 L185.0 841.7 L186.0 841.4 L187.0 841.1 L188.0 840.8 L189.0 840.5 L190.0 840.2 L191.0 839.9 L192.0 839.5 L193.0 839.2 L194.0 838.9 L195.0 838.6 L196.0 838.3 L197.0 838.0 L198.0 837.6 L199.0 837.3 L200.0 837.0 L201.0 836.7 L202.0 836.3 L203.0 836.0 L204.0 835.7 L205.0 835.3 L206.0 835.0 L207.0 834.7 L208.0 834.3 L209.0 834.0 L210.0 833.6 L211.0 833.3 L212.0 832.9 L213.0 832.6 L214.0 832.2 L215.0 831.8 L216.0 831.5 L217.0 831.1 L218.0 830.7 L219.0 830.4 L220.0 830.0 L221.0 829.6 L222.0 829.2 L223.0 828.9 L224.0 828.5 L225.0 828.1 L226.0 827.7 L227.0 827.3 L228.0 826.9 L229.0 826.5 L230.0 826.1 L231.0 825.7 L232.0 825.3 L233.0 824.9 L234.0 824.4 L235.0 824.0 L236.0 823.6 L237.0 823.2 L238.0 822.8 L239.0 822.3 L240.0 821.9 L241.0 821.5 L242.0 821.1 L243.0 820.6 L244.0 820.2 L245.0 819.8 L246.0 819.3 L247.0 818.9 L248.0 818.5 L249.0 818.0 L250.0 817.6 L251.0 817.2 L252.0 816.7 L253.0 816.3 L254.0 815.8 L255.0 815.4 L256.0 815.0 L257.0 814.5 L258.0 814.1 L259.0 813.6 L260.0 813.2 L261.0 812.7 L262.0 812.3 L263.0 811.9 L264.0 811.4 L265.0 811.0 L266.0 810.5 L267.0 810.1 L268.0 809.6 L269.0 809.2 L270.0 808.8 L271.0 808.3 L272.0 807.9 L273.0 807.4 L274.0 807.0 L275.0 806.5 L276.0 806.1 L277.0 805.7 L278.0 805.2 L279.0 804.8 L280.0 804.3 L281.0 803.9 L282.0 803.4 L283.0 803.0 L284.0 802.6 L285.0 802.1 L286.0 801.7 L287.0 801.2 L288.0 800.8 L289.0 800.3 L290.0 799.9 L291.0 799.5 L292.0 799.0 L293.0 798.6 L294.0 798.1 L295.0 797.7 L296.0 797.3 L297.0 796.8 L298.0 796.4 L299.0 796.0 L300.0 795.5 L301.0 795.1 L302.0 794.7 L303.0 794.2 L304.0 793.8 L305.0 793.4 L306.0 792.9 L307.0 792.5 L308.0 792.1 L309.0 791.6 L310.0 791.2 L311.0 790.8 L312.0 790.3 L313.0 789.9 L314.0 789.5 L315.0 789.0 L316.0 788.6 L317.0 788.2 L318.0 787.7 L319.0 787.3 L320.0 786.9 L321.0 786.5 L322.0 786.0 L323.0 785.6 L324.0 785.2 L325.0 784.7 L326.0 784.3 L327.0 783.9 L328.0 783.5 L329.0 783.0 L330.0 782.6 L331.0 782.2 L332.0 781.7 L333.0 781.3 L334.0 780.9 L335.0 780.5 L336.0 780.0 L337.0 779.6 L338.0 779.2 L339.0 778.7 L340.0 778.3 L341.0 777.9 L342.0 777.4 L343.0 777.0 L344.0 776.6 L345.0 776.1 L346.0 775.7 L347.0 775.3 L348.0 774.9 L349.0 774.4 L350.0 774.0 L351.0 773.6 L352.0 773.1 L353.0 772.7 L354.0 772.3 L355.0 771.8 L356.0 771.4 L357.0 770.9 L358.0 770.5 L359.0 770.1 L360.0 769.6 L361.0 769.2 L362.0 768.8 L363.0 768.3 L364.0 767.9 L365.0 767.5 L366.0 767.0 L367.0 766.6 L368.0 766.2 L369.0 765.7 L370.0 765.3 L371.0 764.8 L372.0 764.4 L373.0 764.0 L374.0 763.5 L375.0 763.1 L376.0 762.7 L377.0 762.2 L378.0 761.8 L379.0 761.3 L380.0 760.9 L381.0 760.5 L382.0 760.0 L383.0 759.6 L384.0 759.2 L385.0 758.7 L386.0 758.3 L387.0 757.9 L388.0 757.4 L389.0 757.0 L390.0 756.5 L391.0 756.1 L392.0 755.7 L393.0 755.2 L394.0 754.8 L395.0 754.4 L396.0 753.9 L397.0 753.5 L398.0 753.1 L399.0 752.6 L400.0 752.2 L401.0 751.7 L402.0 751.3 L403.0 750.9 L404.0 750.4 L405.0 750.0 L406.0 749.6 L407.0 749.1 L408.0 748.7 L409.0 748.3 L410.0 747.8 L411.0 747.4 L412.0 747.0 L413.0 746.5 L414.0 746.1 L415.0 745.7 L416.0 745.3 L417.0 744.8 L418.0 744.4 L419.0 744.0 L420.0 743.5 L421.0 743.1 L422.0 742.7 L423.0 742.2 L424.0 741.8 L425.0 741.4 L426.0 741.0 L427.0 740.5 L428.0 740.1 L429.0 739.7 L430.0 739.2 L431.0 738.8 L432.0 738.4 L433.0 738.0 L434.0 737.5 L435.0 737.1 L436.0 736.7 L437.0 736.3 L438.0 735.8 L439.0 735.4 L440.0 735.0 L441.0 734.6 L442.0 734.1 L443.0 733.7 L444.0 733.3 L445.0 732.9 L446.0 732.4 L447.0 732.0 L448.0 731.6 L449.0 731.2 L450.0 730.7 L451.0 730.3 L452.0 729.9 L453.0 729.5 L454.0 729.0 L455.0 728.6 L456.0 728.2 L457.0 727.8 L458.0 727.3 L459.0 726.9 L460.0 726.5 L461.0 726.1 L462.0 725.7 L463.0 725.2 L464.0 724.8 L465.0 724.4 L466.0 724.0 L467.0 723.5 L468.0 723.1 L469.0 722.7 L470.0 722.3 L471.0 721.8 L472.0 721.4 L473.0 721.0 L474.0 720.6 L475.0 720.1 L476.0 719.7 L477.0 719.3 L478.0 718.9 L479.0 718.4 L480.0 718.0 L481.0 717.6 L482.0 717.2 L483.0 716.7 L484.0 716.3 L485.0 715.9 L486.0 715.4 L487.0 715.0 L488.0 714.6 L489.0 714.2 L490.0 713.7 L491.0 713.3 L492.0 712.9 L493.0 712.4 L494.0 712.0 L495.0 711.6 L496.0 711.1 L497.0 710.7 L498.0 710.3 L499.0 709.8 L500.0 709.4 L501.0 709.0 L502.0 708.5 L503.0 708.1 L504.0 707.6 L505.0 707.2 L506.0 706.8 L507.0 706.3 L508.0 705.9 L509.0 705.5 L510.0 705.0 L511.0 704.6 L512.0 704.1 L513.0 703.7 L514.0 703.2 L515.0 702.8 L516.0 702.4 L517.0 701.9 L518.0 701.5 L519.0 701.0 L520.0 700.6 L521.0 700.1 L522.0 699.7 L523.0 699.2 L524.0 698.8 L525.0 698.3 L526.0 697.9 L527.0 697.4 L528.0 697.0 L529.0 696.6 L530.0 696.1 L531.0 695.7 L532.0 695.2 L533.0 694.8 L534.0 694.3 L535.0 693.9 L536.0 693.4 L537.0 693.0 L538.0 692.5 L539.0 692.1 L540.0 691.6 L541.0 691.2 L542.0 690.7 L543.0 690.3 L544.0 689.8 L545.0 689.4 L546.0 688.9 L547.0 688.5 L548.0 688.0 L549.0 687.6 L550.0 687.1 L551.0 686.7 L552.0 686.3 L553.0 685.8 L554.0 685.4 L555.0 684.9 L556.0 684.5 L557.0 684.0 L558.0 683.6 L559.0 683.2 L560.0 682.7 L561.0 682.3 L562.0 681.8 L563.0 681.4 L564.0 681.0 L565.0 680.5 L566.0 680.1 L567.0 679.7 L568.0 679.2 L569.0 678.8 L570.0 678.4 L571.0 677.9 L572.0 677.5 L573.0 677.1 L574.0 676.6 L575.0 676.2 L576.0 675.8 L577.0 675.4 L578.0 674.9 L579.0 674.5 L580.0 674.1 L581.0 673.7 L582.0 673.3 L583.0 672.8 L584.0 672.4 L585.0 672.0 L586.0 671.6 L587.0 671.2 L588.0 670.8 L589.0 670.3 L590.0 669.9 L591.0 669.5 L592.0 669.1 L593.0 668.7 L594.0 668.3 L595.0 667.9 L596.0 667.5 L597.0 667.1 L598.0 666.7 L599.0 666.3 L600.0 665.9 L601.0 665.4 L602.0 665.0 L603.0 664.6 L604.0 664.2 L605.0 663.8 L606.0 663.4 L607.0 663.0 L608.0 662.6 L609.0 662.2 L610.0 661.8 L611.0 661.4 L612.0 661.0 L613.0 660.6 L614.0 660.3 L615.0 659.9 L616.0 659.5 L617.0 659.1 L618.0 658.7 L619.0 658.3 L620.0 657.9 L621.0 657.5 L622.0 657.1 L623.0 656.7 L624.0 656.3 L625.0 655.9 L626.0 655.5 L627.0 655.1 L628.0 654.7 L629.0 654.3 L630.0 653.9 L631.0 653.5 L632.0 653.2 L633.0 652.8 L634.0 652.4 L635.0 652.0 L636.0 651.6 L637.0 651.2 L638.0 650.8 L639.0 650.4 L640.0 650.0 L641.0 649.6 L642.0 649.2 L643.0 648.8 L644.0 648.4 L645.0 648.0 L646.0 647.6 L647.0 647.2 L648.0 646.9 L649.0 646.5 L650.0 646.1 L651.0 645.7 L652.0 645.3 L653.0 644.9 L654.0 644.5 L655.0 644.1 L656.0 643.7 L657.0 643.3 L658.0 642.9 L659.0 642.5 L660.0 642.1 L661.0 641.7 L662.0 641.3 L663.0 640.9 L664.0 640.5 L665.0 640.1 L666.0 639.7 L667.0 639.3 L668.0 638.9 L669.0 638.5 L670.0 638.1 L671.0 637.7 L672.0 637.3 L673.0 636.9 L674.0 636.5 L675.0 636.1 L676.0 635.7 L677.0 635.3 L678.0 634.9 L679.0 634.5 L680.0 634.1 L681.0 633.7 L682.0 633.3 L683.0 632.9 L684.0 632.5 L685.0 632.1 L686.0 631.7 L687.0 631.3 L688.0 630.9 L689.0 630.5 L690.0 630.1 L691.0 629.7 L692.0 629.3 L693.0 628.8 L694.0 628.4 L695.0 628.0 L696.0 627.6 L697.0 627.2 L698.0 626.8 L699.0 626.4 L700.0 626.0 L701.0 625.6 L702.0 625.2 L703.0 624.8 L704.0 624.4 L705.0 624.0 L706.0 623.6 L707.0 623.2 L708.0 622.8 L709.0 622.4 L710.0 622.0 L711.0 621.6 L712.0 621.2 L713.0 620.8 L714.0 620.4 L715.0 620.0 L716.0 619.5 L717.0 619.1 L718.0 618.7 L719.0 618.3 L720.0 617.9 L721.0 617.5 L722.0 617.1 L723.0 616.7 L724.0 616.3 L725.0 615.9 L726.0 615.5 L727.0 615.1 L728.0 614.7 L729.0 614.3 L730.0 613.9 L731.0 613.4 L732.0 613.0 L733.0 612.6 L734.0 612.2 L735.0 611.8 L736.0 611.4 L737.0 611.0 L738.0 610.6 L739.0 610.2 L740.0 609.8 L741.0 609.4 L742.0 608.9 L743.0 608.5 L744.0 608.1 L745.0 607.7 L746.0 607.3 L747.0 606.9 L748.0 606.5 L749.0 606.1 L750.0 605.7 L751.0 605.3 L752.0 604.8 L753.0 604.4 L754.0 604.0 L755.0 603.6 L756.0 603.2 L757.0 602.8 L758.0 602.4 L759.0 602.0 L760.0 601.5 L761.0 601.1 L762.0 600.7 L763.0 600.3 L764.0 599.9 L765.0 599.5 L766.0 599.1 L767.0 598.7 L768.0 598.2 L769.0 597.8 L770.0 597.4 L771.0 597.0 L772.0 596.6 L773.0 596.2 L774.0 595.8 L775.0 595.3 L776.0 594.9 L777.0 594.5 L778.0 594.1 L779.0 593.7 L780.0 593.3 L781.0 592.9 L782.0 592.4 L783.0 592.0 L784.0 591.6 L785.0 591.2 L786.0 590.8 L787.0 590.4 L788.0 589.9 L789.0 589.5 L790.0 589.1 L791.0 588.7 L792.0 588.3 L793.0 587.9 L794.0 587.4 L795.0 587.0 L796.0 586.6 L797.0 586.2 L798.0 585.8 L799.0 585.4 L800.0 584.9 L801.0 584.5 L802.0 584.1 L803.0 583.7 L804.0 583.3 L805.0 582.8 L806.0 582.4 L807.0 582.0 L808.0 581.6 L809.0 581.2 L810.0 580.7 L811.0 580.3 L812.0 579.9 L813.0 579.5 L814.0 579.1 L815.0 578.6 L816.0 578.2 L817.0 577.8 L818.0 577.4 L819.0 576.9 L820.0 576.5 L821.0 576.1 L822.0 575.7 L823.0 575.3 L824.0 574.8 L825.0 574.4 L826.0 574.0 L827.0 573.5 L828.0 573.1 L829.0 572.7 L830.0 572.3 L831.0 571.8 L832.0 571.4 L833.0 571.0 L834.0 570.6 L835.0 570.1 L836.0 569.7 L837.0 569.3 L838.0 568.8 L839.0 568.4 L840.0 568.0 L841.0 567.5 L842.0 567.1 L843.0 566.7 L844.0 566.3 L845.0 565.8 L846.0 565.4 L847.0 565.0 L848.0 564.5 L849.0 564.1 L850.0 563.7 L851.0 563.2 L852.0 562.8 L853.0 562.4 L854.0 561.9 L855.0 561.5 L856.0 561.1 L857.0 560.6 L858.0 560.2 L859.0 559.8 L860.0 559.3 L861.0 558.9 L862.0 558.5 L863.0 558.0 L864.0 557.6 L865.0 557.2 L866.0 556.7 L867.0 556.3 L868.0 555.9 L869.0 555.4 L870.0 555.0 L871.0 554.6 L872.0 554.2 L873.0 553.7 L874.0 553.3 L875.0 552.9 L876.0 552.5 L877.0 552.0 L878.0 551.6 L879.0 551.2 L880.0 550.8 L881.0 550.3 L882.0 549.9 L883.0 549.5 L884.0 549.1 L885.0 548.6 L886.0 548.2 L887.0 547.8 L888.0 547.4 L889.0 547.0 L890.0 546.6 L891.0 546.1 L892.0 545.7 L893.0 545.3 L894.0 544.9 L895.0 544.5 L896.0 544.1 L897.0 543.7 L898.0 543.3 L899.0 542.9 L900.0 542.5 L901.0 542.0 L902.0 541.6 L903.0 541.2 L904.0 540.8 L905.0 540.4 L906.0 540.0 L907.0 539.6 L908.0 539.2 L909.0 538.8 L910.0 538.4 L911.0 538.0 L912.0 537.6 L913.0 537.2 L914.0 536.8 L915.0 536.5 L916.0 536.1 L917.0 535.7 L918.0 535.3 L919.0 534.9 L920.0 534.5 L921.0 534.1 L922.0 533.7 L923.0 533.3 L924.0 532.9 L925.0 532.5 L926.0 532.2 L927.0 531.8 L928.0 531.4 L929.0 531.0 L930.0 530.6 L931.0 530.2 L932.0 529.8 L933.0 529.5 L934.0 529.1 L935.0 528.7 L936.0 528.3 L937.0 527.9 L938.0 527.5 L939.0 527.2 L940.0 526.8 L941.0 526.4 L942.0 526.0 L943.0 525.7 L944.0 525.3 L945.0 524.9 L946.0 524.5 L947.0 524.2 L948.0 523.8 L949.0 523.4 L950.0 523.0 L951.0 522.7 L952.0 522.3 L953.0 521.9 L954.0 521.5 L955.0 521.2 L956.0 520.8 L957.0 520.4 L958.0 520.1 L959.0 519.7 L960.0 519.3 L961.0 519.0 L962.0 518.6 L963.0 518.2 L964.0 517.9 L965.0 517.5 L966.0 517.1 L967.0 516.8 L968.0 516.4 L969.0 516.0 L970.0 515.7 L971.0 515.3 L972.0 515.0 L973.0 514.6 L974.0 514.2 L975.0 513.9 L976.0 513.5 L977.0 513.2 L978.0 512.8 L979.0 512.4 L980.0 512.1 L981.0 511.7 L982.0 511.4 L983.0 511.0" fill="none" stroke="#1545a8" stroke-width="6" stroke-linejoin="round"/>
<path d="M99.0 866.0 L100.0 865.8 L101.0 865.6 L102.0 865.4 L103.0 865.1 L104.0 864.9 L105.0 864.7 L106.0 864.5 L107.0 864.3 L108.0 864.1 L109.0 863.8 L110.0 863.6 L111.0 863.4 L112.0 863.2 L113.0 863.0 L114.0 862.7 L115.0 862.5 L116.0 862.3 L117.0 862.1 L118.0 861.8 L119.0 861.6 L120.0 861.4 L121.0 861.2 L122.0 860.9 L123.0 860.7 L124.0 860.5 L125.0 860.2 L126.0 860.0 L127.0 859.8 L128.0 859.5 L129.0 859.3 L130.0 859.1 L131.0 858.8 L132.0 858.6 L133.0 858.4 L134.0 858.1 L135.0 857.9 L136.0 857.6 L137.0 857.4 L138.0 857.1 L139.0 856.9 L140.0 856.6 L141.0 856.4 L142.0 856.1 L143.0 855.9 L144.0 855.6 L145.0 855.4 L146.0 855.1 L147.0 854.9 L148.0 854.6 L149.0 854.3 L150.0 854.1 L151.0 853.8 L152.0 853.6 L153.0 853.3 L154.0 853.0 L155.0 852.8 L156.0 852.5 L157.0 852.3 L158.0 852.0 L159.0 851.7 L160.0 851.5 L161.0 851.2 L162.0 851.0 L163.0 850.7 L164.0 850.5 L165.0 850.2 L166.0 850.0 L167.0 849.7 L168.0 849.5 L169.0 849.2 L170.0 849.0 L171.0 848.7 L172.0 848.5 L173.0 848.3 L174.0 848.0 L175.0 847.8 L176.0 847.6 L177.0 847.4 L178.0 847.1 L179.0 846.9 L180.0 846.7 L181.0 846.5 L182.0 846.3 L183.0 846.1 L184.0 845.9 L185.0 845.7 L186.0 845.5 L187.0 845.3 L188.0 845.1 L189.0 844.9 L190.0 844.7 L191.0 844.5 L192.0 844.3 L193.0 844.1 L194.0 844.0 L195.0 843.8 L196.0 843.6 L197.0 843.4 L198.0 843.2 L199.0 843.1 L200.0 842.9 L201.0 842.7 L202.0 842.5 L203.0 842.3 L204.0 842.2 L205.0 842.0 L206.0 841.8 L207.0 841.6 L208.0 841.4 L209.0 841.3 L210.0 841.1 L211.0 840.9 L212.0 840.7 L213.0 840.5 L214.0 840.3 L215.0 840.2 L216.0 840.0 L217.0 839.8 L218.0 839.6 L219.0 839.4 L220.0 839.2 L221.0 839.0 L222.0 838.8 L223.0 838.6 L224.0 838.4 L225.0 838.2 L226.0 838.0 L227.0 837.8 L228.0 837.5 L229.0 837.3 L230.0 837.1 L231.0 836.9 L232.0 836.7 L233.0 836.5 L234.0 836.2 L235.0 836.0 L236.0 835.8 L237.0 835.6 L238.0 835.3 L239.0 835.1 L240.0 834.9 L241.0 834.7 L242.0 834.4 L243.0 834.2 L244.0 834.0 L245.0 833.7 L246.0 833.5 L247.0 833.2 L248.0 833.0 L249.0 832.8 L250.0 832.5 L251.0 832.3 L252.0 832.1 L253.0 831.8 L254.0 831.6 L255.0 831.3 L256.0 831.1 L257.0 830.8 L258.0 830.6 L259.0 830.3 L260.0 830.1 L261.0 829.9 L262.0 829.6 L263.0 829.4 L264.0 829.1 L265.0 828.9 L266.0 828.6 L267.0 828.4 L268.0 828.1 L269.0 827.9 L270.0 827.6 L271.0 827.4 L272.0 827.1 L273.0 826.9 L274.0 826.6 L275.0 826.4 L276.0 826.1 L277.0 825.9 L278.0 825.6 L279.0 825.4 L280.0 825.1 L281.0 824.9 L282.0 824.6 L283.0 824.3 L284.0 824.1 L285.0 823.8 L286.0 823.6 L287.0 823.3 L288.0 823.1 L289.0 822.8 L290.0 822.5 L291.0 822.3 L292.0 822.0 L293.0 821.8 L294.0 821.5 L295.0 821.2 L296.0 821.0 L297.0 820.7 L298.0 820.5 L299.0 820.2 L300.0 819.9 L301.0 819.7 L302.0 819.4 L303.0 819.1 L304.0 818.9 L305.0 818.6 L306.0 818.3 L307.0 818.1 L308.0 817.8 L309.0 817.5 L310.0 817.2 L311.0 817.0 L312.0 816.7 L313.0 816.4 L314.0 816.1 L315.0 815.9 L316.0 815.6 L317.0 815.3 L318.0 815.0 L319.0 814.8 L320.0 814.5 L321.0 814.2 L322.0 813.9 L323.0 813.6 L324.0 813.4 L325.0 813.1 L326.0 812.8 L327.0 812.5 L328.0 812.2 L329.0 811.9 L330.0 811.6 L331.0 811.4 L332.0 811.1 L333.0 810.8 L334.0 810.5 L335.0 810.2 L336.0 809.9 L337.0 809.6 L338.0 809.3 L339.0 809.0 L340.0 808.7 L341.0 808.4 L342.0 808.1 L343.0 807.8 L344.0 807.5 L345.0 807.2 L346.0 806.9 L347.0 806.6 L348.0 806.3 L349.0 806.0 L350.0 805.7 L351.0 805.3 L352.0 805.0 L353.0 804.7 L354.0 804.4 L355.0 804.1 L356.0 803.8 L357.0 803.4 L358.0 803.1 L359.0 802.8 L360.0 802.5 L361.0 802.2 L362.0 801.8 L363.0 801.5 L364.0 801.2 L365.0 800.9 L366.0 800.5 L367.0 800.2 L368.0 799.9 L369.0 799.5 L370.0 799.2 L371.0 798.9 L372.0 798.5 L373.0 798.2 L374.0 797.9 L375.0 797.5 L376.0 797.2 L377.0 796.9 L378.0 796.5 L379.0 796.2 L380.0 795.8 L381.0 795.5 L382.0 795.2 L383.0 794.8 L384.0 794.5 L385.0 794.1 L386.0 793.8 L387.0 793.5 L388.0 793.1 L389.0 792.8 L390.0 792.4 L391.0 792.1 L392.0 791.7 L393.0 791.4 L394.0 791.1 L395.0 790.7 L396.0 790.4 L397.0 790.0 L398.0 789.7 L399.0 789.3 L400.0 789.0 L401.0 788.7 L402.0 788.3 L403.0 788.0 L404.0 787.6 L405.0 787.3 L406.0 786.9 L407.0 786.6 L408.0 786.3 L409.0 785.9 L410.0 785.6 L411.0 785.2 L412.0 784.9 L413.0 784.6 L414.0 784.2 L415.0 783.9 L416.0 783.6 L417.0 783.2 L418.0 782.9 L419.0 782.5 L420.0 782.2 L421.0 781.9 L422.0 781.5 L423.0 781.2 L424.0 780.9 L425.0 780.5 L426.0 780.2 L427.0 779.9 L428.0 779.5 L429.0 779.2 L430.0 778.9 L431.0 778.5 L432.0 778.2 L433.0 777.9 L434.0 777.5 L435.0 777.2 L436.0 776.9 L437.0 776.6 L438.0 776.2 L439.0 775.9 L440.0 775.6 L441.0 775.2 L442.0 774.9 L443.0 774.6 L444.0 774.2 L445.0 773.9 L446.0 773.6 L447.0 773.3 L448.0 772.9 L449.0 772.6 L450.0 772.3 L451.0 771.9 L452.0 771.6 L453.0 771.3 L454.0 771.0 L455.0 770.6 L456.0 770.3 L457.0 770.0 L458.0 769.6 L459.0 769.3 L460.0 769.0 L461.0 768.6 L462.0 768.3 L463.0 768.0 L464.0 767.6 L465.0 767.3 L466.0 767.0 L467.0 766.6 L468.0 766.3 L469.0 766.0 L470.0 765.6 L471.0 765.3 L472.0 764.9 L473.0 764.6 L474.0 764.3 L475.0 763.9 L476.0 763.6 L477.0 763.2 L478.0 762.9 L479.0 762.6 L480.0 762.2 L481.0 761.9 L482.0 761.5 L483.0 761.2 L484.0 760.8 L485.0 760.5 L486.0 760.1 L487.0 759.8 L488.0 759.4 L489.0 759.1 L490.0 758.7 L491.0 758.3 L492.0 758.0 L493.0 757.6 L494.0 757.3 L495.0 756.9 L496.0 756.5 L497.0 756.2 L498.0 755.8 L499.0 755.4 L500.0 755.1 L501.0 754.7 L502.0 754.3 L503.0 754.0 L504.0 753.6 L505.0 753.2 L506.0 752.8 L507.0 752.4 L508.0 752.1 L509.0 751.7 L510.0 751.3 L511.0 750.9 L512.0 750.5 L513.0 750.2 L514.0 749.8 L515.0 749.4 L516.0 749.0 L517.0 748.6 L518.0 748.2 L519.0 747.8 L520.0 747.4 L521.0 747.0 L522.0 746.6 L523.0 746.2 L524.0 745.8 L525.0 745.4 L526.0 745.0 L527.0 744.6 L528.0 744.2 L529.0 743.8 L530.0 743.4 L531.0 743.0 L532.0 742.6 L533.0 742.2 L534.0 741.8 L535.0 741.4 L536.0 741.0 L537.0 740.6 L538.0 740.2 L539.0 739.7 L540.0 739.3 L541.0 738.9 L542.0 738.5 L543.0 738.1 L544.0 737.7 L545.0 737.3 L546.0 736.8 L547.0 736.4 L548.0 736.0 L549.0 735.6 L550.0 735.2 L551.0 734.7 L552.0 734.3 L553.0 733.9 L554.0 733.5 L555.0 733.1 L556.0 732.6 L557.0 732.2 L558.0 731.8 L559.0 731.4 L560.0 731.0 L561.0 730.5 L562.0 730.1 L563.0 729.7 L564.0 729.3 L565.0 728.8 L566.0 728.4 L567.0 728.0 L568.0 727.6 L569.0 727.2 L570.0 726.7 L571.0 726.3 L572.0 725.9 L573.0 725.5 L574.0 725.0 L575.0 724.6 L576.0 724.2 L577.0 723.8 L578.0 723.3 L579.0 722.9 L580.0 722.5 L581.0 722.1 L582.0 721.6 L583.0 721.2 L584.0 720.8 L585.0 720.4 L586.0 719.9 L587.0 719.5 L588.0 719.1 L589.0 718.7 L590.0 718.2 L591.0 717.8 L592.0 717.4 L593.0 716.9 L594.0 716.5 L595.0 716.1 L596.0 715.7 L597.0 715.2 L598.0 714.8 L599.0 714.4 L600.0 713.9 L601.0 713.5 L602.0 713.1 L603.0 712.6 L604.0 712.2 L605.0 711.8 L606.0 711.4 L607.0 710.9 L608.0 710.5 L609.0 710.1 L610.0 709.6 L611.0 709.2 L612.0 708.8 L613.0 708.3 L614.0 707.9 L615.0 707.5 L616.0 707.0 L617.0 706.6 L618.0 706.1 L619.0 705.7 L620.0 705.3 L621.0 704.8 L622.0 704.4 L623.0 704.0 L624.0 703.5 L625.0 703.1 L626.0 702.7 L627.0 702.2 L628.0 701.8 L629.0 701.3 L630.0 700.9 L631.0 700.5 L632.0 700.0 L633.0 699.6 L634.0 699.1 L635.0 698.7 L636.0 698.3 L637.0 697.8 L638.0 697.4 L639.0 696.9 L640.0 696.5 L641.0 696.1 L642.0 695.6 L643.0 695.2 L644.0 694.7 L645.0 694.3 L646.0 693.9 L647.0 693.4 L648.0 693.0 L649.0 692.5 L650.0 692.1 L651.0 691.7 L652.0 691.2 L653.0 690.8 L654.0 690.3 L655.0 689.9 L656.0 689.4 L657.0 689.0 L658.0 688.6 L659.0 688.1 L660.0 687.7 L661.0 687.2 L662.0 686.8 L663.0 686.3 L664.0 685.9 L665.0 685.4 L666.0 685.0 L667.0 684.6 L668.0 684.1 L669.0 683.7 L670.0 683.2 L671.0 682.8 L672.0 682.3 L673.0 681.9 L674.0 681.4 L675.0 681.0 L676.0 680.5 L677.0 680.1 L678.0 679.6 L679.0 679.2 L680.0 678.7 L681.0 678.3 L682.0 677.9 L683.0 677.4 L684.0 677.0 L685.0 676.5 L686.0 676.1 L687.0 675.6 L688.0 675.2 L689.0 674.7 L690.0 674.3 L691.0 673.8 L692.0 673.4 L693.0 672.9 L694.0 672.5 L695.0 672.0 L696.0 671.6 L697.0 671.1 L698.0 670.7 L699.0 670.2 L700.0 669.8 L701.0 669.4 L702.0 668.9 L703.0 668.5 L704.0 668.0 L705.0 667.6 L706.0 667.1 L707.0 666.7 L708.0 666.2 L709.0 665.8 L710.0 665.3 L711.0 664.9 L712.0 664.5 L713.0 664.0 L714.0 663.6 L715.0 663.1 L716.0 662.7 L717.0 662.2 L718.0 661.8 L719.0 661.3 L720.0 660.9 L721.0 660.4 L722.0 660.0 L723.0 659.5 L724.0 659.1 L725.0 658.6 L726.0 658.2 L727.0 657.7 L728.0 657.3 L729.0 656.8 L730.0 656.4 L731.0 655.9 L732.0 655.4 L733.0 655.0 L734.0 654.5 L735.0 654.1 L736.0 653.6 L737.0 653.1 L738.0 652.7 L739.0 652.2 L740.0 651.7 L741.0 651.2 L742.0 650.8 L743.0 650.3 L744.0 649.8 L745.0 649.3 L746.0 648.9 L747.0 648.4 L748.0 647.9 L749.0 647.4 L750.0 646.9 L751.0 646.4 L752.0 646.0 L753.0 645.5 L754.0 645.0 L755.0 644.5 L756.0 644.0 L757.0 643.5 L758.0 643.0 L759.0 642.5 L760.0 642.0 L761.0 641.5 L762.0 641.0 L763.0 640.5 L764.0 640.0 L765.0 639.5 L766.0 639.1 L767.0 638.6 L768.0 638.1 L769.0 637.6 L770.0 637.1 L771.0 636.6 L772.0 636.1 L773.0 635.6 L774.0 635.1 L775.0 634.6 L776.0 634.1 L777.0 633.6 L778.0 633.1 L779.0 632.6 L780.0 632.1 L781.0 631.7 L782.0 631.2 L783.0 630.7 L784.0 630.2 L785.0 629.7 L786.0 629.2 L787.0 628.8 L788.0 628.3 L789.0 627.8 L790.0 627.3 L791.0 626.8 L792.0 626.3 L793.0 625.9 L794.0 625.4 L795.0 624.9 L796.0 624.4 L797.0 624.0 L798.0 623.5 L799.0 623.0 L800.0 622.5 L801.0 622.1 L802.0 621.6 L803.0 621.1 L804.0 620.6 L805.0 620.2 L806.0 619.7 L807.0 619.2 L808.0 618.7 L809.0 618.3 L810.0 617.8 L811.0 617.3 L812.0 616.8 L813.0 616.4 L814.0 615.9 L815.0 615.4 L816.0 614.9 L817.0 614.4 L818.0 614.0 L819.0 613.5 L820.0 613.0 L821.0 612.5 L822.0 612.0 L823.0 611.6 L824.0 611.1 L825.0 610.6 L826.0 610.1 L827.0 609.6 L828.0 609.1 L829.0 608.6 L830.0 608.1 L831.0 607.7 L832.0 607.2 L833.0 606.7 L834.0 606.2 L835.0 605.7 L836.0 605.2 L837.0 604.7 L838.0 604.2 L839.0 603.7 L840.0 603.2 L841.0 602.7 L842.0 602.2 L843.0 601.7 L844.0 601.2 L845.0 600.7 L846.0 600.2 L847.0 599.7 L848.0 599.2 L849.0 598.7 L850.0 598.2 L851.0 597.7 L852.0 597.2 L853.0 596.7 L854.0 596.2 L855.0 595.7 L856.0 595.2 L857.0 594.7 L858.0 594.2 L859.0 593.7 L860.0 593.2 L861.0 592.7 L862.0 592.2 L863.0 591.7 L864.0 591.2 L865.0 590.7 L866.0 590.2 L867.0 589.7 L868.0 589.2 L869.0 588.7 L870.0 588.2 L871.0 587.7 L872.0 587.2 L873.0 586.7 L874.0 586.2 L875.0 585.6 L876.0 585.1 L877.0 584.6 L878.0 584.1 L879.0 583.6 L880.0 583.1 L881.0 582.6 L882.0 582.1 L883.0 581.6 L884.0 581.1 L885.0 580.6 L886.0 580.1 L887.0 579.6 L888.0 579.0 L889.0 578.5 L890.0 578.0 L891.0 577.5 L892.0 577.0 L893.0 576.5 L894.0 576.0 L895.0 575.5 L896.0 575.0 L897.0 574.5 L898.0 573.9 L899.0 573.4 L900.0 572.9 L901.0 572.4 L902.0 571.9 L903.0 571.4 L904.0 570.9 L905.0 570.4 L906.0 569.9 L907.0 569.3 L908.0 568.8 L909.0 568.3 L910.0 567.8 L911.0 567.3 L912.0 566.8 L913.0 566.3 L914.0 565.8 L915.0 565.2 L916.0 564.7 L917.0 564.2 L918.0 563.7 L919.0 563.2 L920.0 562.7 L921.0 562.2 L922.0 561.7 L923.0 561.1 L924.0 560.6 L925.0 560.1 L926.0 559.6 L927.0 559.1 L928.0 558.6 L929.0 558.1 L930.0 557.6 L931.0 557.1 L932.0 556.5 L933.0 556.0 L934.0 555.5 L935.0 555.0 L936.0 554.5 L937.0 554.0 L938.0 553.5 L939.0 553.0 L940.0 552.5 L941.0 552.0 L942.0 551.5 L943.0 551.0 L944.0 550.4 L945.0 549.9 L946.0 549.4 L947.0 548.9 L948.0 548.4 L949.0 547.9 L950.0 547.4 L951.0 546.9 L952.0 546.4 L953.0 545.9 L954.0 545.4 L955.0 544.9 L956.0 544.4 L957.0 543.9 L958.0 543.4 L959.0 542.9 L960.0 542.4 L961.0 541.9 L962.0 541.4 L963.0 540.9 L964.0 540.4 L965.0 539.9 L966.0 539.4 L967.0 538.9 L968.0 538.4 L969.0 537.9 L970.0 537.4 L971.0 536.9 L972.0 536.4 L973.0 535.9 L974.0 535.5 L975.0 535.0 L976.0 534.5 L977.0 534.0 L978.0 533.5 L979.0 533.0 L980.0 532.5 L981.0 532.0 L982.0 531.5 L983.0 531.0" fill="none" stroke="#000000" stroke-width="3" stroke-linejoin="round"/>
</g>
<g stroke="#000" stroke-width="1.8" fill="none">
<rect x="99.0" y="74" width="884.0" height="792.0"/>
<path d="M85.5 866.00 H99.0 M983.0 866.00 H996.5"/>
<path d="M92.5 852.80 H99.0 M983.0 852.80 H988.0"/>
<path d="M92.5 839.60 H99.0 M983.0 839.60 H988.0"/>
<path d="M92.5 826.40 H99.0 M983.0 826.40 H988.0"/>
<path d="M92.5 813.20 H99.0 M983.0 813.20 H988.0"/>
<path d="M92.5 800.00 H99.0 M983.0 800.00 H988.0"/>
<path d="M92.5 786.80 H99.0 M983.0 786.80 H988.0"/>
<path d="M92.5 773.60 H99.0 M983.0 773.60 H988.0"/>
<path d="M92.5 760.40 H99.0 M983.0 760.40 H988.0"/>
<path d="M92.5 747.20 H99.0 M983.0 747.20 H988.0"/>
<path d="M85.5 734.00 H99.0 M983.0 734.00 H996.5"/>
<path d="M92.5 720.80 H99.0 M983.0 720.80 H988.0"/>
<path d="M92.5 707.60 H99.0 M983.0 707.60 H988.0"/>
<path d="M92.5 694.40 H99.0 M983.0 694.40 H988.0"/>
<path d="M92.5 681.20 H99.0 M983.0 681.20 H988.0"/>
<path d="M92.5 668.00 H99.0 M983.0 668.00 H988.0"/>
<path d="M92.5 654.80 H99.0 M983.0 654.80 H988.0"/>
<path d="M92.5 641.60 H99.0 M983.0 641.60 H988.0"/>
<path d="M92.5 628.40 H99.0 M983.0 628.40 H988.0"/>
<path d="M92.5 615.20 H99.0 M983.0 615.20 H988.0"/>
<path d="M85.5 602.00 H99.0 M983.0 602.00 H996.5"/>
<path d="M92.5 588.80 H99.0 M983.0 588.80 H988.0"/>
<path d="M92.5 575.60 H99.0 M983.0 575.60 H988.0"/>
<path d="M92.5 562.40 H99.0 M983.0 562.40 H988.0"/>
<path d="M92.5 549.20 H99.0 M983.0 549.20 H988.0"/>
<path d="M92.5 536.00 H99.0 M983.0 536.00 H988.0"/>
<path d="M92.5 522.80 H99.0 M983.0 522.80 H988.0"/>
<path d="M92.5 509.60 H99.0 M983.0 509.60 H988.0"/>
<path d="M92.5 496.40 H99.0 M983.0 496.40 H988.0"/>
<path d="M92.5 483.20 H99.0 M983.0 483.20 H988.0"/>
<path d="M85.5 470.00 H99.0 M983.0 470.00 H996.5"/>
<path d="M92.5 456.80 H99.0 M983.0 456.80 H988.0"/>
<path d="M92.5 443.60 H99.0 M983.0 443.60 H988.0"/>
<path d="M92.5 430.40 H99.0 M983.0 430.40 H988.0"/>
<path d="M92.5 417.20 H99.0 M983.0 417.20 H988.0"/>
<path d="M92.5 404.00 H99.0 M983.0 404.00 H988.0"/>
<path d="M92.5 390.80 H99.0 M983.0 390.80 H988.0"/>
<path d="M92.5 377.60 H99.0 M983.0 377.60 H988.0"/>
<path d="M92.5 364.40 H99.0 M983.0 364.40 H988.0"/>
<path d="M92.5 351.20 H99.0 M983.0 351.20 H988.0"/>
<path d="M85.5 338.00 H99.0 M983.0 338.00 H996.5"/>
<path d="M92.5 324.80 H99.0 M983.0 324.80 H988.0"/>
<path d="M92.5 311.60 H99.0 M983.0 311.60 H988.0"/>
<path d="M92.5 298.40 H99.0 M983.0 298.40 H988.0"/>
<path d="M92.5 285.20 H99.0 M983.0 285.20 H988.0"/>
<path d="M92.5 272.00 H99.0 M983.0 272.00 H988.0"/>
<path d="M92.5 258.80 H99.0 M983.0 258.80 H988.0"/>
<path d="M92.5 245.60 H99.0 M983.0 245.60 H988.0"/>
<path d="M92.5 232.40 H99.0 M983.0 232.40 H988.0"/>
<path d="M92.5 219.20 H99.0 M983.0 219.20 H988.0"/>
<path d="M85.5 206.00 H99.0 M983.0 206.00 H996.5"/>
<path d="M92.5 192.80 H99.0 M983.0 192.80 H988.0"/>
<path d="M92.5 179.60 H99.0 M983.0 179.60 H988.0"/>
<path d="M92.5 166.40 H99.0 M983.0 166.40 H988.0"/>
<path d="M92.5 153.20 H99.0 M983.0 153.20 H988.0"/>
<path d="M92.5 140.00 H99.0 M983.0 140.00 H988.0"/>
<path d="M92.5 126.80 H99.0 M983.0 126.80 H988.0"/>
<path d="M92.5 113.60 H99.0 M983.0 113.60 H988.0"/>
<path d="M92.5 100.40 H99.0 M983.0 100.40 H988.0"/>
<path d="M92.5 87.20 H99.0 M983.0 87.20 H988.0"/>
<path d="M85.5 74.00 H99.0 M983.0 74.00 H996.5"/>
<path d="M99.00 866.0 V873.0 M99.00 74.0 V67.0"/>
<path d="M179.36 866.0 V879.5 M179.36 74.0 V60.5"/>
<path d="M259.73 866.0 V873.0 M259.73 74.0 V67.0"/>
<path d="M340.09 866.0 V879.5 M340.09 74.0 V60.5"/>
<path d="M420.45 866.0 V873.0 M420.45 74.0 V67.0"/>
<path d="M500.82 866.0 V879.5 M500.82 74.0 V60.5"/>
<path d="M581.18 866.0 V873.0 M581.18 74.0 V67.0"/>
<path d="M661.55 866.0 V879.5 M661.55 74.0 V60.5"/>
<path d="M741.91 866.0 V873.0 M741.91 74.0 V67.0"/>
<path d="M822.27 866.0 V879.5 M822.27 74.0 V60.5"/>
<path d="M902.64 866.0 V873.0 M902.64 74.0 V67.0"/>
<path d="M983.00 866.0 V879.5 M983.00 74.0 V60.5"/>
</g>
<g fill="#000">
<text transform="translate(143.92 913.00) scale(0.8830 1)" font-size="36.00">2000</text>
<text transform="translate(304.65 913.00) scale(0.8830 1)" font-size="36.00">2020</text>
<text transform="translate(465.37 913.00) scale(0.8830 1)" font-size="36.00">2040</text>
<text transform="translate(626.10 913.00) scale(0.8830 1)" font-size="36.00">2060</text>
<text transform="translate(786.83 913.00) scale(0.8830 1)" font-size="36.00">2080</text>
<text transform="translate(947.56 913.00) scale(0.8830 1)" font-size="36.00">2100</text>
<text transform="translate(57.17 875.60) scale(0.8830 1)" font-size="36.00">0</text>
<text transform="translate(58.44 743.60) scale(0.8830 1)" font-size="36.00">1</text>
<text transform="translate(57.49 611.60) scale(0.8830 1)" font-size="36.00">2</text>
<text transform="translate(57.49 479.60) scale(0.8830 1)" font-size="36.00">3</text>
<text transform="translate(56.85 347.60) scale(0.8830 1)" font-size="36.00">4</text>
<text transform="translate(57.49 215.60) scale(0.8830 1)" font-size="36.00">5</text>
<text transform="translate(57.49 83.60) scale(0.8830 1)" font-size="36.00">6</text>
</g>
<text transform="translate(107.90 33.75) scale(0.8971 1)" font-size="44.30" font-weight="bold">Temperature change</text>
<text transform="translate(504.23 962.60) scale(0.8521 1)" font-size="42.00">Year</text>
<text transform="translate(24.8 681.14) rotate(-90) scale(1 0.9047)" font-size="37.00">Temperature Change (°C)</text>
<text transform="translate(207.50 113.50) scale(0.8940 1)" font-size="27.00">A1FI</text>
<text transform="translate(207.50 148.10) scale(0.8940 1)" font-size="27.00">A1B</text>
<text transform="translate(207.50 182.50) scale(0.8940 1)" font-size="27.00">A1T</text>
<text transform="translate(207.50 217.25) scale(0.8940 1)" font-size="27.00">A2</text>
<text transform="translate(205.57 251.90) scale(0.8940 1)" font-size="27.00">B1</text>
<text transform="translate(205.57 286.50) scale(0.8940 1)" font-size="27.00">B2</text>
<text transform="translate(206.53 324.00) scale(0.8940 1)" font-size="27.00">IS92a</text>
<text transform="translate(276.36 323.70) scale(0.9007 1)" font-size="22.90">(TAR method)</text>
<path d="M137.5 104.75 H198" stroke="#fe0a17" stroke-width="5.6" stroke-linecap="round" stroke-dasharray="4.4 10"/>
<path d="M135.0 139.25 L138.0 136.25 L197.6 136.25 L200.6 139.25 L197.6 142.25 L138.0 142.25 Z" fill="#fe0a17"/>
<path d="M138 174 H198" stroke="#fe0a17" stroke-width="6" stroke-dasharray="18.5 9.5"/>
<path d="M135.0 208.40 L138.0 205.40 L197.6 205.40 L200.6 208.40 L197.6 211.40 L138.0 211.40 Z" fill="#e0a010"/>
<path d="M135.0 244.25 L138.0 241.25 L197.6 241.25 L200.6 244.25 L197.6 247.25 L138.0 247.25 Z" fill="#00964a"/>
<path d="M135.0 278.75 L138.0 275.75 L197.6 275.75 L200.6 278.75 L197.6 281.75 L138.0 281.75 Z" fill="#1545a8"/>
<path d="M136.5 316.4 H198.5" stroke="#000" stroke-width="3.2"/>
<text transform="translate(648.29 117.10) scale(0.8627 1)" font-size="28.00">Several models</text>
<text transform="translate(680.43 147.90) scale(0.8619 1)" font-size="28.00">all SRES</text>
<text transform="translate(680.03 179.20) scale(0.8636 1)" font-size="28.00">envelope</text>
<text transform="translate(563.07 249.00) scale(0.8619 1)" font-size="28.00">Model ensemble</text>
<text transform="translate(600.03 280.00) scale(0.8655 1)" font-size="28.00">all SRES</text>
<text transform="translate(599.02 311.00) scale(0.8726 1)" font-size="28.00">envelope</text>
<text transform="translate(1161.40 364.70) scale(0.8980 1)" font-size="28.00">All</text>
<text transform="translate(1148.74 394.70) scale(0.8984 1)" font-size="28.00">IS92</text>
<text transform="translate(1008.98 768.30) scale(0.9000 1)" font-size="28.00">Bars show the</text>
<text transform="translate(1011.54 799.80) scale(0.8967 1)" font-size="28.00">range in 2100</text>
<text transform="translate(1017.74 830.70) scale(0.8971 1)" font-size="28.00">produced by</text>
<text transform="translate(1005.25 860.70) scale(0.8923 1)" font-size="28.00">several models</text>
<path d="M741.4 193.3 L813.6 242.3" stroke="#000" stroke-width="1.6" fill="none"/><path d="M822.0 248.0 L805.4 242.2 L810.5 234.7 Z" fill="#000"/>
<path d="M660.3 324.5 L773.2 389.4" stroke="#000" stroke-width="1.6" fill="none"/><path d="M782.0 394.5 L765.0 389.9 L769.5 382.1 Z" fill="#000"/>
<path d="M1015.5 591.2 V366.9" stroke="#fe0a17" stroke-width="5.4" stroke-linecap="butt" fill="none"/><rect x="1006.8" y="364.0" width="17.5" height="5.8" fill="#fe0a17"/><rect x="1006.8" y="588.3" width="17.5" height="5.8" fill="#fe0a17"/>
<path d="M1039.9 633.7 V429.7" stroke="#fe0a17" stroke-width="5.4" stroke-linecap="butt" stroke-dasharray="21 11.5" fill="none"/><rect x="1031.2" y="426.8" width="17.5" height="5.8" fill="#fe0a17"/><rect x="1031.2" y="630.8" width="17.5" height="5.8" fill="#fe0a17"/>
<path d="M1066.2 438.8 V123.5" stroke="#fe0a17" stroke-width="4.6" stroke-linecap="round" stroke-dasharray="4.5 11.5" fill="none"/><rect x="1057.0" y="120.6" width="18.5" height="5.8" fill="#fe0a17"/><rect x="1057.0" y="435.9" width="18.5" height="5.8" fill="#fe0a17"/>
<path d="M1086.9 500.8 V239.6" stroke="#e0a010" stroke-width="5.6" stroke-linecap="butt" fill="none"/><rect x="1078.5" y="236.7" width="16.8" height="5.8" fill="#e0a010"/><rect x="1078.5" y="497.9" width="16.8" height="5.8" fill="#e0a010"/>
<path d="M1111.2 683.7 V523.8" stroke="#00964a" stroke-width="5.6" stroke-linecap="butt" fill="none"/><rect x="1102.7" y="520.9" width="17.0" height="5.8" fill="#00964a"/><rect x="1102.7" y="680.8" width="17.0" height="5.8" fill="#00964a"/>
<path d="M1135.2 614.6 V412.3" stroke="#1545a8" stroke-width="5.6" stroke-linecap="butt" fill="none"/><rect x="1126.7" y="409.4" width="17.0" height="5.8" fill="#1545a8"/><rect x="1126.7" y="611.7" width="17.0" height="5.8" fill="#1545a8"/>
<path d="M1173.9 733.0 V404.0" stroke="#000000" stroke-width="4.4" stroke-linecap="butt" stroke-dasharray="12.5 11.8" fill="none"/><rect x="1165.7" y="401.4" width="16.5" height="5.2" fill="#000000"/><rect x="1165.7" y="730.4" width="16.5" height="5.2" fill="#000000"/>
</svg>
</body></html>
